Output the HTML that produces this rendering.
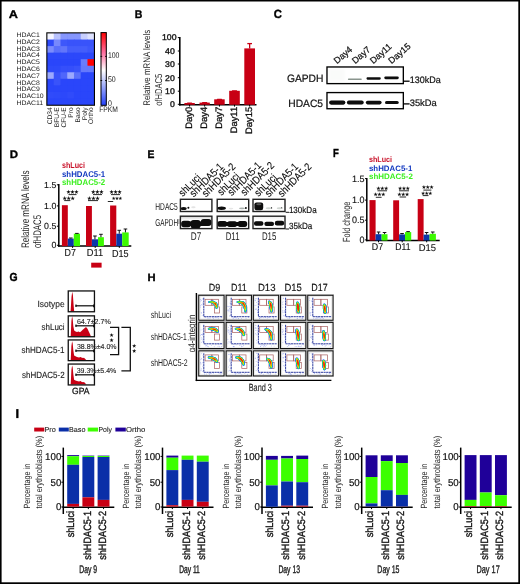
<!DOCTYPE html><html><head><meta charset="utf-8"><style>html,body{margin:0;padding:0;background:#fff;}svg{display:block;opacity:0.999;} text{font-family:"Liberation Sans",sans-serif;text-rendering:geometricPrecision;}</style></head><body>
<svg width="520" height="584" viewBox="0 0 520 584">
<rect x="0.00" y="0.00" width="520.00" height="584.00" fill="#fff" />
<text transform="translate(8.70,17.90) scale(1.1433,1)" font-size="11.14" font-weight="bold" fill="#000" stroke="#000" stroke-width="0.306" >A</text>
<text transform="translate(16.50,37.04) scale(1.0600,1)" font-size="6.50" fill="#222" >HDAC1</text>
<text transform="translate(16.50,43.82) scale(1.0600,1)" font-size="6.50" fill="#222" >HDAC2</text>
<text transform="translate(16.50,50.60) scale(1.0600,1)" font-size="6.50" fill="#222" >HDAC3</text>
<text transform="translate(16.50,57.38) scale(1.0600,1)" font-size="6.50" fill="#222" >HDAC4</text>
<text transform="translate(16.50,64.16) scale(1.0600,1)" font-size="6.50" fill="#222" >HDAC5</text>
<text transform="translate(16.50,70.94) scale(1.0600,1)" font-size="6.50" fill="#222" >HDAC6</text>
<text transform="translate(16.50,77.72) scale(1.0600,1)" font-size="6.50" fill="#222" >HDAC7</text>
<text transform="translate(16.50,84.50) scale(1.0600,1)" font-size="6.50" fill="#222" >HDAC8</text>
<text transform="translate(16.50,91.28) scale(1.0600,1)" font-size="6.50" fill="#222" >HDAC9</text>
<text transform="translate(16.50,98.06) scale(1.0600,1)" font-size="6.50" fill="#222" >HDAC10</text>
<text transform="translate(16.50,104.84) scale(1.0600,1)" font-size="6.50" fill="#222" >HDAC11</text>
<rect x="47.00" y="33.00" width="47.20" height="72.00" fill="rgb(42,70,250)" />
<rect x="47.00" y="33.00" width="7.34" height="7.15" fill="rgb(244,245,255)" />
<rect x="53.74" y="33.00" width="7.34" height="7.15" fill="rgb(185,194,253)" />
<rect x="60.49" y="33.00" width="7.34" height="7.15" fill="rgb(134,150,252)" />
<rect x="67.23" y="33.00" width="7.34" height="7.15" fill="rgb(134,150,252)" />
<rect x="73.97" y="33.00" width="7.34" height="7.15" fill="rgb(134,150,252)" />
<rect x="80.71" y="33.00" width="7.34" height="7.15" fill="rgb(200,207,254)" />
<rect x="87.46" y="33.00" width="6.74" height="7.15" fill="rgb(222,226,254)" />
<rect x="47.00" y="39.55" width="7.34" height="7.15" fill="rgb(46,74,250)" />
<rect x="53.74" y="39.55" width="7.34" height="7.15" fill="rgb(119,137,252)" />
<rect x="60.49" y="39.55" width="7.34" height="7.15" fill="rgb(61,87,251)" />
<rect x="67.23" y="39.55" width="7.34" height="7.15" fill="rgb(57,83,250)" />
<rect x="73.97" y="39.55" width="7.34" height="7.15" fill="rgb(57,83,250)" />
<rect x="80.71" y="39.55" width="7.34" height="7.15" fill="rgb(57,83,250)" />
<rect x="87.46" y="39.55" width="6.74" height="7.15" fill="rgb(57,83,250)" />
<rect x="47.00" y="46.09" width="7.34" height="7.15" fill="rgb(123,140,252)" />
<rect x="53.74" y="46.09" width="7.34" height="7.15" fill="rgb(90,112,251)" />
<rect x="60.49" y="46.09" width="7.34" height="7.15" fill="rgb(97,117,251)" />
<rect x="67.23" y="46.09" width="7.34" height="7.15" fill="rgb(68,93,251)" />
<rect x="73.97" y="46.09" width="7.34" height="7.15" fill="rgb(68,93,251)" />
<rect x="80.71" y="46.09" width="7.34" height="7.15" fill="rgb(68,93,251)" />
<rect x="87.46" y="46.09" width="6.74" height="7.15" fill="rgb(61,87,251)" />
<rect x="47.00" y="52.64" width="7.34" height="7.15" fill="rgb(44,72,250)" />
<rect x="53.74" y="52.64" width="7.34" height="7.15" fill="rgb(44,72,250)" />
<rect x="60.49" y="52.64" width="7.34" height="7.15" fill="rgb(44,72,250)" />
<rect x="67.23" y="52.64" width="7.34" height="7.15" fill="rgb(44,72,250)" />
<rect x="73.97" y="52.64" width="7.34" height="7.15" fill="rgb(44,72,250)" />
<rect x="80.71" y="52.64" width="7.34" height="7.15" fill="rgb(44,72,250)" />
<rect x="87.46" y="52.64" width="6.74" height="7.15" fill="rgb(44,72,250)" />
<rect x="47.00" y="59.18" width="7.34" height="7.15" fill="rgb(42,70,250)" />
<rect x="53.74" y="59.18" width="7.34" height="7.15" fill="rgb(42,70,250)" />
<rect x="60.49" y="59.18" width="7.34" height="7.15" fill="rgb(42,70,250)" />
<rect x="67.23" y="59.18" width="7.34" height="7.15" fill="rgb(42,70,250)" />
<rect x="73.97" y="59.18" width="7.34" height="7.15" fill="rgb(42,70,250)" />
<rect x="80.71" y="59.18" width="7.34" height="7.15" fill="rgb(105,125,252)" />
<rect x="87.46" y="59.18" width="6.74" height="7.15" fill="#FF0000" />
<rect x="47.00" y="65.73" width="7.34" height="7.15" fill="rgb(46,74,250)" />
<rect x="53.74" y="65.73" width="7.34" height="7.15" fill="rgb(46,74,250)" />
<rect x="60.49" y="65.73" width="7.34" height="7.15" fill="rgb(53,79,250)" />
<rect x="67.23" y="65.73" width="7.34" height="7.15" fill="rgb(53,79,250)" />
<rect x="73.97" y="65.73" width="7.34" height="7.15" fill="rgb(57,83,250)" />
<rect x="80.71" y="65.73" width="7.34" height="7.15" fill="rgb(101,121,252)" />
<rect x="87.46" y="65.73" width="6.74" height="7.15" fill="rgb(101,121,252)" />
<rect x="47.00" y="72.27" width="7.34" height="7.15" fill="rgb(156,169,253)" />
<rect x="53.74" y="72.27" width="7.34" height="7.15" fill="rgb(57,83,250)" />
<rect x="60.49" y="72.27" width="7.34" height="7.15" fill="rgb(79,102,251)" />
<rect x="67.23" y="72.27" width="7.34" height="7.15" fill="rgb(156,169,253)" />
<rect x="73.97" y="72.27" width="7.34" height="7.15" fill="rgb(90,112,251)" />
<rect x="80.71" y="72.27" width="7.34" height="7.15" fill="rgb(42,70,250)" />
<rect x="87.46" y="72.27" width="6.74" height="7.15" fill="rgb(42,70,250)" />
<rect x="47.00" y="78.82" width="7.34" height="7.15" fill="rgb(42,70,250)" />
<rect x="53.74" y="78.82" width="7.34" height="7.15" fill="rgb(57,83,250)" />
<rect x="60.49" y="78.82" width="7.34" height="7.15" fill="rgb(42,70,250)" />
<rect x="67.23" y="78.82" width="7.34" height="7.15" fill="rgb(42,70,250)" />
<rect x="73.97" y="78.82" width="7.34" height="7.15" fill="rgb(42,70,250)" />
<rect x="80.71" y="78.82" width="7.34" height="7.15" fill="rgb(42,70,250)" />
<rect x="87.46" y="78.82" width="6.74" height="7.15" fill="rgb(42,70,250)" />
<rect x="47.00" y="85.36" width="7.34" height="7.15" fill="rgb(42,70,250)" />
<rect x="53.74" y="85.36" width="7.34" height="7.15" fill="rgb(42,70,250)" />
<rect x="60.49" y="85.36" width="7.34" height="7.15" fill="rgb(42,70,250)" />
<rect x="67.23" y="85.36" width="7.34" height="7.15" fill="rgb(42,70,250)" />
<rect x="73.97" y="85.36" width="7.34" height="7.15" fill="rgb(42,70,250)" />
<rect x="80.71" y="85.36" width="7.34" height="7.15" fill="rgb(42,70,250)" />
<rect x="87.46" y="85.36" width="6.74" height="7.15" fill="rgb(42,70,250)" />
<rect x="47.00" y="91.91" width="7.34" height="7.15" fill="rgb(48,75,250)" />
<rect x="53.74" y="91.91" width="7.34" height="7.15" fill="rgb(46,74,250)" />
<rect x="60.49" y="91.91" width="7.34" height="7.15" fill="rgb(44,72,250)" />
<rect x="67.23" y="91.91" width="7.34" height="7.15" fill="rgb(48,75,250)" />
<rect x="73.97" y="91.91" width="7.34" height="7.15" fill="rgb(42,70,250)" />
<rect x="80.71" y="91.91" width="7.34" height="7.15" fill="rgb(42,70,250)" />
<rect x="87.46" y="91.91" width="6.74" height="7.15" fill="rgb(42,70,250)" />
<rect x="47.00" y="98.45" width="7.34" height="6.55" fill="rgb(42,70,250)" />
<rect x="53.74" y="98.45" width="7.34" height="6.55" fill="rgb(42,70,250)" />
<rect x="60.49" y="98.45" width="7.34" height="6.55" fill="rgb(42,70,250)" />
<rect x="67.23" y="98.45" width="7.34" height="6.55" fill="rgb(42,70,250)" />
<rect x="73.97" y="98.45" width="7.34" height="6.55" fill="rgb(42,70,250)" />
<rect x="80.71" y="98.45" width="7.34" height="6.55" fill="rgb(42,70,250)" />
<rect x="87.46" y="98.45" width="6.74" height="6.55" fill="rgb(42,70,250)" />
<rect x="46.85" y="32.85" width="47.60" height="72.40" fill="none" stroke="#000" stroke-width="1.1" />
<text transform="translate(52.14,107.40) rotate(-90) scale(0.9700,1)" font-size="6.80" text-anchor="end" fill="#222" >CD34</text>
<text transform="translate(59.44,107.40) rotate(-90) scale(0.9700,1)" font-size="6.80" text-anchor="end" fill="#222" >BFU-E</text>
<text transform="translate(65.94,107.40) rotate(-90) scale(0.9700,1)" font-size="6.80" text-anchor="end" fill="#222" >CFU-E</text>
<text transform="translate(73.24,107.40) rotate(-90) scale(0.9700,1)" font-size="6.80" text-anchor="end" fill="#222" >Pro</text>
<text transform="translate(80.14,107.40) rotate(-90) scale(0.9700,1)" font-size="6.80" text-anchor="end" fill="#222" >Baso</text>
<text transform="translate(86.54,107.40) rotate(-90) scale(0.9700,1)" font-size="6.80" text-anchor="end" fill="#222" >Poly</text>
<text transform="translate(93.24,107.40) rotate(-90) scale(0.9700,1)" font-size="6.80" text-anchor="end" fill="#222" >Ortho</text>
<defs><linearGradient id="cb" x1="0" y1="0" x2="0" y2="1"><stop offset="0" stop-color="#FF0000"/><stop offset="0.28" stop-color="#FF6FA0"/><stop offset="0.52" stop-color="#FFFFFF"/><stop offset="0.68" stop-color="#B8C2FC"/><stop offset="1" stop-color="#2340FA"/></linearGradient></defs>
<rect x="100.90" y="32.40" width="5.60" height="73.00" fill="url(#cb)" />
<rect x="101.00" y="32.60" width="5.30" height="72.70" fill="none" stroke="#000" stroke-width="1.0" />
<line x1="100.50" y1="56.40" x2="102.20" y2="56.40" stroke="#000" stroke-width="0.9" />
<line x1="105.10" y1="56.40" x2="106.80" y2="56.40" stroke="#000" stroke-width="0.9" />
<line x1="100.50" y1="80.50" x2="102.20" y2="80.50" stroke="#000" stroke-width="0.9" />
<line x1="105.10" y1="80.50" x2="106.80" y2="80.50" stroke="#000" stroke-width="0.9" />
<text transform="translate(107.90,57.72) scale(0.8479,1)" font-size="8.20" fill="#222" >100</text>
<text transform="translate(107.90,81.82) scale(0.8552,1)" font-size="8.20" fill="#222" >50</text>
<text transform="translate(107.90,105.72) scale(0.8552,1)" font-size="8.20" fill="#222" >0</text>
<text transform="translate(99.20,112.30) scale(0.8415,1)" font-size="8.00" fill="#222" >FPKM</text>
<text transform="translate(134.70,17.90) scale(0.9444,1)" font-size="11.14" font-weight="bold" fill="#000" stroke="#000" stroke-width="0.371" >B</text>
<line x1="179.80" y1="37.10" x2="179.80" y2="105.40" stroke="#000" stroke-width="1.6" />
<line x1="179.00" y1="104.75" x2="256.50" y2="104.75" stroke="#000" stroke-width="1.4" />
<line x1="177.80" y1="37.60" x2="179.80" y2="37.60" stroke="#000" stroke-width="1.0" />
<text transform="translate(176.50,40.49) scale(1.0400,1)" font-size="8.40" text-anchor="end" fill="#111" stroke="#111" stroke-width="0.337" >100</text>
<line x1="177.80" y1="51.00" x2="179.80" y2="51.00" stroke="#000" stroke-width="1.0" />
<text transform="translate(174.80,53.89) scale(1.0400,1)" font-size="8.40" text-anchor="end" fill="#111" stroke="#111" stroke-width="0.337" >40</text>
<line x1="177.80" y1="64.00" x2="179.80" y2="64.00" stroke="#000" stroke-width="1.0" />
<text transform="translate(174.80,66.89) scale(1.0400,1)" font-size="8.40" text-anchor="end" fill="#111" stroke="#111" stroke-width="0.337" >30</text>
<line x1="177.80" y1="77.70" x2="179.80" y2="77.70" stroke="#000" stroke-width="1.0" />
<text transform="translate(174.80,80.59) scale(1.0400,1)" font-size="8.40" text-anchor="end" fill="#111" stroke="#111" stroke-width="0.337" >20</text>
<line x1="177.80" y1="91.20" x2="179.80" y2="91.20" stroke="#000" stroke-width="1.0" />
<text transform="translate(174.80,94.09) scale(1.0400,1)" font-size="8.40" text-anchor="end" fill="#111" stroke="#111" stroke-width="0.337" >10</text>
<line x1="177.80" y1="104.30" x2="179.80" y2="104.30" stroke="#000" stroke-width="1.0" />
<text transform="translate(174.80,107.19) scale(1.0400,1)" font-size="8.40" text-anchor="end" fill="#111" stroke="#111" stroke-width="0.337" >0</text>
<rect x="184.40" y="103.00" width="10.40" height="1.75" fill="#C80014" />
<rect x="199.50" y="102.60" width="10.30" height="2.15" fill="#C80014" />
<rect x="214.20" y="99.30" width="10.50" height="5.45" fill="#C80014" />
<rect x="229.20" y="90.80" width="10.60" height="13.95" fill="#C80014" />
<rect x="244.30" y="48.40" width="10.70" height="56.35" fill="#C80014" />
<rect x="187.00" y="102.50" width="5.2" height="1.2" rx="0.5" fill="#C80014"/>
<rect x="202.05" y="102.10" width="5.2" height="1.2" rx="0.5" fill="#C80014"/>
<rect x="216.85" y="98.70" width="5.2" height="1.2" rx="0.5" fill="#C80014"/>
<rect x="231.90" y="90.20" width="5.2" height="1.2" rx="0.5" fill="#C80014"/>
<line x1="249.65" y1="48.60" x2="249.65" y2="43.60" stroke="#C80014" stroke-width="1.3" />
<line x1="247.30" y1="43.60" x2="252.00" y2="43.60" stroke="#C80014" stroke-width="1.3" />
<line x1="189.60" y1="104.75" x2="189.60" y2="106.60" stroke="#000" stroke-width="1.0" />
<line x1="204.65" y1="104.75" x2="204.65" y2="106.60" stroke="#000" stroke-width="1.0" />
<line x1="219.45" y1="104.75" x2="219.45" y2="106.60" stroke="#000" stroke-width="1.0" />
<line x1="234.50" y1="104.75" x2="234.50" y2="106.60" stroke="#000" stroke-width="1.0" />
<line x1="249.65" y1="104.75" x2="249.65" y2="106.60" stroke="#000" stroke-width="1.0" />
<text transform="translate(192.20,106.90) rotate(-90)" font-size="9.40" text-anchor="end" fill="#111" stroke="#111" stroke-width="0.300" >Day0</text>
<text transform="translate(207.10,106.90) rotate(-90)" font-size="9.40" text-anchor="end" fill="#111" stroke="#111" stroke-width="0.300" >Day4</text>
<text transform="translate(221.80,106.90) rotate(-90)" font-size="9.40" text-anchor="end" fill="#111" stroke="#111" stroke-width="0.300" >Day7</text>
<text transform="translate(237.10,106.90) rotate(-90)" font-size="9.40" text-anchor="end" fill="#111" stroke="#111" stroke-width="0.300" >Day11</text>
<text transform="translate(251.80,106.90) rotate(-90)" font-size="9.40" text-anchor="end" fill="#111" stroke="#111" stroke-width="0.300" >Day15</text>
<text transform="translate(149.86,105.80) rotate(-90) scale(0.8230,1)" font-size="9.60" fill="#1e1e1e" >Relative mRNA levels</text>
<text transform="translate(162.36,105.80) rotate(-90) scale(0.7576,1)" font-size="10.00" fill="#1e1e1e" >ofHDAC5</text>
<text transform="translate(273.80,18.30) scale(0.9576,1)" font-size="11.86" font-weight="bold" fill="#000" stroke="#000" stroke-width="0.365" >C</text>
<defs><filter id="bl1" x="-30%" y="-150%" width="160%" height="400%"><feGaussianBlur stdDeviation="0.45"/></filter><filter id="bl2" x="-30%" y="-150%" width="160%" height="400%"><feGaussianBlur stdDeviation="0.8"/></filter></defs>
<text transform="translate(337.00,64.20) rotate(-41)" font-size="9.00" fill="#111" stroke="#111" stroke-width="0.250" >Day4</text>
<text transform="translate(355.20,64.20) rotate(-41)" font-size="9.00" fill="#111" stroke="#111" stroke-width="0.250" >Day7</text>
<text transform="translate(373.20,64.20) rotate(-41)" font-size="9.00" fill="#111" stroke="#111" stroke-width="0.250" >Day11</text>
<text transform="translate(391.60,64.20) rotate(-41)" font-size="9.00" fill="#111" stroke="#111" stroke-width="0.250" >Day15</text>
<rect x="328.5" y="69" width="16" height="12" fill="#fafbfa" filter="url(#bl2)"/>
<rect x="347.90" y="78.50" width="13.90" height="1.40" rx="0.70" fill="#8a958e" filter="url(#bl1)"/>
<rect x="366.50" y="77.35" width="14.30" height="2.30" rx="1.15" fill="#0a0a0a" filter="url(#bl1)"/>
<rect x="384.30" y="76.45" width="14.50" height="2.70" rx="1.35" fill="#0a0a0a" filter="url(#bl1)"/>
<rect x="329.10" y="100.45" width="16.30" height="4.30" rx="2.15" fill="#0a0a0a" filter="url(#bl1)"/>
<rect x="346.90" y="100.60" width="16.80" height="4.00" rx="2.00" fill="#0a0a0a" filter="url(#bl1)"/>
<rect x="365.80" y="100.80" width="15.80" height="3.60" rx="1.80" fill="#0a0a0a" filter="url(#bl1)"/>
<rect x="385.00" y="101.10" width="13.70" height="3.00" rx="1.50" fill="#0a0a0a" filter="url(#bl1)"/>
<rect x="326.98" y="66.97" width="76.35" height="16.65" fill="none" stroke="#000" stroke-width="1.35" />
<rect x="326.98" y="92.58" width="76.35" height="16.15" fill="none" stroke="#000" stroke-width="1.35" />
<text transform="translate(286.90,81.60) scale(0.9619,1)" font-size="10.70" fill="#111" stroke="#111" stroke-width="0.208" >GAPDH</text>
<text transform="translate(288.20,107.10) scale(0.9622,1)" font-size="10.70" fill="#111" stroke="#111" stroke-width="0.208" >HDAC5</text>
<line x1="404.00" y1="81.20" x2="409.60" y2="81.20" stroke="#000" stroke-width="1.3" />
<line x1="404.00" y1="103.90" x2="409.60" y2="103.90" stroke="#000" stroke-width="1.3" />
<text transform="translate(409.70,82.80) scale(0.9568,1)" font-size="9.40" fill="#111" stroke="#111" stroke-width="0.209" >130kDa</text>
<text transform="translate(409.70,105.90) scale(0.9974,1)" font-size="9.40" fill="#111" stroke="#111" stroke-width="0.201" >35kDa</text>
<text transform="translate(9.80,157.90) scale(1.0586,1)" font-size="10.86" font-weight="bold" fill="#000" stroke="#000" stroke-width="0.331" >D</text>
<text transform="translate(62.00,167.80) scale(0.8533,1)" font-size="8.40" font-weight="bold" fill="#C81028" >shLuci</text>
<text transform="translate(62.00,177.00) scale(0.9371,1)" font-size="8.40" font-weight="bold" fill="#1238C0" >shHDAC5-1</text>
<text transform="translate(62.00,184.50) scale(0.9371,1)" font-size="8.40" font-weight="bold" fill="#3CF020" >shHDAC5-2</text>
<line x1="58.80" y1="184.00" x2="58.80" y2="246.80" stroke="#000" stroke-width="1.5" />
<line x1="58.10" y1="246.10" x2="131.30" y2="246.10" stroke="#000" stroke-width="1.5" />
<line x1="56.90" y1="184.80" x2="58.80" y2="184.80" stroke="#000" stroke-width="1.0" />
<text transform="translate(56.30,187.83) scale(1.0000,1)" font-size="8.80" text-anchor="end" fill="#111" stroke="#111" stroke-width="0.120" >1.5</text>
<line x1="56.90" y1="205.90" x2="58.80" y2="205.90" stroke="#000" stroke-width="1.0" />
<text transform="translate(56.30,208.93) scale(1.0000,1)" font-size="8.80" text-anchor="end" fill="#111" stroke="#111" stroke-width="0.120" >1.0</text>
<line x1="56.90" y1="226.20" x2="58.80" y2="226.20" stroke="#000" stroke-width="1.0" />
<text transform="translate(56.30,229.23) scale(1.0000,1)" font-size="8.80" text-anchor="end" fill="#111" stroke="#111" stroke-width="0.120" >0.5</text>
<line x1="56.90" y1="245.30" x2="58.80" y2="245.30" stroke="#000" stroke-width="1.0" />
<text transform="translate(56.30,248.33) scale(1.0000,1)" font-size="8.80" text-anchor="end" fill="#111" stroke="#111" stroke-width="0.120" >0</text>
<rect x="61.90" y="205.20" width="5.90" height="40.90" fill="#C80014" />
<rect x="67.80" y="238.60" width="6.00" height="7.50" fill="#0A37AA" />
<line x1="70.80" y1="238.60" x2="70.80" y2="238.00" stroke="#111" stroke-width="1.0" />
<line x1="69.00" y1="238.00" x2="72.60" y2="238.00" stroke="#111" stroke-width="1.0" />
<rect x="73.80" y="233.70" width="6.20" height="12.40" fill="#3CFA00" />
<line x1="76.90" y1="233.70" x2="76.90" y2="233.40" stroke="#111" stroke-width="1.0" />
<line x1="75.10" y1="233.40" x2="78.70" y2="233.40" stroke="#111" stroke-width="1.0" />
<rect x="86.00" y="206.00" width="5.90" height="40.10" fill="#C80014" />
<rect x="91.90" y="239.30" width="6.10" height="6.80" fill="#0A37AA" />
<line x1="94.95" y1="239.30" x2="94.95" y2="236.00" stroke="#111" stroke-width="1.0" />
<line x1="93.15" y1="236.00" x2="96.75" y2="236.00" stroke="#111" stroke-width="1.0" />
<rect x="98.00" y="237.20" width="5.90" height="8.90" fill="#3CFA00" />
<line x1="100.95" y1="237.20" x2="100.95" y2="234.30" stroke="#111" stroke-width="1.0" />
<line x1="99.15" y1="234.30" x2="102.75" y2="234.30" stroke="#111" stroke-width="1.0" />
<rect x="110.10" y="205.50" width="6.20" height="40.60" fill="#C80014" />
<rect x="116.30" y="233.70" width="5.90" height="12.40" fill="#0A37AA" />
<line x1="119.25" y1="233.70" x2="119.25" y2="230.30" stroke="#111" stroke-width="1.0" />
<line x1="117.45" y1="230.30" x2="121.05" y2="230.30" stroke="#111" stroke-width="1.0" />
<rect x="122.20" y="232.40" width="6.50" height="13.70" fill="#3CFA00" />
<line x1="125.45" y1="232.40" x2="125.45" y2="229.00" stroke="#111" stroke-width="1.0" />
<line x1="123.65" y1="229.00" x2="127.25" y2="229.00" stroke="#111" stroke-width="1.0" />
<polygon points="68.48,189.70 69.02,191.26 70.67,191.29 69.36,192.28 69.84,193.86 68.48,192.92 67.13,193.86 67.61,192.28 66.30,191.29 67.94,191.26" fill="#111"/>
<polygon points="72.45,189.70 72.99,191.26 74.64,191.29 73.33,192.28 73.80,193.86 72.45,192.92 71.10,193.86 71.57,192.28 70.26,191.29 71.91,191.26" fill="#111"/>
<polygon points="76.42,189.70 76.96,191.26 78.60,191.29 77.29,192.28 77.77,193.86 76.42,192.92 75.06,193.86 75.54,192.28 74.23,191.29 75.88,191.26" fill="#111"/>
<line x1="68.50" y1="194.60" x2="76.50" y2="194.60" stroke="#111" stroke-width="0.9" />
<polygon points="64.70,196.08 65.25,197.65 66.91,197.68 65.58,198.69 66.06,200.28 64.70,199.33 63.34,200.28 63.82,198.69 62.49,197.68 64.15,197.65" fill="#111"/>
<polygon points="68.70,196.08 69.25,197.65 70.91,197.68 69.58,198.69 70.06,200.28 68.70,199.33 67.34,200.28 67.82,198.69 66.49,197.68 68.15,197.65" fill="#111"/>
<polygon points="72.70,196.08 73.25,197.65 74.91,197.68 73.58,198.69 74.06,200.28 72.70,199.33 71.34,200.28 71.82,198.69 70.49,197.68 72.15,197.65" fill="#111"/>
<line x1="64.20" y1="200.60" x2="70.40" y2="200.60" stroke="#111" stroke-width="0.9" />
<polygon points="93.25,189.62 93.81,191.23 95.51,191.27 94.15,192.29 94.65,193.92 93.25,192.95 91.85,193.92 92.35,192.29 90.99,191.27 92.69,191.23" fill="#111"/>
<polygon points="97.35,189.62 97.91,191.23 99.61,191.27 98.25,192.29 98.75,193.92 97.35,192.95 95.95,193.92 96.45,192.29 95.09,191.27 96.79,191.23" fill="#111"/>
<polygon points="101.45,189.62 102.01,191.23 103.71,191.27 102.35,192.29 102.85,193.92 101.45,192.95 100.05,193.92 100.55,192.29 99.19,191.27 100.89,191.23" fill="#111"/>
<line x1="93.00" y1="194.60" x2="102.00" y2="194.60" stroke="#111" stroke-width="0.9" />
<polygon points="89.35,196.02 89.91,197.63 91.61,197.67 90.25,198.69 90.75,200.32 89.35,199.35 87.95,200.32 88.45,198.69 87.09,197.67 88.79,197.63" fill="#111"/>
<polygon points="93.45,196.02 94.01,197.63 95.71,197.67 94.35,198.69 94.85,200.32 93.45,199.35 92.05,200.32 92.55,198.69 91.19,197.67 92.89,197.63" fill="#111"/>
<polygon points="97.55,196.02 98.11,197.63 99.81,197.67 98.45,198.69 98.95,200.32 97.55,199.35 96.15,200.32 96.65,198.69 95.29,197.67 96.99,197.63" fill="#111"/>
<line x1="88.00" y1="200.60" x2="98.00" y2="200.60" stroke="#111" stroke-width="0.9" />
<polygon points="111.60,189.68 112.15,191.25 113.81,191.28 112.48,192.29 112.96,193.88 111.60,192.93 110.24,193.88 110.72,192.29 109.39,191.28 111.05,191.25" fill="#111"/>
<polygon points="115.60,189.68 116.15,191.25 117.81,191.28 116.48,192.29 116.96,193.88 115.60,192.93 114.24,193.88 114.72,192.29 113.39,191.28 115.05,191.25" fill="#111"/>
<polygon points="119.60,189.68 120.15,191.25 121.81,191.28 120.48,192.29 120.96,193.88 119.60,192.93 118.24,193.88 118.72,192.29 117.39,191.28 119.05,191.25" fill="#111"/>
<line x1="111.00" y1="194.60" x2="120.00" y2="194.60" stroke="#111" stroke-width="0.9" />
<polygon points="113.67,196.47 114.12,197.77 115.51,197.80 114.40,198.64 114.80,199.96 113.67,199.17 112.53,199.96 112.93,198.64 111.83,197.80 113.21,197.77" fill="#111"/>
<polygon points="117.00,196.47 117.45,197.77 118.84,197.80 117.74,198.64 118.14,199.96 117.00,199.17 115.86,199.96 116.26,198.64 115.16,197.80 116.55,197.77" fill="#111"/>
<polygon points="120.33,196.47 120.79,197.77 122.17,197.80 121.07,198.64 121.47,199.96 120.33,199.17 119.20,199.96 119.60,198.64 118.49,197.80 119.88,197.77" fill="#111"/>
<line x1="107.80" y1="201.50" x2="113.20" y2="201.50" stroke="#111" stroke-width="0.9" />
<text transform="translate(70.20,256.21) scale(0.8666,1)" font-size="10.20" text-anchor="middle" fill="#111" stroke="#111" stroke-width="0.115" >D7</text>
<text transform="translate(95.00,256.21) scale(0.9085,1)" font-size="10.20" text-anchor="middle" fill="#111" stroke="#111" stroke-width="0.110" >D11</text>
<text transform="translate(120.20,257.41) scale(0.8871,1)" font-size="10.20" text-anchor="middle" fill="#111" stroke="#111" stroke-width="0.113" >D15</text>
<rect x="91.20" y="262.70" width="10.40" height="4.90" fill="#C80014" />
<line x1="72.60" y1="246.10" x2="72.60" y2="247.90" stroke="#000" stroke-width="1.0" />
<line x1="95.20" y1="246.10" x2="95.20" y2="247.90" stroke="#000" stroke-width="1.0" />
<line x1="119.30" y1="246.10" x2="119.30" y2="247.90" stroke="#000" stroke-width="1.0" />
<text transform="translate(29.12,248.00) rotate(-90) scale(0.7401,1)" font-size="10.90" fill="#1e1e1e" >Relative mRNA levels</text>
<text transform="translate(40.81,248.00) rotate(-90) scale(0.7103,1)" font-size="11.00" fill="#1e1e1e" >ofHDAC5</text>
<text transform="translate(147.60,158.00) scale(0.9528,1)" font-size="10.86" font-weight="bold" fill="#000" stroke="#000" stroke-width="0.367" >E</text>
<defs><linearGradient id="gtop" x1="0" y1="0" x2="0" y2="1"><stop offset="0" stop-color="#c8c8c8"/><stop offset="1" stop-color="#ffffff"/></linearGradient></defs>
<rect x="180.80" y="216.60" width="31.00" height="3.50" fill="url(#gtop)" opacity="0.8"/>
<rect x="217.60" y="216.60" width="31.00" height="3.50" fill="url(#gtop)" opacity="0.5"/>
<rect x="253.40" y="216.60" width="31.20" height="3.50" fill="url(#gtop)" opacity="0.3"/>
<rect x="177.50" y="219.00" width="2.20" height="5.00" fill="#bbbbbb" />
<g filter="url(#bl1)" fill="#080808">
<rect x="181.2" y="220.8" width="9.6" height="6.4" rx="2.6"/>
<rect x="190.6" y="220.0" width="10.0" height="8.4" rx="3.0"/>
<rect x="200.8" y="218.9" width="10.6" height="7.0" rx="3.0"/>
<rect x="184" y="221.5" width="24" height="4.5"/>
<rect x="217.4" y="221.0" width="9.6" height="5.8" rx="2.6"/>
<rect x="227.0" y="221.3" width="10.2" height="5.6" rx="2.6"/>
<rect x="237.6" y="221.0" width="9.6" height="5.9" rx="2.6"/>
<rect x="220" y="222" width="25" height="4"/>
<rect x="254.0" y="221.3" width="9.4" height="4.5" rx="2.0"/>
<rect x="264.4" y="221.8" width="9.6" height="4.1" rx="2.0"/>
<rect x="274.8" y="220.7" width="9.4" height="4.8" rx="2.2"/>
<ellipse cx="183.6" cy="208.4" rx="3.0" ry="1.5"/>
<circle cx="188.4" cy="207.8" r="1.0"/>
<ellipse cx="221.6" cy="208.3" rx="4.3" ry="1.7"/>
<circle cx="245.9" cy="208.0" r="0.9"/>
<rect x="254.4" y="202.4" width="8.8" height="7.8" rx="2.2"/>
<circle cx="271.5" cy="207.9" r="0.7"/>
<circle cx="281.6" cy="207.9" r="0.7"/>
</g>
<g filter="url(#bl1)">
<ellipse cx="242.0" cy="208.3" rx="3.0" ry="0.9" fill="#a8b0ac"/>
<ellipse cx="193.4" cy="207.2" rx="2.2" ry="1.0" fill="#e4e4e4"/>
<ellipse cx="268.5" cy="208.3" rx="2.8" ry="1.0" fill="#d0d6d2"/>
<ellipse cx="279.3" cy="208.3" rx="2.6" ry="1.0" fill="#d0d6d2"/>
<ellipse cx="258.8" cy="204.2" rx="2.6" ry="1.0" fill="#555"/>
<ellipse cx="231.0" cy="208.6" rx="2.4" ry="0.8" fill="#e6e6e6"/>
</g>
<rect x="180.40" y="199.30" width="31.50" height="12.20" fill="none" stroke="#222" stroke-width="1.4" />
<rect x="180.40" y="216.20" width="31.50" height="12.40" fill="none" stroke="#222" stroke-width="1.4" />
<rect x="217.20" y="199.30" width="31.50" height="12.20" fill="none" stroke="#222" stroke-width="1.4" />
<rect x="217.20" y="216.20" width="31.50" height="12.40" fill="none" stroke="#222" stroke-width="1.4" />
<rect x="253.00" y="199.30" width="32.00" height="12.20" fill="none" stroke="#222" stroke-width="1.4" />
<rect x="253.00" y="216.20" width="32.00" height="12.40" fill="none" stroke="#222" stroke-width="1.4" />
<text transform="translate(155.30,209.80) scale(0.6638,1)" font-size="10.00" fill="#151515" >HDAC5</text>
<text transform="translate(155.30,226.00) scale(0.6383,1)" font-size="10.00" fill="#151515" >GAPDH</text>
<text transform="translate(182.70,197.10) rotate(-45) scale(0.8700,1)" font-size="10.60" stroke="#1a1a1a" stroke-width="0.115" >shLuci</text>
<text transform="translate(193.80,197.40) rotate(-45) scale(0.8700,1)" font-size="10.60" stroke="#1a1a1a" stroke-width="0.115" >shHDA5-1</text>
<text transform="translate(206.10,197.40) rotate(-45) scale(0.8700,1)" font-size="10.60" stroke="#1a1a1a" stroke-width="0.115" >shHDA5-2</text>
<text transform="translate(221.40,195.90) rotate(-45) scale(0.8700,1)" font-size="10.60" stroke="#1a1a1a" stroke-width="0.115" >shLuci</text>
<text transform="translate(231.80,196.30) rotate(-45) scale(0.8700,1)" font-size="10.60" stroke="#1a1a1a" stroke-width="0.115" >shHDA5-1</text>
<text transform="translate(244.80,196.30) rotate(-45) scale(0.8700,1)" font-size="10.60" stroke="#1a1a1a" stroke-width="0.115" >shHDA5-2</text>
<text transform="translate(258.50,197.10) rotate(-45) scale(0.8700,1)" font-size="10.60" stroke="#1a1a1a" stroke-width="0.115" >shLuci</text>
<text transform="translate(268.90,197.40) rotate(-45) scale(0.8700,1)" font-size="10.60" stroke="#1a1a1a" stroke-width="0.115" >shHDA5-1</text>
<text transform="translate(282.00,197.40) rotate(-45) scale(0.8700,1)" font-size="10.60" stroke="#1a1a1a" stroke-width="0.115" >shHDA5-2</text>
<text transform="translate(288.90,212.60) scale(0.8929,1)" font-size="9.00" fill="#111" stroke="#111" stroke-width="0.168" >130kDa</text>
<text transform="translate(289.00,229.40) scale(0.8956,1)" font-size="9.00" fill="#111" stroke="#111" stroke-width="0.167" >35kDa</text>
<line x1="285.70" y1="212.30" x2="289.00" y2="212.30" stroke="#000" stroke-width="0.9" />
<line x1="285.70" y1="229.00" x2="289.00" y2="229.00" stroke="#000" stroke-width="0.9" />
<text transform="translate(196.00,239.50) scale(0.7334,1)" font-size="11.20" text-anchor="middle" fill="#222" >D7</text>
<text transform="translate(232.60,239.50) scale(0.7009,1)" font-size="11.20" text-anchor="middle" fill="#222" >D11</text>
<text transform="translate(269.10,239.50) scale(0.7009,1)" font-size="11.20" text-anchor="middle" fill="#222" >D15</text>
<text transform="translate(333.00,157.30) scale(0.8206,1)" font-size="11.57" font-weight="bold" fill="#000" stroke="#000" stroke-width="0.427" >F</text>
<text transform="translate(369.00,161.50) scale(0.9073,1)" font-size="7.90" font-weight="bold" fill="#C81028" >shLuci</text>
<text transform="translate(369.00,170.80) scale(0.9964,1)" font-size="7.90" font-weight="bold" fill="#1238C0" >shHDAC5-1</text>
<text transform="translate(369.00,178.60) scale(1.0102,1)" font-size="7.90" font-weight="bold" fill="#3CF020" >shHDAC5-2</text>
<line x1="366.80" y1="178.10" x2="366.80" y2="241.20" stroke="#000" stroke-width="1.5" />
<line x1="366.10" y1="240.50" x2="439.70" y2="240.50" stroke="#000" stroke-width="1.5" />
<line x1="365.00" y1="178.60" x2="366.80" y2="178.60" stroke="#000" stroke-width="1.0" />
<text transform="translate(364.60,181.76) scale(0.9800,1)" font-size="9.20" text-anchor="end" fill="#111" stroke="#111" stroke-width="0.122" >1.5</text>
<line x1="365.00" y1="200.10" x2="366.80" y2="200.10" stroke="#000" stroke-width="1.0" />
<text transform="translate(364.60,203.26) scale(0.9800,1)" font-size="9.20" text-anchor="end" fill="#111" stroke="#111" stroke-width="0.122" >1.0</text>
<line x1="365.00" y1="220.20" x2="366.80" y2="220.20" stroke="#000" stroke-width="1.0" />
<text transform="translate(364.60,223.36) scale(0.9800,1)" font-size="9.20" text-anchor="end" fill="#111" stroke="#111" stroke-width="0.122" >0.5</text>
<line x1="365.00" y1="239.90" x2="366.80" y2="239.90" stroke="#000" stroke-width="1.0" />
<text transform="translate(364.60,243.06) scale(0.9800,1)" font-size="9.20" text-anchor="end" fill="#111" stroke="#111" stroke-width="0.122" >0</text>
<rect x="369.50" y="200.10" width="6.10" height="40.40" fill="#C80014" />
<rect x="375.60" y="234.20" width="6.00" height="6.30" fill="#0A37AA" />
<line x1="378.60" y1="234.20" x2="378.60" y2="232.00" stroke="#111" stroke-width="1.0" />
<line x1="376.80" y1="232.00" x2="380.40" y2="232.00" stroke="#111" stroke-width="1.0" />
<rect x="381.60" y="234.20" width="5.90" height="6.30" fill="#3CFA00" />
<line x1="384.55" y1="234.20" x2="384.55" y2="232.50" stroke="#111" stroke-width="1.0" />
<line x1="382.75" y1="232.50" x2="386.35" y2="232.50" stroke="#111" stroke-width="1.0" />
<rect x="393.20" y="200.30" width="5.90" height="40.20" fill="#C80014" />
<rect x="399.10" y="234.40" width="5.90" height="6.10" fill="#0A37AA" />
<line x1="402.05" y1="234.40" x2="402.05" y2="233.50" stroke="#111" stroke-width="1.0" />
<line x1="400.25" y1="233.50" x2="403.85" y2="233.50" stroke="#111" stroke-width="1.0" />
<rect x="405.00" y="232.10" width="6.20" height="8.40" fill="#3CFA00" />
<line x1="408.10" y1="232.10" x2="408.10" y2="231.60" stroke="#111" stroke-width="1.0" />
<line x1="406.30" y1="231.60" x2="409.90" y2="231.60" stroke="#111" stroke-width="1.0" />
<rect x="417.70" y="199.10" width="5.90" height="41.40" fill="#C80014" />
<rect x="423.60" y="234.60" width="6.00" height="5.90" fill="#0A37AA" />
<line x1="426.60" y1="234.60" x2="426.60" y2="232.50" stroke="#111" stroke-width="1.0" />
<line x1="424.80" y1="232.50" x2="428.40" y2="232.50" stroke="#111" stroke-width="1.0" />
<rect x="429.60" y="233.80" width="6.30" height="6.70" fill="#3CFA00" />
<line x1="432.75" y1="233.80" x2="432.75" y2="232.00" stroke="#111" stroke-width="1.0" />
<line x1="430.95" y1="232.00" x2="434.55" y2="232.00" stroke="#111" stroke-width="1.0" />
<polygon points="378.43,186.16 378.96,187.67 380.57,187.71 379.29,188.68 379.75,190.21 378.43,189.30 377.12,190.21 377.58,188.68 376.30,187.71 377.91,187.67" fill="#111"/>
<polygon points="382.30,186.16 382.83,187.67 384.43,187.71 383.15,188.68 383.62,190.21 382.30,189.30 380.98,190.21 381.45,188.68 380.17,187.71 381.77,187.67" fill="#111"/>
<polygon points="386.17,186.16 386.69,187.67 388.30,187.71 387.02,188.68 387.48,190.21 386.17,189.30 384.85,190.21 385.31,188.68 384.03,187.71 385.64,187.67" fill="#111"/>
<line x1="377.50" y1="190.80" x2="387.00" y2="190.80" stroke="#111" stroke-width="0.9" />
<polygon points="375.62,192.18 376.14,193.68 377.73,193.71 376.46,194.67 376.92,196.20 375.62,195.29 374.31,196.20 374.77,194.67 373.50,193.71 375.09,193.68" fill="#111"/>
<polygon points="379.45,192.18 379.97,193.68 381.56,193.71 380.30,194.67 380.76,196.20 379.45,195.29 378.14,196.20 378.60,194.67 377.34,193.71 378.93,193.68" fill="#111"/>
<polygon points="383.28,192.18 383.81,193.68 385.40,193.71 384.13,194.67 384.59,196.20 383.28,195.29 381.98,196.20 382.44,194.67 381.17,193.71 382.76,193.68" fill="#111"/>
<line x1="375.80" y1="197.30" x2="381.60" y2="197.30" stroke="#111" stroke-width="0.9" />
<polygon points="400.12,186.18 400.64,187.68 402.23,187.71 400.96,188.67 401.42,190.20 400.12,189.29 398.81,190.20 399.27,188.67 398.00,187.71 399.59,187.68" fill="#111"/>
<polygon points="403.95,186.18 404.47,187.68 406.06,187.71 404.80,188.67 405.26,190.20 403.95,189.29 402.64,190.20 403.10,188.67 401.84,187.71 403.43,187.68" fill="#111"/>
<polygon points="407.78,186.18 408.31,187.68 409.90,187.71 408.63,188.67 409.09,190.20 407.78,189.29 406.48,190.20 406.94,188.67 405.67,187.71 407.26,187.68" fill="#111"/>
<line x1="399.00" y1="190.80" x2="409.00" y2="190.80" stroke="#111" stroke-width="0.9" />
<polygon points="399.42,192.18 399.94,193.68 401.53,193.71 400.26,194.67 400.72,196.20 399.42,195.29 398.11,196.20 398.57,194.67 397.30,193.71 398.89,193.68" fill="#111"/>
<polygon points="403.25,192.18 403.77,193.68 405.36,193.71 404.10,194.67 404.56,196.20 403.25,195.29 401.94,196.20 402.40,194.67 401.14,193.71 402.73,193.68" fill="#111"/>
<polygon points="407.08,192.18 407.61,193.68 409.20,193.71 407.93,194.67 408.39,196.20 407.08,195.29 405.78,196.20 406.24,194.67 404.97,193.71 406.56,193.68" fill="#111"/>
<line x1="399.60" y1="197.00" x2="406.10" y2="197.00" stroke="#111" stroke-width="0.9" />
<polygon points="423.92,184.98 424.44,186.48 426.03,186.51 424.76,187.47 425.22,189.00 423.92,188.09 422.61,189.00 423.07,187.47 421.80,186.51 423.39,186.48" fill="#111"/>
<polygon points="427.75,184.98 428.27,186.48 429.86,186.51 428.60,187.47 429.06,189.00 427.75,188.09 426.44,189.00 426.90,187.47 425.64,186.51 427.23,186.48" fill="#111"/>
<polygon points="431.58,184.98 432.11,186.48 433.70,186.51 432.43,187.47 432.89,189.00 431.58,188.09 430.28,189.00 430.74,187.47 429.47,186.51 431.06,186.48" fill="#111"/>
<line x1="423.40" y1="190.10" x2="431.40" y2="190.10" stroke="#111" stroke-width="0.9" />
<polygon points="423.10,191.31 423.59,192.72 425.09,192.75 423.89,193.66 424.33,195.09 423.10,194.24 421.87,195.09 422.31,193.66 421.11,192.75 422.61,192.72" fill="#111"/>
<polygon points="426.70,191.31 427.19,192.72 428.69,192.75 427.49,193.66 427.93,195.09 426.70,194.24 425.47,195.09 425.91,193.66 424.71,192.75 426.21,192.72" fill="#111"/>
<polygon points="430.30,191.31 430.79,192.72 432.29,192.75 431.09,193.66 431.53,195.09 430.30,194.24 429.07,195.09 429.51,193.66 428.31,192.75 429.81,192.72" fill="#111"/>
<line x1="422.70" y1="195.60" x2="428.50" y2="195.60" stroke="#111" stroke-width="0.9" />
<text transform="translate(377.50,250.07) scale(0.9020,1)" font-size="9.80" text-anchor="middle" fill="#111" stroke="#111" stroke-width="0.111" >D7</text>
<text transform="translate(402.90,250.07) scale(0.8789,1)" font-size="9.80" text-anchor="middle" fill="#111" stroke="#111" stroke-width="0.114" >D11</text>
<text transform="translate(427.40,251.07) scale(0.9623,1)" font-size="9.80" text-anchor="middle" fill="#111" stroke="#111" stroke-width="0.104" >D15</text>
<line x1="378.50" y1="240.50" x2="378.50" y2="242.30" stroke="#000" stroke-width="1.0" />
<line x1="402.20" y1="240.50" x2="402.20" y2="242.30" stroke="#000" stroke-width="1.0" />
<line x1="426.70" y1="240.50" x2="426.70" y2="242.30" stroke="#000" stroke-width="1.0" />
<text transform="translate(350.24,242.00) rotate(-90) scale(0.7075,1)" font-size="10.40" fill="#1e1e1e" >Fold change</text>
<text transform="translate(9.40,281.20) scale(0.8890,1)" font-size="11.71" font-weight="bold" fill="#000" stroke="#000" stroke-width="0.394" >G</text>
<path d="M70.6,311.4 L71.5,297 L72.2,291.8 L72.9,295 L73.6,305 L74.2,311.4 Z" fill="#C80014"/>
<rect x="68.25" y="290.95" width="26.20" height="20.80" fill="none" stroke="#111" stroke-width="1.3" />
<path d="M70.7,336.4 L71.4,321 L72.1,316.3 L72.7,319 L73.3,326 L74.2,330.6 L75.6,331.6 L77,332.0 L78.5,331.4 L80,332.2 L81.5,331.0 L83,329.6 L84.5,328.2 L85.6,327.3 L86.6,327.6 L87.6,329.0 L89.0,332.0 L90.2,334.5 L90.9,336.4 Z" fill="#C80014"/>
<rect x="68.25" y="315.85" width="26.20" height="20.90" fill="none" stroke="#111" stroke-width="1.3" />
<path d="M70.7,360.3 L71.4,346 L72.1,341.2 L72.7,343.5 L73.3,350 L74.1,355.6 L75.5,356.3 L77,356.9 L79,357.4 L80.5,356.9 L81.4,357.6 L83,358.0 L84,357.7 L85,358.7 L86.4,360.3 Z" fill="#C80014"/>
<rect x="68.25" y="339.95" width="26.20" height="20.70" fill="none" stroke="#111" stroke-width="1.3" />
<path d="M70.7,384.6 L71.4,370 L72.1,365.4 L72.7,367.5 L73.3,374 L74.1,379.8 L75.5,380.5 L77,381.1 L79,381.5 L80.5,381.0 L81.4,381.7 L83,382.2 L84,381.9 L85,382.9 L86.4,384.6 Z" fill="#C80014"/>
<rect x="68.25" y="364.05" width="26.20" height="20.90" fill="none" stroke="#111" stroke-width="1.3" />
<line x1="75.60" y1="305.80" x2="94.00" y2="305.80" stroke="#111" stroke-width="1.25" />
<line x1="76.00" y1="304.50" x2="76.00" y2="307.10" stroke="#111" stroke-width="1.2" />
<line x1="93.70" y1="304.40" x2="93.70" y2="307.20" stroke="#111" stroke-width="1.3" />
<line x1="75.60" y1="325.80" x2="94.00" y2="325.80" stroke="#111" stroke-width="1.25" />
<line x1="76.00" y1="324.50" x2="76.00" y2="327.10" stroke="#111" stroke-width="1.2" />
<line x1="93.70" y1="324.40" x2="93.70" y2="327.20" stroke="#111" stroke-width="1.3" />
<line x1="75.60" y1="350.80" x2="94.00" y2="350.80" stroke="#111" stroke-width="1.25" />
<line x1="76.00" y1="349.50" x2="76.00" y2="352.10" stroke="#111" stroke-width="1.2" />
<line x1="93.70" y1="349.40" x2="93.70" y2="352.20" stroke="#111" stroke-width="1.3" />
<line x1="75.60" y1="374.80" x2="94.00" y2="374.80" stroke="#111" stroke-width="1.25" />
<line x1="76.00" y1="373.50" x2="76.00" y2="376.10" stroke="#111" stroke-width="1.2" />
<line x1="93.70" y1="373.40" x2="93.70" y2="376.20" stroke="#111" stroke-width="1.3" />
<text transform="translate(76.90,323.70) scale(0.9862,1)" font-size="7.20" fill="#222" stroke="#222" stroke-width="0.101" >64.7±2.7%</text>
<text transform="translate(76.90,348.70) scale(0.9736,1)" font-size="7.20" fill="#222" stroke="#222" stroke-width="0.103" >38.8%±4.0%</text>
<text transform="translate(76.70,373.00) scale(0.9711,1)" font-size="7.20" fill="#222" stroke="#222" stroke-width="0.103" >39.3%±5.4%</text>
<path d="M110,327.3 H118.6 V354.7 H110" fill="none" stroke="#111" stroke-width="1.3"/>
<path d="M121.4,327.3 H130.3 V370.9 H121.4" fill="none" stroke="#111" stroke-width="1.3"/>
<polygon points="111.60,333.00 112.12,334.49 113.69,334.52 112.44,335.47 112.89,336.98 111.60,336.08 110.31,336.98 110.76,335.47 109.51,334.52 111.08,334.49" fill="#111"/>
<polygon points="111.60,338.10 112.12,339.59 113.69,339.62 112.44,340.57 112.89,342.08 111.60,341.18 110.31,342.08 110.76,340.57 109.51,339.62 111.08,339.59" fill="#111"/>
<polygon points="134.20,343.70 134.72,345.19 136.29,345.22 135.04,346.17 135.49,347.68 134.20,346.78 132.91,347.68 133.36,346.17 132.11,345.22 133.68,345.19" fill="#111"/>
<polygon points="134.20,348.80 134.72,350.29 136.29,350.32 135.04,351.27 135.49,352.78 134.20,351.88 132.91,352.78 133.36,351.27 132.11,350.32 133.68,350.29" fill="#111"/>
<text transform="translate(64.60,307.10) scale(0.9339,1)" font-size="9.00" text-anchor="end" fill="#222" stroke="#222" stroke-width="0.107" >Isotype</text>
<text transform="translate(64.60,330.10) scale(0.8879,1)" font-size="9.00" text-anchor="end" fill="#222" stroke="#222" stroke-width="0.113" >shLuci</text>
<text transform="translate(64.60,352.90) scale(0.8976,1)" font-size="9.00" text-anchor="end" fill="#222" stroke="#222" stroke-width="0.111" >shHDAC5-1</text>
<text transform="translate(64.60,378.00) scale(0.8872,1)" font-size="9.00" text-anchor="end" fill="#222" stroke="#222" stroke-width="0.113" >shHDAC5-2</text>
<text transform="translate(80.80,393.90) scale(0.9471,1)" font-size="9.00" text-anchor="middle" fill="#111" stroke="#111" stroke-width="0.264" >GPA</text>
<text transform="translate(147.60,281.00) scale(1.0468,1)" font-size="10.71" font-weight="bold" fill="#000" stroke="#000" stroke-width="0.334" >H</text>
<defs><filter id="blb" x="-50%" y="-50%" width="200%" height="200%"><feGaussianBlur stdDeviation="0.35"/></filter></defs>
<rect x="197.40" y="294.20" width="136.60" height="82.60" fill="#c4c4c4" />
<rect x="198.20" y="294.70" width="26.40" height="26.10" fill="#fff" />
<rect x="200.10" y="296.60" width="22.60" height="22.30" fill="none" stroke="#dcdcdc" stroke-width="0.5"/>
<g fill="#7080e8" opacity="0.75"><circle cx="201.31" cy="300.49" r="0.45"/><circle cx="202.22" cy="299.04" r="0.45"/><circle cx="201.90" cy="304.47" r="0.45"/><circle cx="200.56" cy="307.09" r="0.45"/><circle cx="200.50" cy="305.72" r="0.45"/><circle cx="200.60" cy="299.38" r="0.45"/><circle cx="201.59" cy="313.00" r="0.45"/><circle cx="200.75" cy="301.83" r="0.45"/><circle cx="202.16" cy="315.23" r="0.45"/><circle cx="202.02" cy="305.04" r="0.45"/><circle cx="203.13" cy="298.56" r="0.45"/><circle cx="202.80" cy="303.06" r="0.45"/><circle cx="200.80" cy="299.88" r="0.45"/><circle cx="201.26" cy="312.80" r="0.45"/><circle cx="207.77" cy="318.06" r="0.45"/><circle cx="215.56" cy="317.78" r="0.45"/><circle cx="214.01" cy="317.38" r="0.45"/><circle cx="205.71" cy="317.57" r="0.45"/><circle cx="216.27" cy="317.86" r="0.45"/><circle cx="210.04" cy="318.06" r="0.45"/><circle cx="212.40" cy="317.69" r="0.45"/><circle cx="218.20" cy="318.21" r="0.45"/><circle cx="208.85" cy="318.05" r="0.45"/><circle cx="213.63" cy="318.44" r="0.45"/><circle cx="217.10" cy="317.67" r="0.45"/><circle cx="221.36" cy="317.45" r="0.45"/></g>
<path d="M203.80,297.70 V316.70 H222.50" fill="none" stroke="#22309a" stroke-width="0.95" stroke-dasharray="2.2,0.5"/>
<g fill="none" stroke="#a86262" stroke-width="0.72"><rect x="205.10" y="299.30" width="6.8" height="6.0"/><rect x="211.90" y="299.30" width="6.7" height="6.0"/><rect x="214.40" y="306.90" width="5.1" height="6.1"/></g>
<g filter="url(#blb)">
<g fill="#1840ff"><circle cx="209.10" cy="302.00" r="0.91"/><circle cx="209.70" cy="302.00" r="0.99"/><circle cx="210.30" cy="302.00" r="1.07"/><circle cx="210.90" cy="302.00" r="1.15"/><circle cx="211.50" cy="302.00" r="1.23"/><circle cx="212.10" cy="302.00" r="1.30"/><circle cx="212.70" cy="302.00" r="1.38"/><circle cx="213.15" cy="302.28" r="1.45"/><circle cx="213.60" cy="302.57" r="1.52"/><circle cx="214.05" cy="302.85" r="1.59"/><circle cx="214.50" cy="303.13" r="1.66"/><circle cx="214.95" cy="303.42" r="1.72"/><circle cx="215.40" cy="303.70" r="1.79"/><circle cx="215.58" cy="304.12" r="1.75"/><circle cx="215.77" cy="304.53" r="1.70"/><circle cx="215.95" cy="304.95" r="1.66"/><circle cx="216.13" cy="305.37" r="1.61"/><circle cx="216.32" cy="305.78" r="1.57"/><circle cx="216.50" cy="306.20" r="1.52"/><circle cx="216.50" cy="306.48" r="1.43"/><circle cx="216.50" cy="306.77" r="1.34"/><circle cx="216.50" cy="307.05" r="1.25"/><circle cx="216.50" cy="307.33" r="1.16"/><circle cx="216.50" cy="307.62" r="1.07"/><circle cx="216.50" cy="307.90" r="0.98"/></g>
<g fill="#10c8f0"><circle cx="209.10" cy="302.00" r="0.69"/><circle cx="209.70" cy="302.00" r="0.77"/><circle cx="210.30" cy="302.00" r="0.85"/><circle cx="210.90" cy="302.00" r="0.93"/><circle cx="211.50" cy="302.00" r="1.01"/><circle cx="212.10" cy="302.00" r="1.08"/><circle cx="212.70" cy="302.00" r="1.16"/><circle cx="213.15" cy="302.28" r="1.23"/><circle cx="213.60" cy="302.57" r="1.30"/><circle cx="214.05" cy="302.85" r="1.37"/><circle cx="214.50" cy="303.13" r="1.44"/><circle cx="214.95" cy="303.42" r="1.50"/><circle cx="215.40" cy="303.70" r="1.57"/><circle cx="215.58" cy="304.12" r="1.53"/><circle cx="215.77" cy="304.53" r="1.48"/><circle cx="215.95" cy="304.95" r="1.44"/><circle cx="216.13" cy="305.37" r="1.39"/><circle cx="216.32" cy="305.78" r="1.35"/><circle cx="216.50" cy="306.20" r="1.30"/><circle cx="216.50" cy="306.48" r="1.21"/><circle cx="216.50" cy="306.77" r="1.12"/><circle cx="216.50" cy="307.05" r="1.03"/><circle cx="216.50" cy="307.33" r="0.94"/><circle cx="216.50" cy="307.62" r="0.85"/><circle cx="216.50" cy="307.90" r="0.76"/></g>
<g fill="#30e030"><circle cx="209.10" cy="302.00" r="0.43"/><circle cx="209.70" cy="302.00" r="0.51"/><circle cx="210.30" cy="302.00" r="0.59"/><circle cx="210.90" cy="302.00" r="0.67"/><circle cx="211.50" cy="302.00" r="0.75"/><circle cx="212.10" cy="302.00" r="0.82"/><circle cx="212.70" cy="302.00" r="0.90"/><circle cx="213.15" cy="302.28" r="0.97"/><circle cx="213.60" cy="302.57" r="1.04"/><circle cx="214.05" cy="302.85" r="1.11"/><circle cx="214.50" cy="303.13" r="1.18"/><circle cx="214.95" cy="303.42" r="1.24"/><circle cx="215.40" cy="303.70" r="1.31"/><circle cx="215.58" cy="304.12" r="1.27"/><circle cx="215.77" cy="304.53" r="1.22"/><circle cx="215.95" cy="304.95" r="1.18"/><circle cx="216.13" cy="305.37" r="1.13"/><circle cx="216.32" cy="305.78" r="1.09"/><circle cx="216.50" cy="306.20" r="1.04"/><circle cx="216.50" cy="306.48" r="0.95"/><circle cx="216.50" cy="306.77" r="0.86"/><circle cx="216.50" cy="307.05" r="0.77"/><circle cx="216.50" cy="307.33" r="0.68"/><circle cx="216.50" cy="307.62" r="0.59"/><circle cx="216.50" cy="307.90" r="0.50"/></g>
<g fill="#f0f010"><circle cx="209.70" cy="302.00" r="0.17"/><circle cx="210.30" cy="302.00" r="0.25"/><circle cx="210.90" cy="302.00" r="0.33"/><circle cx="211.50" cy="302.00" r="0.41"/><circle cx="212.10" cy="302.00" r="0.48"/><circle cx="212.70" cy="302.00" r="0.56"/><circle cx="213.15" cy="302.28" r="0.63"/><circle cx="213.60" cy="302.57" r="0.70"/><circle cx="214.05" cy="302.85" r="0.77"/><circle cx="214.50" cy="303.13" r="0.84"/><circle cx="214.95" cy="303.42" r="0.90"/><circle cx="215.40" cy="303.70" r="0.97"/><circle cx="215.58" cy="304.12" r="0.93"/><circle cx="215.77" cy="304.53" r="0.88"/><circle cx="215.95" cy="304.95" r="0.84"/><circle cx="216.13" cy="305.37" r="0.79"/><circle cx="216.32" cy="305.78" r="0.75"/><circle cx="216.50" cy="306.20" r="0.70"/><circle cx="216.50" cy="306.48" r="0.61"/><circle cx="216.50" cy="306.77" r="0.52"/><circle cx="216.50" cy="307.05" r="0.43"/><circle cx="216.50" cy="307.33" r="0.34"/><circle cx="216.50" cy="307.62" r="0.25"/><circle cx="216.50" cy="307.90" r="0.16"/></g>
<g fill="#f02010"><circle cx="212.70" cy="302.00" r="0.20"/><circle cx="213.15" cy="302.28" r="0.27"/><circle cx="213.60" cy="302.57" r="0.34"/><circle cx="214.05" cy="302.85" r="0.41"/><circle cx="214.50" cy="303.13" r="0.48"/><circle cx="214.95" cy="303.42" r="0.54"/><circle cx="215.40" cy="303.70" r="0.61"/><circle cx="215.58" cy="304.12" r="0.57"/><circle cx="215.77" cy="304.53" r="0.52"/><circle cx="215.95" cy="304.95" r="0.48"/><circle cx="216.13" cy="305.37" r="0.43"/><circle cx="216.32" cy="305.78" r="0.39"/><circle cx="216.50" cy="306.20" r="0.34"/><circle cx="216.50" cy="306.48" r="0.25"/><circle cx="216.50" cy="306.77" r="0.16"/></g>
</g>
<rect x="198.75" y="295.25" width="25.30" height="25.00" fill="none" stroke="#111" stroke-width="1.1" />
<rect x="225.60" y="294.70" width="26.40" height="26.10" fill="#fff" />
<rect x="227.50" y="296.60" width="22.60" height="22.30" fill="none" stroke="#dcdcdc" stroke-width="0.5"/>
<g fill="#7080e8" opacity="0.75"><circle cx="228.97" cy="311.71" r="0.45"/><circle cx="228.23" cy="306.75" r="0.45"/><circle cx="227.91" cy="310.06" r="0.45"/><circle cx="229.94" cy="308.30" r="0.45"/><circle cx="230.25" cy="303.50" r="0.45"/><circle cx="229.75" cy="308.70" r="0.45"/><circle cx="229.42" cy="306.14" r="0.45"/><circle cx="230.15" cy="315.18" r="0.45"/><circle cx="229.13" cy="309.99" r="0.45"/><circle cx="227.97" cy="310.68" r="0.45"/><circle cx="229.61" cy="316.07" r="0.45"/><circle cx="230.10" cy="302.97" r="0.45"/><circle cx="228.88" cy="310.07" r="0.45"/><circle cx="227.86" cy="306.24" r="0.45"/><circle cx="234.96" cy="317.45" r="0.45"/><circle cx="233.10" cy="318.30" r="0.45"/><circle cx="234.30" cy="317.62" r="0.45"/><circle cx="238.75" cy="318.43" r="0.45"/><circle cx="233.47" cy="317.88" r="0.45"/><circle cx="241.44" cy="318.45" r="0.45"/><circle cx="246.03" cy="318.42" r="0.45"/><circle cx="236.83" cy="317.84" r="0.45"/><circle cx="238.20" cy="318.45" r="0.45"/><circle cx="248.38" cy="317.50" r="0.45"/><circle cx="235.10" cy="317.60" r="0.45"/><circle cx="236.07" cy="317.93" r="0.45"/></g>
<path d="M231.20,297.70 V316.70 H249.90" fill="none" stroke="#22309a" stroke-width="0.95" stroke-dasharray="2.2,0.5"/>
<g fill="none" stroke="#a86262" stroke-width="0.72"><rect x="232.50" y="299.30" width="6.8" height="6.0"/><rect x="239.30" y="299.30" width="6.7" height="6.0"/><rect x="241.80" y="306.90" width="5.1" height="6.1"/></g>
<g filter="url(#blb)">
<g fill="#1840ff"><circle cx="237.40" cy="302.00" r="0.91"/><circle cx="237.85" cy="302.03" r="0.99"/><circle cx="238.30" cy="302.07" r="1.07"/><circle cx="238.75" cy="302.10" r="1.15"/><circle cx="239.20" cy="302.13" r="1.23"/><circle cx="239.65" cy="302.17" r="1.30"/><circle cx="240.10" cy="302.20" r="1.38"/><circle cx="240.63" cy="302.38" r="1.46"/><circle cx="241.17" cy="302.57" r="1.54"/><circle cx="241.70" cy="302.75" r="1.62"/><circle cx="242.23" cy="302.93" r="1.70"/><circle cx="242.77" cy="303.12" r="1.78"/><circle cx="243.30" cy="303.30" r="1.86"/><circle cx="243.57" cy="303.78" r="1.84"/><circle cx="243.83" cy="304.27" r="1.81"/><circle cx="244.10" cy="304.75" r="1.79"/><circle cx="244.37" cy="305.23" r="1.77"/><circle cx="244.63" cy="305.72" r="1.75"/><circle cx="244.90" cy="306.20" r="1.72"/><circle cx="244.98" cy="306.70" r="1.66"/><circle cx="245.07" cy="307.20" r="1.59"/><circle cx="245.15" cy="307.70" r="1.52"/><circle cx="245.23" cy="308.20" r="1.45"/><circle cx="245.32" cy="308.70" r="1.38"/><circle cx="245.40" cy="309.20" r="1.32"/><circle cx="245.40" cy="309.62" r="1.25"/><circle cx="245.40" cy="310.03" r="1.18"/><circle cx="245.40" cy="310.45" r="1.11"/><circle cx="245.40" cy="310.87" r="1.04"/><circle cx="245.40" cy="311.28" r="0.98"/><circle cx="245.40" cy="311.70" r="0.91"/></g>
<g fill="#10c8f0"><circle cx="237.40" cy="302.00" r="0.69"/><circle cx="237.85" cy="302.03" r="0.77"/><circle cx="238.30" cy="302.07" r="0.85"/><circle cx="238.75" cy="302.10" r="0.93"/><circle cx="239.20" cy="302.13" r="1.01"/><circle cx="239.65" cy="302.17" r="1.08"/><circle cx="240.10" cy="302.20" r="1.16"/><circle cx="240.63" cy="302.38" r="1.24"/><circle cx="241.17" cy="302.57" r="1.32"/><circle cx="241.70" cy="302.75" r="1.40"/><circle cx="242.23" cy="302.93" r="1.48"/><circle cx="242.77" cy="303.12" r="1.56"/><circle cx="243.30" cy="303.30" r="1.64"/><circle cx="243.57" cy="303.78" r="1.62"/><circle cx="243.83" cy="304.27" r="1.59"/><circle cx="244.10" cy="304.75" r="1.57"/><circle cx="244.37" cy="305.23" r="1.55"/><circle cx="244.63" cy="305.72" r="1.53"/><circle cx="244.90" cy="306.20" r="1.50"/><circle cx="244.98" cy="306.70" r="1.44"/><circle cx="245.07" cy="307.20" r="1.37"/><circle cx="245.15" cy="307.70" r="1.30"/><circle cx="245.23" cy="308.20" r="1.23"/><circle cx="245.32" cy="308.70" r="1.16"/><circle cx="245.40" cy="309.20" r="1.10"/><circle cx="245.40" cy="309.62" r="1.03"/><circle cx="245.40" cy="310.03" r="0.96"/><circle cx="245.40" cy="310.45" r="0.89"/><circle cx="245.40" cy="310.87" r="0.82"/><circle cx="245.40" cy="311.28" r="0.76"/><circle cx="245.40" cy="311.70" r="0.69"/></g>
<g fill="#30e030"><circle cx="237.40" cy="302.00" r="0.43"/><circle cx="237.85" cy="302.03" r="0.51"/><circle cx="238.30" cy="302.07" r="0.59"/><circle cx="238.75" cy="302.10" r="0.67"/><circle cx="239.20" cy="302.13" r="0.75"/><circle cx="239.65" cy="302.17" r="0.82"/><circle cx="240.10" cy="302.20" r="0.90"/><circle cx="240.63" cy="302.38" r="0.98"/><circle cx="241.17" cy="302.57" r="1.06"/><circle cx="241.70" cy="302.75" r="1.14"/><circle cx="242.23" cy="302.93" r="1.22"/><circle cx="242.77" cy="303.12" r="1.30"/><circle cx="243.30" cy="303.30" r="1.38"/><circle cx="243.57" cy="303.78" r="1.36"/><circle cx="243.83" cy="304.27" r="1.33"/><circle cx="244.10" cy="304.75" r="1.31"/><circle cx="244.37" cy="305.23" r="1.29"/><circle cx="244.63" cy="305.72" r="1.27"/><circle cx="244.90" cy="306.20" r="1.24"/><circle cx="244.98" cy="306.70" r="1.18"/><circle cx="245.07" cy="307.20" r="1.11"/><circle cx="245.15" cy="307.70" r="1.04"/><circle cx="245.23" cy="308.20" r="0.97"/><circle cx="245.32" cy="308.70" r="0.90"/><circle cx="245.40" cy="309.20" r="0.84"/><circle cx="245.40" cy="309.62" r="0.77"/><circle cx="245.40" cy="310.03" r="0.70"/><circle cx="245.40" cy="310.45" r="0.63"/><circle cx="245.40" cy="310.87" r="0.56"/><circle cx="245.40" cy="311.28" r="0.50"/><circle cx="245.40" cy="311.70" r="0.43"/></g>
<g fill="#f0f010"><circle cx="237.85" cy="302.03" r="0.17"/><circle cx="238.30" cy="302.07" r="0.25"/><circle cx="238.75" cy="302.10" r="0.33"/><circle cx="239.20" cy="302.13" r="0.41"/><circle cx="239.65" cy="302.17" r="0.48"/><circle cx="240.10" cy="302.20" r="0.56"/><circle cx="240.63" cy="302.38" r="0.64"/><circle cx="241.17" cy="302.57" r="0.72"/><circle cx="241.70" cy="302.75" r="0.80"/><circle cx="242.23" cy="302.93" r="0.88"/><circle cx="242.77" cy="303.12" r="0.96"/><circle cx="243.30" cy="303.30" r="1.04"/><circle cx="243.57" cy="303.78" r="1.02"/><circle cx="243.83" cy="304.27" r="0.99"/><circle cx="244.10" cy="304.75" r="0.97"/><circle cx="244.37" cy="305.23" r="0.95"/><circle cx="244.63" cy="305.72" r="0.93"/><circle cx="244.90" cy="306.20" r="0.90"/><circle cx="244.98" cy="306.70" r="0.84"/><circle cx="245.07" cy="307.20" r="0.77"/><circle cx="245.15" cy="307.70" r="0.70"/><circle cx="245.23" cy="308.20" r="0.63"/><circle cx="245.32" cy="308.70" r="0.56"/><circle cx="245.40" cy="309.20" r="0.50"/><circle cx="245.40" cy="309.62" r="0.43"/><circle cx="245.40" cy="310.03" r="0.36"/><circle cx="245.40" cy="310.45" r="0.29"/><circle cx="245.40" cy="310.87" r="0.22"/><circle cx="245.40" cy="311.28" r="0.16"/></g>
<g fill="#f02010"><circle cx="240.10" cy="302.20" r="0.20"/><circle cx="240.63" cy="302.38" r="0.28"/><circle cx="241.17" cy="302.57" r="0.36"/><circle cx="241.70" cy="302.75" r="0.44"/><circle cx="242.23" cy="302.93" r="0.52"/><circle cx="242.77" cy="303.12" r="0.60"/><circle cx="243.30" cy="303.30" r="0.68"/><circle cx="243.57" cy="303.78" r="0.66"/><circle cx="243.83" cy="304.27" r="0.63"/><circle cx="244.10" cy="304.75" r="0.61"/><circle cx="244.37" cy="305.23" r="0.59"/><circle cx="244.63" cy="305.72" r="0.57"/><circle cx="244.90" cy="306.20" r="0.54"/><circle cx="244.98" cy="306.70" r="0.48"/><circle cx="245.07" cy="307.20" r="0.41"/><circle cx="245.15" cy="307.70" r="0.34"/><circle cx="245.23" cy="308.20" r="0.27"/><circle cx="245.32" cy="308.70" r="0.20"/></g>
</g>
<rect x="226.15" y="295.25" width="25.30" height="25.00" fill="none" stroke="#111" stroke-width="1.1" />
<rect x="252.80" y="294.70" width="26.40" height="26.10" fill="#fff" />
<rect x="254.70" y="296.60" width="22.60" height="22.30" fill="none" stroke="#dcdcdc" stroke-width="0.5"/>
<g fill="#7080e8" opacity="0.75"><circle cx="256.65" cy="302.56" r="0.45"/><circle cx="255.01" cy="305.45" r="0.45"/><circle cx="256.03" cy="308.18" r="0.45"/><circle cx="257.67" cy="310.47" r="0.45"/><circle cx="256.44" cy="309.13" r="0.45"/><circle cx="256.89" cy="298.70" r="0.45"/><circle cx="257.52" cy="312.13" r="0.45"/><circle cx="257.45" cy="312.46" r="0.45"/><circle cx="256.10" cy="305.08" r="0.45"/><circle cx="255.29" cy="309.43" r="0.45"/><circle cx="255.17" cy="298.95" r="0.45"/><circle cx="255.58" cy="300.70" r="0.45"/><circle cx="255.95" cy="298.67" r="0.45"/><circle cx="255.00" cy="300.50" r="0.45"/><circle cx="261.02" cy="317.77" r="0.45"/><circle cx="259.73" cy="318.44" r="0.45"/><circle cx="269.74" cy="317.49" r="0.45"/><circle cx="263.59" cy="317.75" r="0.45"/><circle cx="265.49" cy="317.46" r="0.45"/><circle cx="273.73" cy="318.59" r="0.45"/><circle cx="267.22" cy="317.93" r="0.45"/><circle cx="260.76" cy="317.43" r="0.45"/><circle cx="265.12" cy="317.64" r="0.45"/><circle cx="273.39" cy="317.51" r="0.45"/><circle cx="259.69" cy="318.54" r="0.45"/><circle cx="268.28" cy="317.49" r="0.45"/></g>
<path d="M258.40,297.70 V316.70 H277.10" fill="none" stroke="#22309a" stroke-width="0.95" stroke-dasharray="2.2,0.5"/>
<g fill="none" stroke="#a86262" stroke-width="0.72"><rect x="259.70" y="299.30" width="6.8" height="6.0"/><rect x="266.50" y="299.30" width="6.7" height="6.0"/><rect x="269.00" y="306.90" width="5.1" height="6.1"/></g>
<g filter="url(#blb)">
<g fill="#1840ff"><circle cx="269.10" cy="301.60" r="1.04"/><circle cx="269.32" cy="301.87" r="1.16"/><circle cx="269.53" cy="302.13" r="1.27"/><circle cx="269.75" cy="302.40" r="1.38"/><circle cx="269.97" cy="302.67" r="1.50"/><circle cx="270.18" cy="302.93" r="1.61"/><circle cx="270.40" cy="303.20" r="1.72"/><circle cx="270.50" cy="303.62" r="1.75"/><circle cx="270.60" cy="304.03" r="1.77"/><circle cx="270.70" cy="304.45" r="1.79"/><circle cx="270.80" cy="304.87" r="1.81"/><circle cx="270.90" cy="305.28" r="1.84"/><circle cx="271.00" cy="305.70" r="1.86"/><circle cx="271.05" cy="306.20" r="1.80"/><circle cx="271.10" cy="306.70" r="1.75"/><circle cx="271.15" cy="307.20" r="1.69"/><circle cx="271.20" cy="307.70" r="1.63"/><circle cx="271.25" cy="308.20" r="1.58"/><circle cx="271.30" cy="308.70" r="1.52"/><circle cx="271.32" cy="309.17" r="1.45"/><circle cx="271.33" cy="309.63" r="1.38"/><circle cx="271.35" cy="310.10" r="1.32"/><circle cx="271.37" cy="310.57" r="1.25"/><circle cx="271.38" cy="311.03" r="1.18"/><circle cx="271.40" cy="311.50" r="1.11"/></g>
<g fill="#10c8f0"><circle cx="269.10" cy="301.60" r="0.82"/><circle cx="269.32" cy="301.87" r="0.94"/><circle cx="269.53" cy="302.13" r="1.05"/><circle cx="269.75" cy="302.40" r="1.16"/><circle cx="269.97" cy="302.67" r="1.28"/><circle cx="270.18" cy="302.93" r="1.39"/><circle cx="270.40" cy="303.20" r="1.50"/><circle cx="270.50" cy="303.62" r="1.53"/><circle cx="270.60" cy="304.03" r="1.55"/><circle cx="270.70" cy="304.45" r="1.57"/><circle cx="270.80" cy="304.87" r="1.59"/><circle cx="270.90" cy="305.28" r="1.62"/><circle cx="271.00" cy="305.70" r="1.64"/><circle cx="271.05" cy="306.20" r="1.58"/><circle cx="271.10" cy="306.70" r="1.53"/><circle cx="271.15" cy="307.20" r="1.47"/><circle cx="271.20" cy="307.70" r="1.41"/><circle cx="271.25" cy="308.20" r="1.36"/><circle cx="271.30" cy="308.70" r="1.30"/><circle cx="271.32" cy="309.17" r="1.23"/><circle cx="271.33" cy="309.63" r="1.16"/><circle cx="271.35" cy="310.10" r="1.10"/><circle cx="271.37" cy="310.57" r="1.03"/><circle cx="271.38" cy="311.03" r="0.96"/><circle cx="271.40" cy="311.50" r="0.89"/></g>
<g fill="#30e030"><circle cx="269.10" cy="301.60" r="0.56"/><circle cx="269.32" cy="301.87" r="0.68"/><circle cx="269.53" cy="302.13" r="0.79"/><circle cx="269.75" cy="302.40" r="0.90"/><circle cx="269.97" cy="302.67" r="1.02"/><circle cx="270.18" cy="302.93" r="1.13"/><circle cx="270.40" cy="303.20" r="1.24"/><circle cx="270.50" cy="303.62" r="1.27"/><circle cx="270.60" cy="304.03" r="1.29"/><circle cx="270.70" cy="304.45" r="1.31"/><circle cx="270.80" cy="304.87" r="1.33"/><circle cx="270.90" cy="305.28" r="1.36"/><circle cx="271.00" cy="305.70" r="1.38"/><circle cx="271.05" cy="306.20" r="1.32"/><circle cx="271.10" cy="306.70" r="1.27"/><circle cx="271.15" cy="307.20" r="1.21"/><circle cx="271.20" cy="307.70" r="1.15"/><circle cx="271.25" cy="308.20" r="1.10"/><circle cx="271.30" cy="308.70" r="1.04"/><circle cx="271.32" cy="309.17" r="0.97"/><circle cx="271.33" cy="309.63" r="0.90"/><circle cx="271.35" cy="310.10" r="0.84"/><circle cx="271.37" cy="310.57" r="0.77"/><circle cx="271.38" cy="311.03" r="0.70"/><circle cx="271.40" cy="311.50" r="0.63"/></g>
<g fill="#f0f010"><circle cx="269.10" cy="301.60" r="0.22"/><circle cx="269.32" cy="301.87" r="0.34"/><circle cx="269.53" cy="302.13" r="0.45"/><circle cx="269.75" cy="302.40" r="0.56"/><circle cx="269.97" cy="302.67" r="0.68"/><circle cx="270.18" cy="302.93" r="0.79"/><circle cx="270.40" cy="303.20" r="0.90"/><circle cx="270.50" cy="303.62" r="0.93"/><circle cx="270.60" cy="304.03" r="0.95"/><circle cx="270.70" cy="304.45" r="0.97"/><circle cx="270.80" cy="304.87" r="0.99"/><circle cx="270.90" cy="305.28" r="1.02"/><circle cx="271.00" cy="305.70" r="1.04"/><circle cx="271.05" cy="306.20" r="0.98"/><circle cx="271.10" cy="306.70" r="0.93"/><circle cx="271.15" cy="307.20" r="0.87"/><circle cx="271.20" cy="307.70" r="0.81"/><circle cx="271.25" cy="308.20" r="0.76"/><circle cx="271.30" cy="308.70" r="0.70"/><circle cx="271.32" cy="309.17" r="0.63"/><circle cx="271.33" cy="309.63" r="0.56"/><circle cx="271.35" cy="310.10" r="0.50"/><circle cx="271.37" cy="310.57" r="0.43"/><circle cx="271.38" cy="311.03" r="0.36"/><circle cx="271.40" cy="311.50" r="0.29"/></g>
<g fill="#f02010"><circle cx="269.75" cy="302.40" r="0.20"/><circle cx="269.97" cy="302.67" r="0.32"/><circle cx="270.18" cy="302.93" r="0.43"/><circle cx="270.40" cy="303.20" r="0.54"/><circle cx="270.50" cy="303.62" r="0.57"/><circle cx="270.60" cy="304.03" r="0.59"/><circle cx="270.70" cy="304.45" r="0.61"/><circle cx="270.80" cy="304.87" r="0.63"/><circle cx="270.90" cy="305.28" r="0.66"/><circle cx="271.00" cy="305.70" r="0.68"/><circle cx="271.05" cy="306.20" r="0.62"/><circle cx="271.10" cy="306.70" r="0.57"/><circle cx="271.15" cy="307.20" r="0.51"/><circle cx="271.20" cy="307.70" r="0.45"/><circle cx="271.25" cy="308.20" r="0.40"/><circle cx="271.30" cy="308.70" r="0.34"/><circle cx="271.32" cy="309.17" r="0.27"/><circle cx="271.33" cy="309.63" r="0.20"/></g>
</g>
<rect x="253.35" y="295.25" width="25.30" height="25.00" fill="none" stroke="#111" stroke-width="1.1" />
<rect x="280.00" y="294.70" width="26.40" height="26.10" fill="#fff" />
<rect x="281.90" y="296.60" width="22.60" height="22.30" fill="none" stroke="#dcdcdc" stroke-width="0.5"/>
<g fill="#7080e8" opacity="0.75"><circle cx="283.72" cy="298.20" r="0.45"/><circle cx="283.68" cy="315.80" r="0.45"/><circle cx="284.62" cy="310.58" r="0.45"/><circle cx="282.93" cy="304.48" r="0.45"/><circle cx="282.67" cy="311.98" r="0.45"/><circle cx="283.69" cy="312.11" r="0.45"/><circle cx="283.12" cy="301.83" r="0.45"/><circle cx="284.47" cy="315.92" r="0.45"/><circle cx="284.59" cy="312.61" r="0.45"/><circle cx="284.49" cy="311.39" r="0.45"/><circle cx="282.83" cy="307.28" r="0.45"/><circle cx="283.20" cy="298.24" r="0.45"/><circle cx="282.28" cy="302.87" r="0.45"/><circle cx="282.93" cy="310.51" r="0.45"/><circle cx="302.76" cy="317.88" r="0.45"/><circle cx="302.43" cy="318.58" r="0.45"/><circle cx="302.74" cy="317.77" r="0.45"/><circle cx="290.25" cy="317.59" r="0.45"/><circle cx="289.84" cy="317.57" r="0.45"/><circle cx="297.11" cy="318.47" r="0.45"/><circle cx="300.79" cy="317.92" r="0.45"/><circle cx="297.60" cy="318.34" r="0.45"/><circle cx="287.94" cy="318.16" r="0.45"/><circle cx="301.97" cy="318.32" r="0.45"/><circle cx="299.25" cy="317.92" r="0.45"/><circle cx="289.53" cy="318.33" r="0.45"/></g>
<path d="M285.60,297.70 V316.70 H304.30" fill="none" stroke="#22309a" stroke-width="0.95" stroke-dasharray="2.2,0.5"/>
<g fill="none" stroke="#a86262" stroke-width="0.72"><rect x="286.90" y="299.30" width="6.8" height="6.0"/><rect x="293.70" y="299.30" width="6.7" height="6.0"/><rect x="296.20" y="306.90" width="5.1" height="6.1"/></g>
<g filter="url(#blb)">
<g fill="#1840ff"><circle cx="297.40" cy="302.70" r="1.18"/><circle cx="297.47" cy="303.03" r="1.29"/><circle cx="297.53" cy="303.37" r="1.41"/><circle cx="297.60" cy="303.70" r="1.52"/><circle cx="297.67" cy="304.03" r="1.63"/><circle cx="297.73" cy="304.37" r="1.75"/><circle cx="297.80" cy="304.70" r="1.86"/><circle cx="297.83" cy="305.12" r="1.88"/><circle cx="297.87" cy="305.53" r="1.91"/><circle cx="297.90" cy="305.95" r="1.93"/><circle cx="297.93" cy="306.37" r="1.95"/><circle cx="297.97" cy="306.78" r="1.97"/><circle cx="298.00" cy="307.20" r="2.00"/><circle cx="298.03" cy="307.62" r="1.97"/><circle cx="298.07" cy="308.03" r="1.95"/><circle cx="298.10" cy="308.45" r="1.93"/><circle cx="298.13" cy="308.87" r="1.91"/><circle cx="298.17" cy="309.28" r="1.88"/><circle cx="298.20" cy="309.70" r="1.86"/><circle cx="298.23" cy="310.12" r="1.75"/><circle cx="298.27" cy="310.53" r="1.63"/><circle cx="298.30" cy="310.95" r="1.52"/><circle cx="298.33" cy="311.37" r="1.41"/><circle cx="298.37" cy="311.78" r="1.29"/><circle cx="298.40" cy="312.20" r="1.18"/></g>
<g fill="#10c8f0"><circle cx="297.40" cy="302.70" r="0.96"/><circle cx="297.47" cy="303.03" r="1.07"/><circle cx="297.53" cy="303.37" r="1.19"/><circle cx="297.60" cy="303.70" r="1.30"/><circle cx="297.67" cy="304.03" r="1.41"/><circle cx="297.73" cy="304.37" r="1.53"/><circle cx="297.80" cy="304.70" r="1.64"/><circle cx="297.83" cy="305.12" r="1.66"/><circle cx="297.87" cy="305.53" r="1.69"/><circle cx="297.90" cy="305.95" r="1.71"/><circle cx="297.93" cy="306.37" r="1.73"/><circle cx="297.97" cy="306.78" r="1.75"/><circle cx="298.00" cy="307.20" r="1.78"/><circle cx="298.03" cy="307.62" r="1.75"/><circle cx="298.07" cy="308.03" r="1.73"/><circle cx="298.10" cy="308.45" r="1.71"/><circle cx="298.13" cy="308.87" r="1.69"/><circle cx="298.17" cy="309.28" r="1.66"/><circle cx="298.20" cy="309.70" r="1.64"/><circle cx="298.23" cy="310.12" r="1.53"/><circle cx="298.27" cy="310.53" r="1.41"/><circle cx="298.30" cy="310.95" r="1.30"/><circle cx="298.33" cy="311.37" r="1.19"/><circle cx="298.37" cy="311.78" r="1.07"/><circle cx="298.40" cy="312.20" r="0.96"/></g>
<g fill="#30e030"><circle cx="297.40" cy="302.70" r="0.70"/><circle cx="297.47" cy="303.03" r="0.81"/><circle cx="297.53" cy="303.37" r="0.93"/><circle cx="297.60" cy="303.70" r="1.04"/><circle cx="297.67" cy="304.03" r="1.15"/><circle cx="297.73" cy="304.37" r="1.27"/><circle cx="297.80" cy="304.70" r="1.38"/><circle cx="297.83" cy="305.12" r="1.40"/><circle cx="297.87" cy="305.53" r="1.43"/><circle cx="297.90" cy="305.95" r="1.45"/><circle cx="297.93" cy="306.37" r="1.47"/><circle cx="297.97" cy="306.78" r="1.49"/><circle cx="298.00" cy="307.20" r="1.52"/><circle cx="298.03" cy="307.62" r="1.49"/><circle cx="298.07" cy="308.03" r="1.47"/><circle cx="298.10" cy="308.45" r="1.45"/><circle cx="298.13" cy="308.87" r="1.43"/><circle cx="298.17" cy="309.28" r="1.40"/><circle cx="298.20" cy="309.70" r="1.38"/><circle cx="298.23" cy="310.12" r="1.27"/><circle cx="298.27" cy="310.53" r="1.15"/><circle cx="298.30" cy="310.95" r="1.04"/><circle cx="298.33" cy="311.37" r="0.93"/><circle cx="298.37" cy="311.78" r="0.81"/><circle cx="298.40" cy="312.20" r="0.70"/></g>
<g fill="#f0f010"><circle cx="297.40" cy="302.70" r="0.36"/><circle cx="297.47" cy="303.03" r="0.47"/><circle cx="297.53" cy="303.37" r="0.59"/><circle cx="297.60" cy="303.70" r="0.70"/><circle cx="297.67" cy="304.03" r="0.81"/><circle cx="297.73" cy="304.37" r="0.93"/><circle cx="297.80" cy="304.70" r="1.04"/><circle cx="297.83" cy="305.12" r="1.06"/><circle cx="297.87" cy="305.53" r="1.09"/><circle cx="297.90" cy="305.95" r="1.11"/><circle cx="297.93" cy="306.37" r="1.13"/><circle cx="297.97" cy="306.78" r="1.15"/><circle cx="298.00" cy="307.20" r="1.18"/><circle cx="298.03" cy="307.62" r="1.15"/><circle cx="298.07" cy="308.03" r="1.13"/><circle cx="298.10" cy="308.45" r="1.11"/><circle cx="298.13" cy="308.87" r="1.09"/><circle cx="298.17" cy="309.28" r="1.06"/><circle cx="298.20" cy="309.70" r="1.04"/><circle cx="298.23" cy="310.12" r="0.93"/><circle cx="298.27" cy="310.53" r="0.81"/><circle cx="298.30" cy="310.95" r="0.70"/><circle cx="298.33" cy="311.37" r="0.59"/><circle cx="298.37" cy="311.78" r="0.47"/><circle cx="298.40" cy="312.20" r="0.36"/></g>
<g fill="#f02010"><circle cx="297.53" cy="303.37" r="0.23"/><circle cx="297.60" cy="303.70" r="0.34"/><circle cx="297.67" cy="304.03" r="0.45"/><circle cx="297.73" cy="304.37" r="0.57"/><circle cx="297.80" cy="304.70" r="0.68"/><circle cx="297.83" cy="305.12" r="0.70"/><circle cx="297.87" cy="305.53" r="0.73"/><circle cx="297.90" cy="305.95" r="0.75"/><circle cx="297.93" cy="306.37" r="0.77"/><circle cx="297.97" cy="306.78" r="0.79"/><circle cx="298.00" cy="307.20" r="0.82"/><circle cx="298.03" cy="307.62" r="0.79"/><circle cx="298.07" cy="308.03" r="0.77"/><circle cx="298.10" cy="308.45" r="0.75"/><circle cx="298.13" cy="308.87" r="0.73"/><circle cx="298.17" cy="309.28" r="0.70"/><circle cx="298.20" cy="309.70" r="0.68"/><circle cx="298.23" cy="310.12" r="0.57"/><circle cx="298.27" cy="310.53" r="0.45"/><circle cx="298.30" cy="310.95" r="0.34"/><circle cx="298.33" cy="311.37" r="0.23"/></g>
</g>
<rect x="280.55" y="295.25" width="25.30" height="25.00" fill="none" stroke="#111" stroke-width="1.1" />
<rect x="307.20" y="294.70" width="26.40" height="26.10" fill="#fff" />
<rect x="309.10" y="296.60" width="22.60" height="22.30" fill="none" stroke="#dcdcdc" stroke-width="0.5"/>
<g fill="#7080e8" opacity="0.75"><circle cx="310.33" cy="312.52" r="0.45"/><circle cx="312.12" cy="305.02" r="0.45"/><circle cx="310.52" cy="315.22" r="0.45"/><circle cx="311.43" cy="300.85" r="0.45"/><circle cx="309.76" cy="300.50" r="0.45"/><circle cx="311.93" cy="312.62" r="0.45"/><circle cx="309.81" cy="312.99" r="0.45"/><circle cx="312.14" cy="309.86" r="0.45"/><circle cx="310.38" cy="307.85" r="0.45"/><circle cx="309.77" cy="297.96" r="0.45"/><circle cx="312.12" cy="309.72" r="0.45"/><circle cx="310.87" cy="314.97" r="0.45"/><circle cx="310.61" cy="313.83" r="0.45"/><circle cx="311.71" cy="301.60" r="0.45"/><circle cx="317.98" cy="317.68" r="0.45"/><circle cx="317.79" cy="318.06" r="0.45"/><circle cx="318.11" cy="317.84" r="0.45"/><circle cx="315.93" cy="318.48" r="0.45"/><circle cx="319.71" cy="317.90" r="0.45"/><circle cx="323.62" cy="318.48" r="0.45"/><circle cx="320.85" cy="318.49" r="0.45"/><circle cx="322.23" cy="317.99" r="0.45"/><circle cx="322.60" cy="317.32" r="0.45"/><circle cx="321.18" cy="317.54" r="0.45"/><circle cx="313.77" cy="318.34" r="0.45"/><circle cx="316.63" cy="317.92" r="0.45"/></g>
<path d="M312.80,297.70 V316.70 H331.50" fill="none" stroke="#22309a" stroke-width="0.95" stroke-dasharray="2.2,0.5"/>
<g fill="none" stroke="#a86262" stroke-width="0.72"><rect x="314.10" y="299.30" width="6.8" height="6.0"/><rect x="320.90" y="299.30" width="6.7" height="6.0"/><rect x="323.40" y="306.90" width="5.1" height="6.1"/></g>
<g filter="url(#blb)">
<g fill="#1840ff"><circle cx="324.30" cy="304.70" r="1.18"/><circle cx="324.35" cy="305.03" r="1.27"/><circle cx="324.40" cy="305.37" r="1.36"/><circle cx="324.45" cy="305.70" r="1.45"/><circle cx="324.50" cy="306.03" r="1.54"/><circle cx="324.55" cy="306.37" r="1.63"/><circle cx="324.60" cy="306.70" r="1.72"/><circle cx="324.63" cy="307.03" r="1.75"/><circle cx="324.67" cy="307.37" r="1.77"/><circle cx="324.70" cy="307.70" r="1.79"/><circle cx="324.73" cy="308.03" r="1.81"/><circle cx="324.77" cy="308.37" r="1.84"/><circle cx="324.80" cy="308.70" r="1.86"/><circle cx="324.83" cy="309.12" r="1.81"/><circle cx="324.87" cy="309.53" r="1.77"/><circle cx="324.90" cy="309.95" r="1.72"/><circle cx="324.93" cy="310.37" r="1.68"/><circle cx="324.97" cy="310.78" r="1.63"/><circle cx="325.00" cy="311.20" r="1.59"/><circle cx="325.03" cy="311.48" r="1.50"/><circle cx="325.07" cy="311.77" r="1.41"/><circle cx="325.10" cy="312.05" r="1.32"/><circle cx="325.13" cy="312.33" r="1.23"/><circle cx="325.17" cy="312.62" r="1.13"/><circle cx="325.20" cy="312.90" r="1.04"/></g>
<g fill="#10c8f0"><circle cx="324.30" cy="304.70" r="0.96"/><circle cx="324.35" cy="305.03" r="1.05"/><circle cx="324.40" cy="305.37" r="1.14"/><circle cx="324.45" cy="305.70" r="1.23"/><circle cx="324.50" cy="306.03" r="1.32"/><circle cx="324.55" cy="306.37" r="1.41"/><circle cx="324.60" cy="306.70" r="1.50"/><circle cx="324.63" cy="307.03" r="1.53"/><circle cx="324.67" cy="307.37" r="1.55"/><circle cx="324.70" cy="307.70" r="1.57"/><circle cx="324.73" cy="308.03" r="1.59"/><circle cx="324.77" cy="308.37" r="1.62"/><circle cx="324.80" cy="308.70" r="1.64"/><circle cx="324.83" cy="309.12" r="1.59"/><circle cx="324.87" cy="309.53" r="1.55"/><circle cx="324.90" cy="309.95" r="1.50"/><circle cx="324.93" cy="310.37" r="1.46"/><circle cx="324.97" cy="310.78" r="1.41"/><circle cx="325.00" cy="311.20" r="1.37"/><circle cx="325.03" cy="311.48" r="1.28"/><circle cx="325.07" cy="311.77" r="1.19"/><circle cx="325.10" cy="312.05" r="1.10"/><circle cx="325.13" cy="312.33" r="1.01"/><circle cx="325.17" cy="312.62" r="0.91"/><circle cx="325.20" cy="312.90" r="0.82"/></g>
<g fill="#30e030"><circle cx="324.30" cy="304.70" r="0.70"/><circle cx="324.35" cy="305.03" r="0.79"/><circle cx="324.40" cy="305.37" r="0.88"/><circle cx="324.45" cy="305.70" r="0.97"/><circle cx="324.50" cy="306.03" r="1.06"/><circle cx="324.55" cy="306.37" r="1.15"/><circle cx="324.60" cy="306.70" r="1.24"/><circle cx="324.63" cy="307.03" r="1.27"/><circle cx="324.67" cy="307.37" r="1.29"/><circle cx="324.70" cy="307.70" r="1.31"/><circle cx="324.73" cy="308.03" r="1.33"/><circle cx="324.77" cy="308.37" r="1.36"/><circle cx="324.80" cy="308.70" r="1.38"/><circle cx="324.83" cy="309.12" r="1.33"/><circle cx="324.87" cy="309.53" r="1.29"/><circle cx="324.90" cy="309.95" r="1.24"/><circle cx="324.93" cy="310.37" r="1.20"/><circle cx="324.97" cy="310.78" r="1.15"/><circle cx="325.00" cy="311.20" r="1.11"/><circle cx="325.03" cy="311.48" r="1.02"/><circle cx="325.07" cy="311.77" r="0.93"/><circle cx="325.10" cy="312.05" r="0.84"/><circle cx="325.13" cy="312.33" r="0.75"/><circle cx="325.17" cy="312.62" r="0.65"/><circle cx="325.20" cy="312.90" r="0.56"/></g>
<g fill="#f0f010"><circle cx="324.30" cy="304.70" r="0.36"/><circle cx="324.35" cy="305.03" r="0.45"/><circle cx="324.40" cy="305.37" r="0.54"/><circle cx="324.45" cy="305.70" r="0.63"/><circle cx="324.50" cy="306.03" r="0.72"/><circle cx="324.55" cy="306.37" r="0.81"/><circle cx="324.60" cy="306.70" r="0.90"/><circle cx="324.63" cy="307.03" r="0.93"/><circle cx="324.67" cy="307.37" r="0.95"/><circle cx="324.70" cy="307.70" r="0.97"/><circle cx="324.73" cy="308.03" r="0.99"/><circle cx="324.77" cy="308.37" r="1.02"/><circle cx="324.80" cy="308.70" r="1.04"/><circle cx="324.83" cy="309.12" r="0.99"/><circle cx="324.87" cy="309.53" r="0.95"/><circle cx="324.90" cy="309.95" r="0.90"/><circle cx="324.93" cy="310.37" r="0.86"/><circle cx="324.97" cy="310.78" r="0.81"/><circle cx="325.00" cy="311.20" r="0.77"/><circle cx="325.03" cy="311.48" r="0.68"/><circle cx="325.07" cy="311.77" r="0.59"/><circle cx="325.10" cy="312.05" r="0.50"/><circle cx="325.13" cy="312.33" r="0.41"/><circle cx="325.17" cy="312.62" r="0.31"/><circle cx="325.20" cy="312.90" r="0.22"/></g>
<g fill="#f02010"><circle cx="324.40" cy="305.37" r="0.18"/><circle cx="324.45" cy="305.70" r="0.27"/><circle cx="324.50" cy="306.03" r="0.36"/><circle cx="324.55" cy="306.37" r="0.45"/><circle cx="324.60" cy="306.70" r="0.54"/><circle cx="324.63" cy="307.03" r="0.57"/><circle cx="324.67" cy="307.37" r="0.59"/><circle cx="324.70" cy="307.70" r="0.61"/><circle cx="324.73" cy="308.03" r="0.63"/><circle cx="324.77" cy="308.37" r="0.66"/><circle cx="324.80" cy="308.70" r="0.68"/><circle cx="324.83" cy="309.12" r="0.63"/><circle cx="324.87" cy="309.53" r="0.59"/><circle cx="324.90" cy="309.95" r="0.54"/><circle cx="324.93" cy="310.37" r="0.50"/><circle cx="324.97" cy="310.78" r="0.45"/><circle cx="325.00" cy="311.20" r="0.41"/><circle cx="325.03" cy="311.48" r="0.32"/><circle cx="325.07" cy="311.77" r="0.23"/></g>
</g>
<rect x="307.75" y="295.25" width="25.30" height="25.00" fill="none" stroke="#111" stroke-width="1.1" />
<rect x="198.20" y="321.80" width="26.40" height="27.30" fill="#fff" />
<rect x="200.10" y="323.70" width="22.60" height="23.50" fill="none" stroke="#dcdcdc" stroke-width="0.5"/>
<g fill="#7080e8" opacity="0.75"><circle cx="202.43" cy="335.09" r="0.45"/><circle cx="201.31" cy="334.39" r="0.45"/><circle cx="201.96" cy="339.31" r="0.45"/><circle cx="200.70" cy="335.17" r="0.45"/><circle cx="201.10" cy="329.92" r="0.45"/><circle cx="202.56" cy="334.19" r="0.45"/><circle cx="201.97" cy="338.86" r="0.45"/><circle cx="202.95" cy="333.00" r="0.45"/><circle cx="202.12" cy="334.15" r="0.45"/><circle cx="201.83" cy="337.62" r="0.45"/><circle cx="201.67" cy="334.67" r="0.45"/><circle cx="201.74" cy="342.22" r="0.45"/><circle cx="202.36" cy="341.02" r="0.45"/><circle cx="203.04" cy="329.60" r="0.45"/><circle cx="214.21" cy="346.76" r="0.45"/><circle cx="218.98" cy="344.74" r="0.45"/><circle cx="206.77" cy="345.51" r="0.45"/><circle cx="205.93" cy="345.00" r="0.45"/><circle cx="205.94" cy="346.07" r="0.45"/><circle cx="218.03" cy="346.64" r="0.45"/><circle cx="207.33" cy="346.19" r="0.45"/><circle cx="215.92" cy="344.76" r="0.45"/><circle cx="219.71" cy="346.82" r="0.45"/><circle cx="208.43" cy="346.78" r="0.45"/><circle cx="211.47" cy="345.62" r="0.45"/><circle cx="221.53" cy="346.48" r="0.45"/></g>
<path d="M203.80,324.80 V343.80 H222.50" fill="none" stroke="#22309a" stroke-width="0.95" stroke-dasharray="2.2,0.5"/>
<g fill="none" stroke="#a86262" stroke-width="0.72"><rect x="205.10" y="326.40" width="6.8" height="6.0"/><rect x="211.90" y="326.40" width="6.7" height="6.0"/><rect x="214.40" y="334.00" width="5.1" height="6.1"/></g>
<g filter="url(#blb)">
<g fill="#1840ff"><circle cx="208.80" cy="328.80" r="1.04"/><circle cx="209.28" cy="328.80" r="1.12"/><circle cx="209.77" cy="328.80" r="1.20"/><circle cx="210.25" cy="328.80" r="1.28"/><circle cx="210.73" cy="328.80" r="1.36"/><circle cx="211.22" cy="328.80" r="1.44"/><circle cx="211.70" cy="328.80" r="1.52"/><circle cx="212.20" cy="328.88" r="1.57"/><circle cx="212.70" cy="328.97" r="1.61"/><circle cx="213.20" cy="329.05" r="1.66"/><circle cx="213.70" cy="329.13" r="1.70"/><circle cx="214.20" cy="329.22" r="1.75"/><circle cx="214.70" cy="329.30" r="1.79"/><circle cx="215.03" cy="329.52" r="1.74"/><circle cx="215.37" cy="329.73" r="1.68"/><circle cx="215.70" cy="329.95" r="1.62"/><circle cx="216.03" cy="330.17" r="1.57"/><circle cx="216.37" cy="330.38" r="1.51"/><circle cx="216.70" cy="330.60" r="1.45"/><circle cx="216.87" cy="330.80" r="1.37"/><circle cx="217.03" cy="331.00" r="1.29"/><circle cx="217.20" cy="331.20" r="1.21"/><circle cx="217.37" cy="331.40" r="1.13"/><circle cx="217.53" cy="331.60" r="1.06"/><circle cx="217.70" cy="331.80" r="0.98"/></g>
<g fill="#10c8f0"><circle cx="208.80" cy="328.80" r="0.82"/><circle cx="209.28" cy="328.80" r="0.90"/><circle cx="209.77" cy="328.80" r="0.98"/><circle cx="210.25" cy="328.80" r="1.06"/><circle cx="210.73" cy="328.80" r="1.14"/><circle cx="211.22" cy="328.80" r="1.22"/><circle cx="211.70" cy="328.80" r="1.30"/><circle cx="212.20" cy="328.88" r="1.35"/><circle cx="212.70" cy="328.97" r="1.39"/><circle cx="213.20" cy="329.05" r="1.44"/><circle cx="213.70" cy="329.13" r="1.48"/><circle cx="214.20" cy="329.22" r="1.53"/><circle cx="214.70" cy="329.30" r="1.57"/><circle cx="215.03" cy="329.52" r="1.52"/><circle cx="215.37" cy="329.73" r="1.46"/><circle cx="215.70" cy="329.95" r="1.40"/><circle cx="216.03" cy="330.17" r="1.35"/><circle cx="216.37" cy="330.38" r="1.29"/><circle cx="216.70" cy="330.60" r="1.23"/><circle cx="216.87" cy="330.80" r="1.15"/><circle cx="217.03" cy="331.00" r="1.07"/><circle cx="217.20" cy="331.20" r="0.99"/><circle cx="217.37" cy="331.40" r="0.91"/><circle cx="217.53" cy="331.60" r="0.84"/><circle cx="217.70" cy="331.80" r="0.76"/></g>
<g fill="#30e030"><circle cx="208.80" cy="328.80" r="0.56"/><circle cx="209.28" cy="328.80" r="0.64"/><circle cx="209.77" cy="328.80" r="0.72"/><circle cx="210.25" cy="328.80" r="0.80"/><circle cx="210.73" cy="328.80" r="0.88"/><circle cx="211.22" cy="328.80" r="0.96"/><circle cx="211.70" cy="328.80" r="1.04"/><circle cx="212.20" cy="328.88" r="1.09"/><circle cx="212.70" cy="328.97" r="1.13"/><circle cx="213.20" cy="329.05" r="1.18"/><circle cx="213.70" cy="329.13" r="1.22"/><circle cx="214.20" cy="329.22" r="1.27"/><circle cx="214.70" cy="329.30" r="1.31"/><circle cx="215.03" cy="329.52" r="1.26"/><circle cx="215.37" cy="329.73" r="1.20"/><circle cx="215.70" cy="329.95" r="1.14"/><circle cx="216.03" cy="330.17" r="1.09"/><circle cx="216.37" cy="330.38" r="1.03"/><circle cx="216.70" cy="330.60" r="0.97"/><circle cx="216.87" cy="330.80" r="0.89"/><circle cx="217.03" cy="331.00" r="0.81"/><circle cx="217.20" cy="331.20" r="0.73"/><circle cx="217.37" cy="331.40" r="0.65"/><circle cx="217.53" cy="331.60" r="0.58"/><circle cx="217.70" cy="331.80" r="0.50"/></g>
<g fill="#f0f010"><circle cx="208.80" cy="328.80" r="0.22"/><circle cx="209.28" cy="328.80" r="0.30"/><circle cx="209.77" cy="328.80" r="0.38"/><circle cx="210.25" cy="328.80" r="0.46"/><circle cx="210.73" cy="328.80" r="0.54"/><circle cx="211.22" cy="328.80" r="0.62"/><circle cx="211.70" cy="328.80" r="0.70"/><circle cx="212.20" cy="328.88" r="0.75"/><circle cx="212.70" cy="328.97" r="0.79"/><circle cx="213.20" cy="329.05" r="0.84"/><circle cx="213.70" cy="329.13" r="0.88"/><circle cx="214.20" cy="329.22" r="0.93"/><circle cx="214.70" cy="329.30" r="0.97"/><circle cx="215.03" cy="329.52" r="0.92"/><circle cx="215.37" cy="329.73" r="0.86"/><circle cx="215.70" cy="329.95" r="0.80"/><circle cx="216.03" cy="330.17" r="0.75"/><circle cx="216.37" cy="330.38" r="0.69"/><circle cx="216.70" cy="330.60" r="0.63"/><circle cx="216.87" cy="330.80" r="0.55"/><circle cx="217.03" cy="331.00" r="0.47"/><circle cx="217.20" cy="331.20" r="0.39"/><circle cx="217.37" cy="331.40" r="0.31"/><circle cx="217.53" cy="331.60" r="0.24"/><circle cx="217.70" cy="331.80" r="0.16"/></g>
<g fill="#f02010"><circle cx="210.73" cy="328.80" r="0.18"/><circle cx="211.22" cy="328.80" r="0.26"/><circle cx="211.70" cy="328.80" r="0.34"/><circle cx="212.20" cy="328.88" r="0.39"/><circle cx="212.70" cy="328.97" r="0.43"/><circle cx="213.20" cy="329.05" r="0.48"/><circle cx="213.70" cy="329.13" r="0.52"/><circle cx="214.20" cy="329.22" r="0.57"/><circle cx="214.70" cy="329.30" r="0.61"/><circle cx="215.03" cy="329.52" r="0.56"/><circle cx="215.37" cy="329.73" r="0.50"/><circle cx="215.70" cy="329.95" r="0.44"/><circle cx="216.03" cy="330.17" r="0.39"/><circle cx="216.37" cy="330.38" r="0.33"/><circle cx="216.70" cy="330.60" r="0.27"/><circle cx="216.87" cy="330.80" r="0.19"/></g>
</g>
<rect x="198.75" y="322.35" width="25.30" height="26.20" fill="none" stroke="#111" stroke-width="1.1" />
<rect x="225.60" y="321.80" width="26.40" height="27.30" fill="#fff" />
<rect x="227.50" y="323.70" width="22.60" height="23.50" fill="none" stroke="#dcdcdc" stroke-width="0.5"/>
<g fill="#7080e8" opacity="0.75"><circle cx="228.25" cy="332.78" r="0.45"/><circle cx="229.24" cy="331.07" r="0.45"/><circle cx="228.35" cy="330.69" r="0.45"/><circle cx="229.82" cy="325.16" r="0.45"/><circle cx="229.35" cy="332.95" r="0.45"/><circle cx="227.85" cy="330.93" r="0.45"/><circle cx="229.55" cy="334.28" r="0.45"/><circle cx="227.98" cy="343.02" r="0.45"/><circle cx="230.01" cy="342.78" r="0.45"/><circle cx="228.09" cy="329.71" r="0.45"/><circle cx="227.91" cy="339.21" r="0.45"/><circle cx="228.56" cy="327.20" r="0.45"/><circle cx="228.98" cy="341.66" r="0.45"/><circle cx="230.09" cy="329.58" r="0.45"/><circle cx="234.64" cy="346.70" r="0.45"/><circle cx="241.80" cy="346.15" r="0.45"/><circle cx="233.62" cy="344.54" r="0.45"/><circle cx="243.80" cy="345.46" r="0.45"/><circle cx="233.33" cy="346.75" r="0.45"/><circle cx="242.89" cy="346.40" r="0.45"/><circle cx="233.52" cy="346.54" r="0.45"/><circle cx="233.23" cy="346.56" r="0.45"/><circle cx="239.81" cy="345.25" r="0.45"/><circle cx="241.50" cy="346.72" r="0.45"/><circle cx="236.65" cy="344.72" r="0.45"/><circle cx="241.06" cy="345.00" r="0.45"/></g>
<path d="M231.20,324.80 V343.80 H249.90" fill="none" stroke="#22309a" stroke-width="0.95" stroke-dasharray="2.2,0.5"/>
<g fill="none" stroke="#a86262" stroke-width="0.72"><rect x="232.50" y="326.40" width="6.8" height="6.0"/><rect x="239.30" y="326.40" width="6.7" height="6.0"/><rect x="241.80" y="334.00" width="5.1" height="6.1"/></g>
<g filter="url(#blb)">
<g fill="#1840ff"><circle cx="235.70" cy="328.80" r="1.04"/><circle cx="236.18" cy="328.83" r="1.13"/><circle cx="236.67" cy="328.87" r="1.23"/><circle cx="237.15" cy="328.90" r="1.32"/><circle cx="237.63" cy="328.93" r="1.41"/><circle cx="238.12" cy="328.97" r="1.50"/><circle cx="238.60" cy="329.00" r="1.59"/><circle cx="238.93" cy="329.13" r="1.63"/><circle cx="239.27" cy="329.27" r="1.68"/><circle cx="239.60" cy="329.40" r="1.72"/><circle cx="239.93" cy="329.53" r="1.77"/><circle cx="240.27" cy="329.67" r="1.81"/><circle cx="240.60" cy="329.80" r="1.86"/><circle cx="240.93" cy="330.13" r="1.84"/><circle cx="241.27" cy="330.47" r="1.81"/><circle cx="241.60" cy="330.80" r="1.79"/><circle cx="241.93" cy="331.13" r="1.77"/><circle cx="242.27" cy="331.47" r="1.75"/><circle cx="242.60" cy="331.80" r="1.72"/><circle cx="242.77" cy="332.22" r="1.66"/><circle cx="242.93" cy="332.63" r="1.59"/><circle cx="243.10" cy="333.05" r="1.52"/><circle cx="243.27" cy="333.47" r="1.45"/><circle cx="243.43" cy="333.88" r="1.38"/><circle cx="243.60" cy="334.30" r="1.32"/><circle cx="243.63" cy="334.47" r="1.25"/><circle cx="243.67" cy="334.63" r="1.18"/><circle cx="243.70" cy="334.80" r="1.11"/><circle cx="243.73" cy="334.97" r="1.04"/><circle cx="243.77" cy="335.13" r="0.98"/><circle cx="243.80" cy="335.30" r="0.91"/></g>
<g fill="#10c8f0"><circle cx="235.70" cy="328.80" r="0.82"/><circle cx="236.18" cy="328.83" r="0.91"/><circle cx="236.67" cy="328.87" r="1.01"/><circle cx="237.15" cy="328.90" r="1.10"/><circle cx="237.63" cy="328.93" r="1.19"/><circle cx="238.12" cy="328.97" r="1.28"/><circle cx="238.60" cy="329.00" r="1.37"/><circle cx="238.93" cy="329.13" r="1.41"/><circle cx="239.27" cy="329.27" r="1.46"/><circle cx="239.60" cy="329.40" r="1.50"/><circle cx="239.93" cy="329.53" r="1.55"/><circle cx="240.27" cy="329.67" r="1.59"/><circle cx="240.60" cy="329.80" r="1.64"/><circle cx="240.93" cy="330.13" r="1.62"/><circle cx="241.27" cy="330.47" r="1.59"/><circle cx="241.60" cy="330.80" r="1.57"/><circle cx="241.93" cy="331.13" r="1.55"/><circle cx="242.27" cy="331.47" r="1.53"/><circle cx="242.60" cy="331.80" r="1.50"/><circle cx="242.77" cy="332.22" r="1.44"/><circle cx="242.93" cy="332.63" r="1.37"/><circle cx="243.10" cy="333.05" r="1.30"/><circle cx="243.27" cy="333.47" r="1.23"/><circle cx="243.43" cy="333.88" r="1.16"/><circle cx="243.60" cy="334.30" r="1.10"/><circle cx="243.63" cy="334.47" r="1.03"/><circle cx="243.67" cy="334.63" r="0.96"/><circle cx="243.70" cy="334.80" r="0.89"/><circle cx="243.73" cy="334.97" r="0.82"/><circle cx="243.77" cy="335.13" r="0.76"/><circle cx="243.80" cy="335.30" r="0.69"/></g>
<g fill="#30e030"><circle cx="235.70" cy="328.80" r="0.56"/><circle cx="236.18" cy="328.83" r="0.65"/><circle cx="236.67" cy="328.87" r="0.75"/><circle cx="237.15" cy="328.90" r="0.84"/><circle cx="237.63" cy="328.93" r="0.93"/><circle cx="238.12" cy="328.97" r="1.02"/><circle cx="238.60" cy="329.00" r="1.11"/><circle cx="238.93" cy="329.13" r="1.15"/><circle cx="239.27" cy="329.27" r="1.20"/><circle cx="239.60" cy="329.40" r="1.24"/><circle cx="239.93" cy="329.53" r="1.29"/><circle cx="240.27" cy="329.67" r="1.33"/><circle cx="240.60" cy="329.80" r="1.38"/><circle cx="240.93" cy="330.13" r="1.36"/><circle cx="241.27" cy="330.47" r="1.33"/><circle cx="241.60" cy="330.80" r="1.31"/><circle cx="241.93" cy="331.13" r="1.29"/><circle cx="242.27" cy="331.47" r="1.27"/><circle cx="242.60" cy="331.80" r="1.24"/><circle cx="242.77" cy="332.22" r="1.18"/><circle cx="242.93" cy="332.63" r="1.11"/><circle cx="243.10" cy="333.05" r="1.04"/><circle cx="243.27" cy="333.47" r="0.97"/><circle cx="243.43" cy="333.88" r="0.90"/><circle cx="243.60" cy="334.30" r="0.84"/><circle cx="243.63" cy="334.47" r="0.77"/><circle cx="243.67" cy="334.63" r="0.70"/><circle cx="243.70" cy="334.80" r="0.63"/><circle cx="243.73" cy="334.97" r="0.56"/><circle cx="243.77" cy="335.13" r="0.50"/><circle cx="243.80" cy="335.30" r="0.43"/></g>
<g fill="#f0f010"><circle cx="235.70" cy="328.80" r="0.22"/><circle cx="236.18" cy="328.83" r="0.31"/><circle cx="236.67" cy="328.87" r="0.41"/><circle cx="237.15" cy="328.90" r="0.50"/><circle cx="237.63" cy="328.93" r="0.59"/><circle cx="238.12" cy="328.97" r="0.68"/><circle cx="238.60" cy="329.00" r="0.77"/><circle cx="238.93" cy="329.13" r="0.81"/><circle cx="239.27" cy="329.27" r="0.86"/><circle cx="239.60" cy="329.40" r="0.90"/><circle cx="239.93" cy="329.53" r="0.95"/><circle cx="240.27" cy="329.67" r="0.99"/><circle cx="240.60" cy="329.80" r="1.04"/><circle cx="240.93" cy="330.13" r="1.02"/><circle cx="241.27" cy="330.47" r="0.99"/><circle cx="241.60" cy="330.80" r="0.97"/><circle cx="241.93" cy="331.13" r="0.95"/><circle cx="242.27" cy="331.47" r="0.93"/><circle cx="242.60" cy="331.80" r="0.90"/><circle cx="242.77" cy="332.22" r="0.84"/><circle cx="242.93" cy="332.63" r="0.77"/><circle cx="243.10" cy="333.05" r="0.70"/><circle cx="243.27" cy="333.47" r="0.63"/><circle cx="243.43" cy="333.88" r="0.56"/><circle cx="243.60" cy="334.30" r="0.50"/><circle cx="243.63" cy="334.47" r="0.43"/><circle cx="243.67" cy="334.63" r="0.36"/><circle cx="243.70" cy="334.80" r="0.29"/><circle cx="243.73" cy="334.97" r="0.22"/><circle cx="243.77" cy="335.13" r="0.16"/></g>
<g fill="#f02010"><circle cx="237.63" cy="328.93" r="0.23"/><circle cx="238.12" cy="328.97" r="0.32"/><circle cx="238.60" cy="329.00" r="0.41"/><circle cx="238.93" cy="329.13" r="0.45"/><circle cx="239.27" cy="329.27" r="0.50"/><circle cx="239.60" cy="329.40" r="0.54"/><circle cx="239.93" cy="329.53" r="0.59"/><circle cx="240.27" cy="329.67" r="0.63"/><circle cx="240.60" cy="329.80" r="0.68"/><circle cx="240.93" cy="330.13" r="0.66"/><circle cx="241.27" cy="330.47" r="0.63"/><circle cx="241.60" cy="330.80" r="0.61"/><circle cx="241.93" cy="331.13" r="0.59"/><circle cx="242.27" cy="331.47" r="0.57"/><circle cx="242.60" cy="331.80" r="0.54"/><circle cx="242.77" cy="332.22" r="0.48"/><circle cx="242.93" cy="332.63" r="0.41"/><circle cx="243.10" cy="333.05" r="0.34"/><circle cx="243.27" cy="333.47" r="0.27"/><circle cx="243.43" cy="333.88" r="0.20"/></g>
</g>
<rect x="226.15" y="322.35" width="25.30" height="26.20" fill="none" stroke="#111" stroke-width="1.1" />
<rect x="252.80" y="321.80" width="26.40" height="27.30" fill="#fff" />
<rect x="254.70" y="323.70" width="22.60" height="23.50" fill="none" stroke="#dcdcdc" stroke-width="0.5"/>
<g fill="#7080e8" opacity="0.75"><circle cx="255.31" cy="327.79" r="0.45"/><circle cx="255.14" cy="328.53" r="0.45"/><circle cx="255.87" cy="330.44" r="0.45"/><circle cx="257.13" cy="330.16" r="0.45"/><circle cx="256.40" cy="328.09" r="0.45"/><circle cx="255.97" cy="325.14" r="0.45"/><circle cx="255.70" cy="325.08" r="0.45"/><circle cx="257.05" cy="334.99" r="0.45"/><circle cx="255.53" cy="333.58" r="0.45"/><circle cx="257.62" cy="326.77" r="0.45"/><circle cx="257.29" cy="332.80" r="0.45"/><circle cx="256.39" cy="340.24" r="0.45"/><circle cx="256.10" cy="334.17" r="0.45"/><circle cx="256.93" cy="342.98" r="0.45"/><circle cx="265.13" cy="346.48" r="0.45"/><circle cx="271.31" cy="345.99" r="0.45"/><circle cx="266.18" cy="345.27" r="0.45"/><circle cx="260.22" cy="344.72" r="0.45"/><circle cx="260.50" cy="346.25" r="0.45"/><circle cx="263.65" cy="344.81" r="0.45"/><circle cx="260.74" cy="346.50" r="0.45"/><circle cx="274.10" cy="346.08" r="0.45"/><circle cx="264.09" cy="345.01" r="0.45"/><circle cx="264.28" cy="345.55" r="0.45"/><circle cx="261.98" cy="345.51" r="0.45"/><circle cx="263.78" cy="346.80" r="0.45"/></g>
<path d="M258.40,324.80 V343.80 H277.10" fill="none" stroke="#22309a" stroke-width="0.95" stroke-dasharray="2.2,0.5"/>
<g fill="none" stroke="#a86262" stroke-width="0.72"><rect x="259.70" y="326.40" width="6.8" height="6.0"/><rect x="266.50" y="326.40" width="6.7" height="6.0"/><rect x="269.00" y="334.00" width="5.1" height="6.1"/></g>
<g filter="url(#blb)">
<g fill="#1840ff"><circle cx="265.40" cy="329.30" r="1.04"/><circle cx="265.88" cy="329.47" r="1.15"/><circle cx="266.37" cy="329.63" r="1.25"/><circle cx="266.85" cy="329.80" r="1.35"/><circle cx="267.33" cy="329.97" r="1.45"/><circle cx="267.82" cy="330.13" r="1.55"/><circle cx="268.30" cy="330.30" r="1.66"/><circle cx="268.63" cy="330.72" r="1.69"/><circle cx="268.97" cy="331.13" r="1.72"/><circle cx="269.30" cy="331.55" r="1.76"/><circle cx="269.63" cy="331.97" r="1.79"/><circle cx="269.97" cy="332.38" r="1.83"/><circle cx="270.30" cy="332.80" r="1.86"/><circle cx="270.43" cy="333.30" r="1.84"/><circle cx="270.57" cy="333.80" r="1.81"/><circle cx="270.70" cy="334.30" r="1.79"/><circle cx="270.83" cy="334.80" r="1.77"/><circle cx="270.97" cy="335.30" r="1.75"/><circle cx="271.10" cy="335.80" r="1.72"/><circle cx="271.13" cy="336.38" r="1.63"/><circle cx="271.17" cy="336.97" r="1.54"/><circle cx="271.20" cy="337.55" r="1.45"/><circle cx="271.23" cy="338.13" r="1.36"/><circle cx="271.27" cy="338.72" r="1.27"/><circle cx="271.30" cy="339.30" r="1.18"/></g>
<g fill="#10c8f0"><circle cx="265.40" cy="329.30" r="0.82"/><circle cx="265.88" cy="329.47" r="0.93"/><circle cx="266.37" cy="329.63" r="1.03"/><circle cx="266.85" cy="329.80" r="1.13"/><circle cx="267.33" cy="329.97" r="1.23"/><circle cx="267.82" cy="330.13" r="1.33"/><circle cx="268.30" cy="330.30" r="1.44"/><circle cx="268.63" cy="330.72" r="1.47"/><circle cx="268.97" cy="331.13" r="1.50"/><circle cx="269.30" cy="331.55" r="1.54"/><circle cx="269.63" cy="331.97" r="1.57"/><circle cx="269.97" cy="332.38" r="1.61"/><circle cx="270.30" cy="332.80" r="1.64"/><circle cx="270.43" cy="333.30" r="1.62"/><circle cx="270.57" cy="333.80" r="1.59"/><circle cx="270.70" cy="334.30" r="1.57"/><circle cx="270.83" cy="334.80" r="1.55"/><circle cx="270.97" cy="335.30" r="1.53"/><circle cx="271.10" cy="335.80" r="1.50"/><circle cx="271.13" cy="336.38" r="1.41"/><circle cx="271.17" cy="336.97" r="1.32"/><circle cx="271.20" cy="337.55" r="1.23"/><circle cx="271.23" cy="338.13" r="1.14"/><circle cx="271.27" cy="338.72" r="1.05"/><circle cx="271.30" cy="339.30" r="0.96"/></g>
<g fill="#30e030"><circle cx="265.40" cy="329.30" r="0.56"/><circle cx="265.88" cy="329.47" r="0.67"/><circle cx="266.37" cy="329.63" r="0.77"/><circle cx="266.85" cy="329.80" r="0.87"/><circle cx="267.33" cy="329.97" r="0.97"/><circle cx="267.82" cy="330.13" r="1.07"/><circle cx="268.30" cy="330.30" r="1.18"/><circle cx="268.63" cy="330.72" r="1.21"/><circle cx="268.97" cy="331.13" r="1.24"/><circle cx="269.30" cy="331.55" r="1.28"/><circle cx="269.63" cy="331.97" r="1.31"/><circle cx="269.97" cy="332.38" r="1.35"/><circle cx="270.30" cy="332.80" r="1.38"/><circle cx="270.43" cy="333.30" r="1.36"/><circle cx="270.57" cy="333.80" r="1.33"/><circle cx="270.70" cy="334.30" r="1.31"/><circle cx="270.83" cy="334.80" r="1.29"/><circle cx="270.97" cy="335.30" r="1.27"/><circle cx="271.10" cy="335.80" r="1.24"/><circle cx="271.13" cy="336.38" r="1.15"/><circle cx="271.17" cy="336.97" r="1.06"/><circle cx="271.20" cy="337.55" r="0.97"/><circle cx="271.23" cy="338.13" r="0.88"/><circle cx="271.27" cy="338.72" r="0.79"/><circle cx="271.30" cy="339.30" r="0.70"/></g>
<g fill="#f0f010"><circle cx="265.40" cy="329.30" r="0.22"/><circle cx="265.88" cy="329.47" r="0.33"/><circle cx="266.37" cy="329.63" r="0.43"/><circle cx="266.85" cy="329.80" r="0.53"/><circle cx="267.33" cy="329.97" r="0.63"/><circle cx="267.82" cy="330.13" r="0.73"/><circle cx="268.30" cy="330.30" r="0.84"/><circle cx="268.63" cy="330.72" r="0.87"/><circle cx="268.97" cy="331.13" r="0.90"/><circle cx="269.30" cy="331.55" r="0.94"/><circle cx="269.63" cy="331.97" r="0.97"/><circle cx="269.97" cy="332.38" r="1.01"/><circle cx="270.30" cy="332.80" r="1.04"/><circle cx="270.43" cy="333.30" r="1.02"/><circle cx="270.57" cy="333.80" r="0.99"/><circle cx="270.70" cy="334.30" r="0.97"/><circle cx="270.83" cy="334.80" r="0.95"/><circle cx="270.97" cy="335.30" r="0.93"/><circle cx="271.10" cy="335.80" r="0.90"/><circle cx="271.13" cy="336.38" r="0.81"/><circle cx="271.17" cy="336.97" r="0.72"/><circle cx="271.20" cy="337.55" r="0.63"/><circle cx="271.23" cy="338.13" r="0.54"/><circle cx="271.27" cy="338.72" r="0.45"/><circle cx="271.30" cy="339.30" r="0.36"/></g>
<g fill="#f02010"><circle cx="266.85" cy="329.80" r="0.17"/><circle cx="267.33" cy="329.97" r="0.27"/><circle cx="267.82" cy="330.13" r="0.37"/><circle cx="268.30" cy="330.30" r="0.48"/><circle cx="268.63" cy="330.72" r="0.51"/><circle cx="268.97" cy="331.13" r="0.54"/><circle cx="269.30" cy="331.55" r="0.58"/><circle cx="269.63" cy="331.97" r="0.61"/><circle cx="269.97" cy="332.38" r="0.65"/><circle cx="270.30" cy="332.80" r="0.68"/><circle cx="270.43" cy="333.30" r="0.66"/><circle cx="270.57" cy="333.80" r="0.63"/><circle cx="270.70" cy="334.30" r="0.61"/><circle cx="270.83" cy="334.80" r="0.59"/><circle cx="270.97" cy="335.30" r="0.57"/><circle cx="271.10" cy="335.80" r="0.54"/><circle cx="271.13" cy="336.38" r="0.45"/><circle cx="271.17" cy="336.97" r="0.36"/><circle cx="271.20" cy="337.55" r="0.27"/><circle cx="271.23" cy="338.13" r="0.18"/></g>
</g>
<rect x="253.35" y="322.35" width="25.30" height="26.20" fill="none" stroke="#111" stroke-width="1.1" />
<rect x="280.00" y="321.80" width="26.40" height="27.30" fill="#fff" />
<rect x="281.90" y="323.70" width="22.60" height="23.50" fill="none" stroke="#dcdcdc" stroke-width="0.5"/>
<g fill="#7080e8" opacity="0.75"><circle cx="284.92" cy="334.92" r="0.45"/><circle cx="282.88" cy="342.66" r="0.45"/><circle cx="283.07" cy="331.40" r="0.45"/><circle cx="282.20" cy="331.86" r="0.45"/><circle cx="283.53" cy="334.10" r="0.45"/><circle cx="282.76" cy="334.14" r="0.45"/><circle cx="282.21" cy="329.69" r="0.45"/><circle cx="282.45" cy="332.19" r="0.45"/><circle cx="282.32" cy="325.22" r="0.45"/><circle cx="283.05" cy="329.11" r="0.45"/><circle cx="283.84" cy="334.59" r="0.45"/><circle cx="284.30" cy="336.96" r="0.45"/><circle cx="284.20" cy="341.06" r="0.45"/><circle cx="283.29" cy="330.83" r="0.45"/><circle cx="303.24" cy="344.77" r="0.45"/><circle cx="298.81" cy="346.01" r="0.45"/><circle cx="287.24" cy="346.49" r="0.45"/><circle cx="301.66" cy="345.97" r="0.45"/><circle cx="298.98" cy="346.43" r="0.45"/><circle cx="288.87" cy="345.71" r="0.45"/><circle cx="295.07" cy="346.49" r="0.45"/><circle cx="300.18" cy="346.47" r="0.45"/><circle cx="296.43" cy="346.63" r="0.45"/><circle cx="298.11" cy="346.13" r="0.45"/><circle cx="290.41" cy="344.48" r="0.45"/><circle cx="288.76" cy="345.30" r="0.45"/></g>
<path d="M285.60,324.80 V343.80 H304.30" fill="none" stroke="#22309a" stroke-width="0.95" stroke-dasharray="2.2,0.5"/>
<g fill="none" stroke="#a86262" stroke-width="0.72"><rect x="286.90" y="326.40" width="6.8" height="6.0"/><rect x="293.70" y="326.40" width="6.7" height="6.0"/><rect x="296.20" y="334.00" width="5.1" height="6.1"/></g>
<g filter="url(#blb)">
<g fill="#1840ff"><circle cx="296.80" cy="329.80" r="1.32"/><circle cx="296.92" cy="330.22" r="1.42"/><circle cx="297.03" cy="330.63" r="1.52"/><circle cx="297.15" cy="331.05" r="1.62"/><circle cx="297.27" cy="331.47" r="1.72"/><circle cx="297.38" cy="331.88" r="1.83"/><circle cx="297.50" cy="332.30" r="1.93"/><circle cx="297.58" cy="332.80" r="1.93"/><circle cx="297.67" cy="333.30" r="1.93"/><circle cx="297.75" cy="333.80" r="1.93"/><circle cx="297.83" cy="334.30" r="1.93"/><circle cx="297.92" cy="334.80" r="1.93"/><circle cx="298.00" cy="335.30" r="1.93"/><circle cx="298.05" cy="335.80" r="1.87"/><circle cx="298.10" cy="336.30" r="1.81"/><circle cx="298.15" cy="336.80" r="1.76"/><circle cx="298.20" cy="337.30" r="1.70"/><circle cx="298.25" cy="337.80" r="1.64"/><circle cx="298.30" cy="338.30" r="1.59"/><circle cx="298.33" cy="338.63" r="1.50"/><circle cx="298.37" cy="338.97" r="1.41"/><circle cx="298.40" cy="339.30" r="1.32"/><circle cx="298.43" cy="339.63" r="1.23"/><circle cx="298.47" cy="339.97" r="1.13"/><circle cx="298.50" cy="340.30" r="1.04"/></g>
<g fill="#10c8f0"><circle cx="296.80" cy="329.80" r="1.10"/><circle cx="296.92" cy="330.22" r="1.20"/><circle cx="297.03" cy="330.63" r="1.30"/><circle cx="297.15" cy="331.05" r="1.40"/><circle cx="297.27" cy="331.47" r="1.50"/><circle cx="297.38" cy="331.88" r="1.61"/><circle cx="297.50" cy="332.30" r="1.71"/><circle cx="297.58" cy="332.80" r="1.71"/><circle cx="297.67" cy="333.30" r="1.71"/><circle cx="297.75" cy="333.80" r="1.71"/><circle cx="297.83" cy="334.30" r="1.71"/><circle cx="297.92" cy="334.80" r="1.71"/><circle cx="298.00" cy="335.30" r="1.71"/><circle cx="298.05" cy="335.80" r="1.65"/><circle cx="298.10" cy="336.30" r="1.59"/><circle cx="298.15" cy="336.80" r="1.54"/><circle cx="298.20" cy="337.30" r="1.48"/><circle cx="298.25" cy="337.80" r="1.42"/><circle cx="298.30" cy="338.30" r="1.37"/><circle cx="298.33" cy="338.63" r="1.28"/><circle cx="298.37" cy="338.97" r="1.19"/><circle cx="298.40" cy="339.30" r="1.10"/><circle cx="298.43" cy="339.63" r="1.01"/><circle cx="298.47" cy="339.97" r="0.91"/><circle cx="298.50" cy="340.30" r="0.82"/></g>
<g fill="#30e030"><circle cx="296.80" cy="329.80" r="0.84"/><circle cx="296.92" cy="330.22" r="0.94"/><circle cx="297.03" cy="330.63" r="1.04"/><circle cx="297.15" cy="331.05" r="1.14"/><circle cx="297.27" cy="331.47" r="1.24"/><circle cx="297.38" cy="331.88" r="1.35"/><circle cx="297.50" cy="332.30" r="1.45"/><circle cx="297.58" cy="332.80" r="1.45"/><circle cx="297.67" cy="333.30" r="1.45"/><circle cx="297.75" cy="333.80" r="1.45"/><circle cx="297.83" cy="334.30" r="1.45"/><circle cx="297.92" cy="334.80" r="1.45"/><circle cx="298.00" cy="335.30" r="1.45"/><circle cx="298.05" cy="335.80" r="1.39"/><circle cx="298.10" cy="336.30" r="1.33"/><circle cx="298.15" cy="336.80" r="1.28"/><circle cx="298.20" cy="337.30" r="1.22"/><circle cx="298.25" cy="337.80" r="1.16"/><circle cx="298.30" cy="338.30" r="1.11"/><circle cx="298.33" cy="338.63" r="1.02"/><circle cx="298.37" cy="338.97" r="0.93"/><circle cx="298.40" cy="339.30" r="0.84"/><circle cx="298.43" cy="339.63" r="0.75"/><circle cx="298.47" cy="339.97" r="0.65"/><circle cx="298.50" cy="340.30" r="0.56"/></g>
<g fill="#f0f010"><circle cx="296.80" cy="329.80" r="0.50"/><circle cx="296.92" cy="330.22" r="0.60"/><circle cx="297.03" cy="330.63" r="0.70"/><circle cx="297.15" cy="331.05" r="0.80"/><circle cx="297.27" cy="331.47" r="0.90"/><circle cx="297.38" cy="331.88" r="1.01"/><circle cx="297.50" cy="332.30" r="1.11"/><circle cx="297.58" cy="332.80" r="1.11"/><circle cx="297.67" cy="333.30" r="1.11"/><circle cx="297.75" cy="333.80" r="1.11"/><circle cx="297.83" cy="334.30" r="1.11"/><circle cx="297.92" cy="334.80" r="1.11"/><circle cx="298.00" cy="335.30" r="1.11"/><circle cx="298.05" cy="335.80" r="1.05"/><circle cx="298.10" cy="336.30" r="0.99"/><circle cx="298.15" cy="336.80" r="0.94"/><circle cx="298.20" cy="337.30" r="0.88"/><circle cx="298.25" cy="337.80" r="0.82"/><circle cx="298.30" cy="338.30" r="0.77"/><circle cx="298.33" cy="338.63" r="0.68"/><circle cx="298.37" cy="338.97" r="0.59"/><circle cx="298.40" cy="339.30" r="0.50"/><circle cx="298.43" cy="339.63" r="0.41"/><circle cx="298.47" cy="339.97" r="0.31"/><circle cx="298.50" cy="340.30" r="0.22"/></g>
<g fill="#f02010"><circle cx="296.92" cy="330.22" r="0.24"/><circle cx="297.03" cy="330.63" r="0.34"/><circle cx="297.15" cy="331.05" r="0.44"/><circle cx="297.27" cy="331.47" r="0.54"/><circle cx="297.38" cy="331.88" r="0.65"/><circle cx="297.50" cy="332.30" r="0.75"/><circle cx="297.58" cy="332.80" r="0.75"/><circle cx="297.67" cy="333.30" r="0.75"/><circle cx="297.75" cy="333.80" r="0.75"/><circle cx="297.83" cy="334.30" r="0.75"/><circle cx="297.92" cy="334.80" r="0.75"/><circle cx="298.00" cy="335.30" r="0.75"/><circle cx="298.05" cy="335.80" r="0.69"/><circle cx="298.10" cy="336.30" r="0.63"/><circle cx="298.15" cy="336.80" r="0.58"/><circle cx="298.20" cy="337.30" r="0.52"/><circle cx="298.25" cy="337.80" r="0.46"/><circle cx="298.30" cy="338.30" r="0.41"/><circle cx="298.33" cy="338.63" r="0.32"/><circle cx="298.37" cy="338.97" r="0.23"/></g>
</g>
<rect x="280.55" y="322.35" width="25.30" height="26.20" fill="none" stroke="#111" stroke-width="1.1" />
<rect x="307.20" y="321.80" width="26.40" height="27.30" fill="#fff" />
<rect x="309.10" y="323.70" width="22.60" height="23.50" fill="none" stroke="#dcdcdc" stroke-width="0.5"/>
<g fill="#7080e8" opacity="0.75"><circle cx="309.69" cy="340.26" r="0.45"/><circle cx="310.96" cy="336.41" r="0.45"/><circle cx="311.15" cy="337.39" r="0.45"/><circle cx="310.77" cy="324.86" r="0.45"/><circle cx="311.63" cy="338.64" r="0.45"/><circle cx="310.81" cy="334.70" r="0.45"/><circle cx="311.25" cy="326.02" r="0.45"/><circle cx="311.46" cy="329.47" r="0.45"/><circle cx="309.61" cy="329.71" r="0.45"/><circle cx="311.44" cy="328.60" r="0.45"/><circle cx="311.47" cy="342.85" r="0.45"/><circle cx="310.78" cy="331.88" r="0.45"/><circle cx="310.74" cy="337.45" r="0.45"/><circle cx="311.55" cy="336.21" r="0.45"/><circle cx="324.63" cy="344.59" r="0.45"/><circle cx="316.21" cy="345.03" r="0.45"/><circle cx="326.33" cy="345.16" r="0.45"/><circle cx="323.35" cy="344.43" r="0.45"/><circle cx="314.73" cy="345.07" r="0.45"/><circle cx="325.12" cy="346.13" r="0.45"/><circle cx="325.19" cy="345.13" r="0.45"/><circle cx="322.48" cy="345.56" r="0.45"/><circle cx="321.63" cy="344.70" r="0.45"/><circle cx="328.89" cy="344.90" r="0.45"/><circle cx="330.33" cy="346.74" r="0.45"/><circle cx="314.00" cy="345.55" r="0.45"/></g>
<path d="M312.80,324.80 V343.80 H331.50" fill="none" stroke="#22309a" stroke-width="0.95" stroke-dasharray="2.2,0.5"/>
<g fill="none" stroke="#a86262" stroke-width="0.72"><rect x="314.10" y="326.40" width="6.8" height="6.0"/><rect x="320.90" y="326.40" width="6.7" height="6.0"/><rect x="323.40" y="334.00" width="5.1" height="6.1"/></g>
<g filter="url(#blb)">
<g fill="#1840ff"><circle cx="323.50" cy="331.30" r="1.18"/><circle cx="323.57" cy="331.72" r="1.27"/><circle cx="323.63" cy="332.13" r="1.36"/><circle cx="323.70" cy="332.55" r="1.45"/><circle cx="323.77" cy="332.97" r="1.54"/><circle cx="323.83" cy="333.38" r="1.63"/><circle cx="323.90" cy="333.80" r="1.72"/><circle cx="323.95" cy="334.22" r="1.74"/><circle cx="324.00" cy="334.63" r="1.75"/><circle cx="324.05" cy="335.05" r="1.76"/><circle cx="324.10" cy="335.47" r="1.77"/><circle cx="324.15" cy="335.88" r="1.78"/><circle cx="324.20" cy="336.30" r="1.79"/><circle cx="324.22" cy="336.72" r="1.75"/><circle cx="324.23" cy="337.13" r="1.70"/><circle cx="324.25" cy="337.55" r="1.66"/><circle cx="324.27" cy="337.97" r="1.61"/><circle cx="324.28" cy="338.38" r="1.57"/><circle cx="324.30" cy="338.80" r="1.52"/><circle cx="324.32" cy="339.05" r="1.44"/><circle cx="324.33" cy="339.30" r="1.36"/><circle cx="324.35" cy="339.55" r="1.28"/><circle cx="324.37" cy="339.80" r="1.20"/><circle cx="324.38" cy="340.05" r="1.12"/><circle cx="324.40" cy="340.30" r="1.04"/></g>
<g fill="#10c8f0"><circle cx="323.50" cy="331.30" r="0.96"/><circle cx="323.57" cy="331.72" r="1.05"/><circle cx="323.63" cy="332.13" r="1.14"/><circle cx="323.70" cy="332.55" r="1.23"/><circle cx="323.77" cy="332.97" r="1.32"/><circle cx="323.83" cy="333.38" r="1.41"/><circle cx="323.90" cy="333.80" r="1.50"/><circle cx="323.95" cy="334.22" r="1.52"/><circle cx="324.00" cy="334.63" r="1.53"/><circle cx="324.05" cy="335.05" r="1.54"/><circle cx="324.10" cy="335.47" r="1.55"/><circle cx="324.15" cy="335.88" r="1.56"/><circle cx="324.20" cy="336.30" r="1.57"/><circle cx="324.22" cy="336.72" r="1.53"/><circle cx="324.23" cy="337.13" r="1.48"/><circle cx="324.25" cy="337.55" r="1.44"/><circle cx="324.27" cy="337.97" r="1.39"/><circle cx="324.28" cy="338.38" r="1.35"/><circle cx="324.30" cy="338.80" r="1.30"/><circle cx="324.32" cy="339.05" r="1.22"/><circle cx="324.33" cy="339.30" r="1.14"/><circle cx="324.35" cy="339.55" r="1.06"/><circle cx="324.37" cy="339.80" r="0.98"/><circle cx="324.38" cy="340.05" r="0.90"/><circle cx="324.40" cy="340.30" r="0.82"/></g>
<g fill="#30e030"><circle cx="323.50" cy="331.30" r="0.70"/><circle cx="323.57" cy="331.72" r="0.79"/><circle cx="323.63" cy="332.13" r="0.88"/><circle cx="323.70" cy="332.55" r="0.97"/><circle cx="323.77" cy="332.97" r="1.06"/><circle cx="323.83" cy="333.38" r="1.15"/><circle cx="323.90" cy="333.80" r="1.24"/><circle cx="323.95" cy="334.22" r="1.26"/><circle cx="324.00" cy="334.63" r="1.27"/><circle cx="324.05" cy="335.05" r="1.28"/><circle cx="324.10" cy="335.47" r="1.29"/><circle cx="324.15" cy="335.88" r="1.30"/><circle cx="324.20" cy="336.30" r="1.31"/><circle cx="324.22" cy="336.72" r="1.27"/><circle cx="324.23" cy="337.13" r="1.22"/><circle cx="324.25" cy="337.55" r="1.18"/><circle cx="324.27" cy="337.97" r="1.13"/><circle cx="324.28" cy="338.38" r="1.09"/><circle cx="324.30" cy="338.80" r="1.04"/><circle cx="324.32" cy="339.05" r="0.96"/><circle cx="324.33" cy="339.30" r="0.88"/><circle cx="324.35" cy="339.55" r="0.80"/><circle cx="324.37" cy="339.80" r="0.72"/><circle cx="324.38" cy="340.05" r="0.64"/><circle cx="324.40" cy="340.30" r="0.56"/></g>
<g fill="#f0f010"><circle cx="323.50" cy="331.30" r="0.36"/><circle cx="323.57" cy="331.72" r="0.45"/><circle cx="323.63" cy="332.13" r="0.54"/><circle cx="323.70" cy="332.55" r="0.63"/><circle cx="323.77" cy="332.97" r="0.72"/><circle cx="323.83" cy="333.38" r="0.81"/><circle cx="323.90" cy="333.80" r="0.90"/><circle cx="323.95" cy="334.22" r="0.92"/><circle cx="324.00" cy="334.63" r="0.93"/><circle cx="324.05" cy="335.05" r="0.94"/><circle cx="324.10" cy="335.47" r="0.95"/><circle cx="324.15" cy="335.88" r="0.96"/><circle cx="324.20" cy="336.30" r="0.97"/><circle cx="324.22" cy="336.72" r="0.93"/><circle cx="324.23" cy="337.13" r="0.88"/><circle cx="324.25" cy="337.55" r="0.84"/><circle cx="324.27" cy="337.97" r="0.79"/><circle cx="324.28" cy="338.38" r="0.75"/><circle cx="324.30" cy="338.80" r="0.70"/><circle cx="324.32" cy="339.05" r="0.62"/><circle cx="324.33" cy="339.30" r="0.54"/><circle cx="324.35" cy="339.55" r="0.46"/><circle cx="324.37" cy="339.80" r="0.38"/><circle cx="324.38" cy="340.05" r="0.30"/><circle cx="324.40" cy="340.30" r="0.22"/></g>
<g fill="#f02010"><circle cx="323.63" cy="332.13" r="0.18"/><circle cx="323.70" cy="332.55" r="0.27"/><circle cx="323.77" cy="332.97" r="0.36"/><circle cx="323.83" cy="333.38" r="0.45"/><circle cx="323.90" cy="333.80" r="0.54"/><circle cx="323.95" cy="334.22" r="0.56"/><circle cx="324.00" cy="334.63" r="0.57"/><circle cx="324.05" cy="335.05" r="0.58"/><circle cx="324.10" cy="335.47" r="0.59"/><circle cx="324.15" cy="335.88" r="0.60"/><circle cx="324.20" cy="336.30" r="0.61"/><circle cx="324.22" cy="336.72" r="0.57"/><circle cx="324.23" cy="337.13" r="0.52"/><circle cx="324.25" cy="337.55" r="0.48"/><circle cx="324.27" cy="337.97" r="0.43"/><circle cx="324.28" cy="338.38" r="0.39"/><circle cx="324.30" cy="338.80" r="0.34"/><circle cx="324.32" cy="339.05" r="0.26"/><circle cx="324.33" cy="339.30" r="0.18"/></g>
</g>
<rect x="307.75" y="322.35" width="25.30" height="26.20" fill="none" stroke="#111" stroke-width="1.1" />
<rect x="198.20" y="350.30" width="26.40" height="26.20" fill="#fff" />
<rect x="200.10" y="352.20" width="22.60" height="22.40" fill="none" stroke="#dcdcdc" stroke-width="0.5"/>
<g fill="#7080e8" opacity="0.75"><circle cx="202.70" cy="371.21" r="0.45"/><circle cx="201.66" cy="358.27" r="0.45"/><circle cx="200.99" cy="370.79" r="0.45"/><circle cx="200.99" cy="364.06" r="0.45"/><circle cx="200.80" cy="363.00" r="0.45"/><circle cx="203.07" cy="355.75" r="0.45"/><circle cx="202.70" cy="362.71" r="0.45"/><circle cx="202.88" cy="366.31" r="0.45"/><circle cx="201.05" cy="369.91" r="0.45"/><circle cx="201.76" cy="353.76" r="0.45"/><circle cx="200.41" cy="362.40" r="0.45"/><circle cx="201.66" cy="358.89" r="0.45"/><circle cx="200.79" cy="359.66" r="0.45"/><circle cx="201.29" cy="368.84" r="0.45"/><circle cx="204.73" cy="373.95" r="0.45"/><circle cx="218.96" cy="373.07" r="0.45"/><circle cx="220.45" cy="373.90" r="0.45"/><circle cx="220.03" cy="373.31" r="0.45"/><circle cx="211.03" cy="373.45" r="0.45"/><circle cx="221.68" cy="373.72" r="0.45"/><circle cx="210.83" cy="373.50" r="0.45"/><circle cx="209.38" cy="372.97" r="0.45"/><circle cx="206.43" cy="374.07" r="0.45"/><circle cx="209.56" cy="374.21" r="0.45"/><circle cx="208.94" cy="373.27" r="0.45"/><circle cx="213.39" cy="373.17" r="0.45"/></g>
<path d="M203.80,353.30 V372.30 H222.50" fill="none" stroke="#22309a" stroke-width="0.95" stroke-dasharray="2.2,0.5"/>
<g fill="none" stroke="#a86262" stroke-width="0.72"><rect x="205.10" y="354.90" width="6.8" height="6.0"/><rect x="211.90" y="354.90" width="6.7" height="6.0"/><rect x="214.40" y="362.50" width="5.1" height="6.1"/></g>
<g filter="url(#blb)">
<g fill="#1840ff"><circle cx="208.80" cy="357.40" r="1.11"/><circle cx="209.28" cy="357.47" r="1.19"/><circle cx="209.77" cy="357.53" r="1.27"/><circle cx="210.25" cy="357.60" r="1.35"/><circle cx="210.73" cy="357.67" r="1.43"/><circle cx="211.22" cy="357.73" r="1.51"/><circle cx="211.70" cy="357.80" r="1.59"/><circle cx="212.20" cy="358.02" r="1.62"/><circle cx="212.70" cy="358.23" r="1.66"/><circle cx="213.20" cy="358.45" r="1.69"/><circle cx="213.70" cy="358.67" r="1.72"/><circle cx="214.20" cy="358.88" r="1.76"/><circle cx="214.70" cy="359.10" r="1.79"/><circle cx="214.98" cy="359.38" r="1.72"/><circle cx="215.27" cy="359.67" r="1.66"/><circle cx="215.55" cy="359.95" r="1.59"/><circle cx="215.83" cy="360.23" r="1.52"/><circle cx="216.12" cy="360.52" r="1.45"/><circle cx="216.40" cy="360.80" r="1.38"/><circle cx="216.53" cy="360.97" r="1.30"/><circle cx="216.67" cy="361.13" r="1.23"/><circle cx="216.80" cy="361.30" r="1.15"/><circle cx="216.93" cy="361.47" r="1.07"/><circle cx="217.07" cy="361.63" r="0.99"/><circle cx="217.20" cy="361.80" r="0.91"/></g>
<g fill="#10c8f0"><circle cx="208.80" cy="357.40" r="0.89"/><circle cx="209.28" cy="357.47" r="0.97"/><circle cx="209.77" cy="357.53" r="1.05"/><circle cx="210.25" cy="357.60" r="1.13"/><circle cx="210.73" cy="357.67" r="1.21"/><circle cx="211.22" cy="357.73" r="1.29"/><circle cx="211.70" cy="357.80" r="1.37"/><circle cx="212.20" cy="358.02" r="1.40"/><circle cx="212.70" cy="358.23" r="1.44"/><circle cx="213.20" cy="358.45" r="1.47"/><circle cx="213.70" cy="358.67" r="1.50"/><circle cx="214.20" cy="358.88" r="1.54"/><circle cx="214.70" cy="359.10" r="1.57"/><circle cx="214.98" cy="359.38" r="1.50"/><circle cx="215.27" cy="359.67" r="1.44"/><circle cx="215.55" cy="359.95" r="1.37"/><circle cx="215.83" cy="360.23" r="1.30"/><circle cx="216.12" cy="360.52" r="1.23"/><circle cx="216.40" cy="360.80" r="1.16"/><circle cx="216.53" cy="360.97" r="1.08"/><circle cx="216.67" cy="361.13" r="1.01"/><circle cx="216.80" cy="361.30" r="0.93"/><circle cx="216.93" cy="361.47" r="0.85"/><circle cx="217.07" cy="361.63" r="0.77"/><circle cx="217.20" cy="361.80" r="0.69"/></g>
<g fill="#30e030"><circle cx="208.80" cy="357.40" r="0.63"/><circle cx="209.28" cy="357.47" r="0.71"/><circle cx="209.77" cy="357.53" r="0.79"/><circle cx="210.25" cy="357.60" r="0.87"/><circle cx="210.73" cy="357.67" r="0.95"/><circle cx="211.22" cy="357.73" r="1.03"/><circle cx="211.70" cy="357.80" r="1.11"/><circle cx="212.20" cy="358.02" r="1.14"/><circle cx="212.70" cy="358.23" r="1.18"/><circle cx="213.20" cy="358.45" r="1.21"/><circle cx="213.70" cy="358.67" r="1.24"/><circle cx="214.20" cy="358.88" r="1.28"/><circle cx="214.70" cy="359.10" r="1.31"/><circle cx="214.98" cy="359.38" r="1.24"/><circle cx="215.27" cy="359.67" r="1.18"/><circle cx="215.55" cy="359.95" r="1.11"/><circle cx="215.83" cy="360.23" r="1.04"/><circle cx="216.12" cy="360.52" r="0.97"/><circle cx="216.40" cy="360.80" r="0.90"/><circle cx="216.53" cy="360.97" r="0.82"/><circle cx="216.67" cy="361.13" r="0.75"/><circle cx="216.80" cy="361.30" r="0.67"/><circle cx="216.93" cy="361.47" r="0.59"/><circle cx="217.07" cy="361.63" r="0.51"/><circle cx="217.20" cy="361.80" r="0.43"/></g>
<g fill="#f0f010"><circle cx="208.80" cy="357.40" r="0.29"/><circle cx="209.28" cy="357.47" r="0.37"/><circle cx="209.77" cy="357.53" r="0.45"/><circle cx="210.25" cy="357.60" r="0.53"/><circle cx="210.73" cy="357.67" r="0.61"/><circle cx="211.22" cy="357.73" r="0.69"/><circle cx="211.70" cy="357.80" r="0.77"/><circle cx="212.20" cy="358.02" r="0.80"/><circle cx="212.70" cy="358.23" r="0.84"/><circle cx="213.20" cy="358.45" r="0.87"/><circle cx="213.70" cy="358.67" r="0.90"/><circle cx="214.20" cy="358.88" r="0.94"/><circle cx="214.70" cy="359.10" r="0.97"/><circle cx="214.98" cy="359.38" r="0.90"/><circle cx="215.27" cy="359.67" r="0.84"/><circle cx="215.55" cy="359.95" r="0.77"/><circle cx="215.83" cy="360.23" r="0.70"/><circle cx="216.12" cy="360.52" r="0.63"/><circle cx="216.40" cy="360.80" r="0.56"/><circle cx="216.53" cy="360.97" r="0.48"/><circle cx="216.67" cy="361.13" r="0.41"/><circle cx="216.80" cy="361.30" r="0.33"/><circle cx="216.93" cy="361.47" r="0.25"/><circle cx="217.07" cy="361.63" r="0.17"/></g>
<g fill="#f02010"><circle cx="210.25" cy="357.60" r="0.17"/><circle cx="210.73" cy="357.67" r="0.25"/><circle cx="211.22" cy="357.73" r="0.33"/><circle cx="211.70" cy="357.80" r="0.41"/><circle cx="212.20" cy="358.02" r="0.44"/><circle cx="212.70" cy="358.23" r="0.48"/><circle cx="213.20" cy="358.45" r="0.51"/><circle cx="213.70" cy="358.67" r="0.54"/><circle cx="214.20" cy="358.88" r="0.58"/><circle cx="214.70" cy="359.10" r="0.61"/><circle cx="214.98" cy="359.38" r="0.54"/><circle cx="215.27" cy="359.67" r="0.48"/><circle cx="215.55" cy="359.95" r="0.41"/><circle cx="215.83" cy="360.23" r="0.34"/><circle cx="216.12" cy="360.52" r="0.27"/><circle cx="216.40" cy="360.80" r="0.20"/></g>
</g>
<rect x="198.75" y="350.85" width="25.30" height="25.10" fill="none" stroke="#111" stroke-width="1.1" />
<rect x="225.60" y="350.30" width="26.40" height="26.20" fill="#fff" />
<rect x="227.50" y="352.20" width="22.60" height="22.40" fill="none" stroke="#dcdcdc" stroke-width="0.5"/>
<g fill="#7080e8" opacity="0.75"><circle cx="228.85" cy="370.99" r="0.45"/><circle cx="230.28" cy="368.32" r="0.45"/><circle cx="229.57" cy="370.20" r="0.45"/><circle cx="230.43" cy="363.46" r="0.45"/><circle cx="229.81" cy="354.22" r="0.45"/><circle cx="229.85" cy="361.64" r="0.45"/><circle cx="229.91" cy="365.22" r="0.45"/><circle cx="228.60" cy="354.21" r="0.45"/><circle cx="230.39" cy="355.66" r="0.45"/><circle cx="229.12" cy="359.66" r="0.45"/><circle cx="228.63" cy="366.97" r="0.45"/><circle cx="230.53" cy="358.11" r="0.45"/><circle cx="229.64" cy="358.87" r="0.45"/><circle cx="229.36" cy="360.60" r="0.45"/><circle cx="234.94" cy="373.13" r="0.45"/><circle cx="235.63" cy="374.17" r="0.45"/><circle cx="240.55" cy="373.21" r="0.45"/><circle cx="247.51" cy="374.30" r="0.45"/><circle cx="239.75" cy="373.10" r="0.45"/><circle cx="235.37" cy="373.03" r="0.45"/><circle cx="237.91" cy="373.03" r="0.45"/><circle cx="236.17" cy="373.26" r="0.45"/><circle cx="241.78" cy="374.14" r="0.45"/><circle cx="244.84" cy="373.48" r="0.45"/><circle cx="239.14" cy="373.63" r="0.45"/><circle cx="238.51" cy="373.37" r="0.45"/></g>
<path d="M231.20,353.30 V372.30 H249.90" fill="none" stroke="#22309a" stroke-width="0.95" stroke-dasharray="2.2,0.5"/>
<g fill="none" stroke="#a86262" stroke-width="0.72"><rect x="232.50" y="354.90" width="6.8" height="6.0"/><rect x="239.30" y="354.90" width="6.7" height="6.0"/><rect x="241.80" y="362.50" width="5.1" height="6.1"/></g>
<g filter="url(#blb)">
<g fill="#1840ff"><circle cx="236.30" cy="357.40" r="1.11"/><circle cx="236.77" cy="357.47" r="1.20"/><circle cx="237.23" cy="357.53" r="1.29"/><circle cx="237.70" cy="357.60" r="1.38"/><circle cx="238.17" cy="357.67" r="1.47"/><circle cx="238.63" cy="357.73" r="1.57"/><circle cx="239.10" cy="357.80" r="1.66"/><circle cx="239.43" cy="358.02" r="1.69"/><circle cx="239.77" cy="358.23" r="1.72"/><circle cx="240.10" cy="358.45" r="1.76"/><circle cx="240.43" cy="358.67" r="1.79"/><circle cx="240.77" cy="358.88" r="1.83"/><circle cx="241.10" cy="359.10" r="1.86"/><circle cx="241.35" cy="359.47" r="1.84"/><circle cx="241.60" cy="359.83" r="1.81"/><circle cx="241.85" cy="360.20" r="1.79"/><circle cx="242.10" cy="360.57" r="1.77"/><circle cx="242.35" cy="360.93" r="1.75"/><circle cx="242.60" cy="361.30" r="1.72"/><circle cx="242.73" cy="361.72" r="1.64"/><circle cx="242.87" cy="362.13" r="1.57"/><circle cx="243.00" cy="362.55" r="1.49"/><circle cx="243.13" cy="362.97" r="1.41"/><circle cx="243.27" cy="363.38" r="1.33"/><circle cx="243.40" cy="363.80" r="1.25"/><circle cx="243.43" cy="363.97" r="1.18"/><circle cx="243.47" cy="364.13" r="1.11"/><circle cx="243.50" cy="364.30" r="1.04"/><circle cx="243.53" cy="364.47" r="0.98"/><circle cx="243.57" cy="364.63" r="0.91"/><circle cx="243.60" cy="364.80" r="0.84"/></g>
<g fill="#10c8f0"><circle cx="236.30" cy="357.40" r="0.89"/><circle cx="236.77" cy="357.47" r="0.98"/><circle cx="237.23" cy="357.53" r="1.07"/><circle cx="237.70" cy="357.60" r="1.16"/><circle cx="238.17" cy="357.67" r="1.25"/><circle cx="238.63" cy="357.73" r="1.35"/><circle cx="239.10" cy="357.80" r="1.44"/><circle cx="239.43" cy="358.02" r="1.47"/><circle cx="239.77" cy="358.23" r="1.50"/><circle cx="240.10" cy="358.45" r="1.54"/><circle cx="240.43" cy="358.67" r="1.57"/><circle cx="240.77" cy="358.88" r="1.61"/><circle cx="241.10" cy="359.10" r="1.64"/><circle cx="241.35" cy="359.47" r="1.62"/><circle cx="241.60" cy="359.83" r="1.59"/><circle cx="241.85" cy="360.20" r="1.57"/><circle cx="242.10" cy="360.57" r="1.55"/><circle cx="242.35" cy="360.93" r="1.53"/><circle cx="242.60" cy="361.30" r="1.50"/><circle cx="242.73" cy="361.72" r="1.42"/><circle cx="242.87" cy="362.13" r="1.35"/><circle cx="243.00" cy="362.55" r="1.27"/><circle cx="243.13" cy="362.97" r="1.19"/><circle cx="243.27" cy="363.38" r="1.11"/><circle cx="243.40" cy="363.80" r="1.03"/><circle cx="243.43" cy="363.97" r="0.96"/><circle cx="243.47" cy="364.13" r="0.89"/><circle cx="243.50" cy="364.30" r="0.82"/><circle cx="243.53" cy="364.47" r="0.76"/><circle cx="243.57" cy="364.63" r="0.69"/><circle cx="243.60" cy="364.80" r="0.62"/></g>
<g fill="#30e030"><circle cx="236.30" cy="357.40" r="0.63"/><circle cx="236.77" cy="357.47" r="0.72"/><circle cx="237.23" cy="357.53" r="0.81"/><circle cx="237.70" cy="357.60" r="0.90"/><circle cx="238.17" cy="357.67" r="0.99"/><circle cx="238.63" cy="357.73" r="1.09"/><circle cx="239.10" cy="357.80" r="1.18"/><circle cx="239.43" cy="358.02" r="1.21"/><circle cx="239.77" cy="358.23" r="1.24"/><circle cx="240.10" cy="358.45" r="1.28"/><circle cx="240.43" cy="358.67" r="1.31"/><circle cx="240.77" cy="358.88" r="1.35"/><circle cx="241.10" cy="359.10" r="1.38"/><circle cx="241.35" cy="359.47" r="1.36"/><circle cx="241.60" cy="359.83" r="1.33"/><circle cx="241.85" cy="360.20" r="1.31"/><circle cx="242.10" cy="360.57" r="1.29"/><circle cx="242.35" cy="360.93" r="1.27"/><circle cx="242.60" cy="361.30" r="1.24"/><circle cx="242.73" cy="361.72" r="1.16"/><circle cx="242.87" cy="362.13" r="1.09"/><circle cx="243.00" cy="362.55" r="1.01"/><circle cx="243.13" cy="362.97" r="0.93"/><circle cx="243.27" cy="363.38" r="0.85"/><circle cx="243.40" cy="363.80" r="0.77"/><circle cx="243.43" cy="363.97" r="0.70"/><circle cx="243.47" cy="364.13" r="0.63"/><circle cx="243.50" cy="364.30" r="0.56"/><circle cx="243.53" cy="364.47" r="0.50"/><circle cx="243.57" cy="364.63" r="0.43"/><circle cx="243.60" cy="364.80" r="0.36"/></g>
<g fill="#f0f010"><circle cx="236.30" cy="357.40" r="0.29"/><circle cx="236.77" cy="357.47" r="0.38"/><circle cx="237.23" cy="357.53" r="0.47"/><circle cx="237.70" cy="357.60" r="0.56"/><circle cx="238.17" cy="357.67" r="0.65"/><circle cx="238.63" cy="357.73" r="0.75"/><circle cx="239.10" cy="357.80" r="0.84"/><circle cx="239.43" cy="358.02" r="0.87"/><circle cx="239.77" cy="358.23" r="0.90"/><circle cx="240.10" cy="358.45" r="0.94"/><circle cx="240.43" cy="358.67" r="0.97"/><circle cx="240.77" cy="358.88" r="1.01"/><circle cx="241.10" cy="359.10" r="1.04"/><circle cx="241.35" cy="359.47" r="1.02"/><circle cx="241.60" cy="359.83" r="0.99"/><circle cx="241.85" cy="360.20" r="0.97"/><circle cx="242.10" cy="360.57" r="0.95"/><circle cx="242.35" cy="360.93" r="0.93"/><circle cx="242.60" cy="361.30" r="0.90"/><circle cx="242.73" cy="361.72" r="0.82"/><circle cx="242.87" cy="362.13" r="0.75"/><circle cx="243.00" cy="362.55" r="0.67"/><circle cx="243.13" cy="362.97" r="0.59"/><circle cx="243.27" cy="363.38" r="0.51"/><circle cx="243.40" cy="363.80" r="0.43"/><circle cx="243.43" cy="363.97" r="0.36"/><circle cx="243.47" cy="364.13" r="0.29"/><circle cx="243.50" cy="364.30" r="0.22"/><circle cx="243.53" cy="364.47" r="0.16"/></g>
<g fill="#f02010"><circle cx="237.70" cy="357.60" r="0.20"/><circle cx="238.17" cy="357.67" r="0.29"/><circle cx="238.63" cy="357.73" r="0.39"/><circle cx="239.10" cy="357.80" r="0.48"/><circle cx="239.43" cy="358.02" r="0.51"/><circle cx="239.77" cy="358.23" r="0.54"/><circle cx="240.10" cy="358.45" r="0.58"/><circle cx="240.43" cy="358.67" r="0.61"/><circle cx="240.77" cy="358.88" r="0.65"/><circle cx="241.10" cy="359.10" r="0.68"/><circle cx="241.35" cy="359.47" r="0.66"/><circle cx="241.60" cy="359.83" r="0.63"/><circle cx="241.85" cy="360.20" r="0.61"/><circle cx="242.10" cy="360.57" r="0.59"/><circle cx="242.35" cy="360.93" r="0.57"/><circle cx="242.60" cy="361.30" r="0.54"/><circle cx="242.73" cy="361.72" r="0.46"/><circle cx="242.87" cy="362.13" r="0.39"/><circle cx="243.00" cy="362.55" r="0.31"/><circle cx="243.13" cy="362.97" r="0.23"/></g>
</g>
<rect x="226.15" y="350.85" width="25.30" height="25.10" fill="none" stroke="#111" stroke-width="1.1" />
<rect x="252.80" y="350.30" width="26.40" height="26.20" fill="#fff" />
<rect x="254.70" y="352.20" width="22.60" height="22.40" fill="none" stroke="#dcdcdc" stroke-width="0.5"/>
<g fill="#7080e8" opacity="0.75"><circle cx="255.17" cy="358.43" r="0.45"/><circle cx="257.71" cy="355.63" r="0.45"/><circle cx="256.41" cy="364.95" r="0.45"/><circle cx="257.42" cy="357.30" r="0.45"/><circle cx="255.76" cy="357.90" r="0.45"/><circle cx="256.12" cy="361.55" r="0.45"/><circle cx="257.67" cy="369.00" r="0.45"/><circle cx="257.44" cy="353.70" r="0.45"/><circle cx="255.09" cy="366.43" r="0.45"/><circle cx="257.51" cy="362.06" r="0.45"/><circle cx="256.64" cy="353.30" r="0.45"/><circle cx="256.10" cy="370.45" r="0.45"/><circle cx="257.31" cy="369.13" r="0.45"/><circle cx="257.72" cy="357.90" r="0.45"/><circle cx="261.15" cy="373.12" r="0.45"/><circle cx="268.18" cy="373.85" r="0.45"/><circle cx="275.31" cy="373.91" r="0.45"/><circle cx="270.30" cy="373.97" r="0.45"/><circle cx="267.07" cy="373.67" r="0.45"/><circle cx="259.97" cy="374.00" r="0.45"/><circle cx="263.25" cy="374.19" r="0.45"/><circle cx="270.27" cy="373.33" r="0.45"/><circle cx="261.48" cy="373.25" r="0.45"/><circle cx="270.12" cy="373.88" r="0.45"/><circle cx="261.21" cy="373.00" r="0.45"/><circle cx="268.22" cy="373.72" r="0.45"/></g>
<path d="M258.40,353.30 V372.30 H277.10" fill="none" stroke="#22309a" stroke-width="0.95" stroke-dasharray="2.2,0.5"/>
<g fill="none" stroke="#a86262" stroke-width="0.72"><rect x="259.70" y="354.90" width="6.8" height="6.0"/><rect x="266.50" y="354.90" width="6.7" height="6.0"/><rect x="269.00" y="362.50" width="5.1" height="6.1"/></g>
<g filter="url(#blb)">
<g fill="#1840ff"><circle cx="267.10" cy="358.80" r="1.11"/><circle cx="267.47" cy="359.02" r="1.21"/><circle cx="267.83" cy="359.23" r="1.32"/><circle cx="268.20" cy="359.45" r="1.42"/><circle cx="268.57" cy="359.67" r="1.52"/><circle cx="268.93" cy="359.88" r="1.62"/><circle cx="269.30" cy="360.10" r="1.72"/><circle cx="269.52" cy="360.47" r="1.74"/><circle cx="269.73" cy="360.83" r="1.75"/><circle cx="269.95" cy="361.20" r="1.76"/><circle cx="270.17" cy="361.57" r="1.77"/><circle cx="270.38" cy="361.93" r="1.78"/><circle cx="270.60" cy="362.30" r="1.79"/><circle cx="270.68" cy="362.80" r="1.75"/><circle cx="270.77" cy="363.30" r="1.70"/><circle cx="270.85" cy="363.80" r="1.66"/><circle cx="270.93" cy="364.30" r="1.61"/><circle cx="271.02" cy="364.80" r="1.57"/><circle cx="271.10" cy="365.30" r="1.52"/><circle cx="271.13" cy="365.72" r="1.44"/><circle cx="271.17" cy="366.13" r="1.36"/><circle cx="271.20" cy="366.55" r="1.28"/><circle cx="271.23" cy="366.97" r="1.20"/><circle cx="271.27" cy="367.38" r="1.12"/><circle cx="271.30" cy="367.80" r="1.04"/></g>
<g fill="#10c8f0"><circle cx="267.10" cy="358.80" r="0.89"/><circle cx="267.47" cy="359.02" r="0.99"/><circle cx="267.83" cy="359.23" r="1.10"/><circle cx="268.20" cy="359.45" r="1.20"/><circle cx="268.57" cy="359.67" r="1.30"/><circle cx="268.93" cy="359.88" r="1.40"/><circle cx="269.30" cy="360.10" r="1.50"/><circle cx="269.52" cy="360.47" r="1.52"/><circle cx="269.73" cy="360.83" r="1.53"/><circle cx="269.95" cy="361.20" r="1.54"/><circle cx="270.17" cy="361.57" r="1.55"/><circle cx="270.38" cy="361.93" r="1.56"/><circle cx="270.60" cy="362.30" r="1.57"/><circle cx="270.68" cy="362.80" r="1.53"/><circle cx="270.77" cy="363.30" r="1.48"/><circle cx="270.85" cy="363.80" r="1.44"/><circle cx="270.93" cy="364.30" r="1.39"/><circle cx="271.02" cy="364.80" r="1.35"/><circle cx="271.10" cy="365.30" r="1.30"/><circle cx="271.13" cy="365.72" r="1.22"/><circle cx="271.17" cy="366.13" r="1.14"/><circle cx="271.20" cy="366.55" r="1.06"/><circle cx="271.23" cy="366.97" r="0.98"/><circle cx="271.27" cy="367.38" r="0.90"/><circle cx="271.30" cy="367.80" r="0.82"/></g>
<g fill="#30e030"><circle cx="267.10" cy="358.80" r="0.63"/><circle cx="267.47" cy="359.02" r="0.73"/><circle cx="267.83" cy="359.23" r="0.84"/><circle cx="268.20" cy="359.45" r="0.94"/><circle cx="268.57" cy="359.67" r="1.04"/><circle cx="268.93" cy="359.88" r="1.14"/><circle cx="269.30" cy="360.10" r="1.24"/><circle cx="269.52" cy="360.47" r="1.26"/><circle cx="269.73" cy="360.83" r="1.27"/><circle cx="269.95" cy="361.20" r="1.28"/><circle cx="270.17" cy="361.57" r="1.29"/><circle cx="270.38" cy="361.93" r="1.30"/><circle cx="270.60" cy="362.30" r="1.31"/><circle cx="270.68" cy="362.80" r="1.27"/><circle cx="270.77" cy="363.30" r="1.22"/><circle cx="270.85" cy="363.80" r="1.18"/><circle cx="270.93" cy="364.30" r="1.13"/><circle cx="271.02" cy="364.80" r="1.09"/><circle cx="271.10" cy="365.30" r="1.04"/><circle cx="271.13" cy="365.72" r="0.96"/><circle cx="271.17" cy="366.13" r="0.88"/><circle cx="271.20" cy="366.55" r="0.80"/><circle cx="271.23" cy="366.97" r="0.72"/><circle cx="271.27" cy="367.38" r="0.64"/><circle cx="271.30" cy="367.80" r="0.56"/></g>
<g fill="#f0f010"><circle cx="267.10" cy="358.80" r="0.29"/><circle cx="267.47" cy="359.02" r="0.39"/><circle cx="267.83" cy="359.23" r="0.50"/><circle cx="268.20" cy="359.45" r="0.60"/><circle cx="268.57" cy="359.67" r="0.70"/><circle cx="268.93" cy="359.88" r="0.80"/><circle cx="269.30" cy="360.10" r="0.90"/><circle cx="269.52" cy="360.47" r="0.92"/><circle cx="269.73" cy="360.83" r="0.93"/><circle cx="269.95" cy="361.20" r="0.94"/><circle cx="270.17" cy="361.57" r="0.95"/><circle cx="270.38" cy="361.93" r="0.96"/><circle cx="270.60" cy="362.30" r="0.97"/><circle cx="270.68" cy="362.80" r="0.93"/><circle cx="270.77" cy="363.30" r="0.88"/><circle cx="270.85" cy="363.80" r="0.84"/><circle cx="270.93" cy="364.30" r="0.79"/><circle cx="271.02" cy="364.80" r="0.75"/><circle cx="271.10" cy="365.30" r="0.70"/><circle cx="271.13" cy="365.72" r="0.62"/><circle cx="271.17" cy="366.13" r="0.54"/><circle cx="271.20" cy="366.55" r="0.46"/><circle cx="271.23" cy="366.97" r="0.38"/><circle cx="271.27" cy="367.38" r="0.30"/><circle cx="271.30" cy="367.80" r="0.22"/></g>
<g fill="#f02010"><circle cx="268.20" cy="359.45" r="0.24"/><circle cx="268.57" cy="359.67" r="0.34"/><circle cx="268.93" cy="359.88" r="0.44"/><circle cx="269.30" cy="360.10" r="0.54"/><circle cx="269.52" cy="360.47" r="0.56"/><circle cx="269.73" cy="360.83" r="0.57"/><circle cx="269.95" cy="361.20" r="0.58"/><circle cx="270.17" cy="361.57" r="0.59"/><circle cx="270.38" cy="361.93" r="0.60"/><circle cx="270.60" cy="362.30" r="0.61"/><circle cx="270.68" cy="362.80" r="0.57"/><circle cx="270.77" cy="363.30" r="0.52"/><circle cx="270.85" cy="363.80" r="0.48"/><circle cx="270.93" cy="364.30" r="0.43"/><circle cx="271.02" cy="364.80" r="0.39"/><circle cx="271.10" cy="365.30" r="0.34"/><circle cx="271.13" cy="365.72" r="0.26"/><circle cx="271.17" cy="366.13" r="0.18"/></g>
</g>
<rect x="253.35" y="350.85" width="25.30" height="25.10" fill="none" stroke="#111" stroke-width="1.1" />
<rect x="280.00" y="350.30" width="26.40" height="26.20" fill="#fff" />
<rect x="281.90" y="352.20" width="22.60" height="22.40" fill="none" stroke="#dcdcdc" stroke-width="0.5"/>
<g fill="#7080e8" opacity="0.75"><circle cx="283.29" cy="357.44" r="0.45"/><circle cx="283.88" cy="353.49" r="0.45"/><circle cx="283.04" cy="361.82" r="0.45"/><circle cx="284.89" cy="365.22" r="0.45"/><circle cx="284.67" cy="362.09" r="0.45"/><circle cx="282.86" cy="357.87" r="0.45"/><circle cx="284.89" cy="366.34" r="0.45"/><circle cx="283.06" cy="353.70" r="0.45"/><circle cx="283.60" cy="365.78" r="0.45"/><circle cx="283.38" cy="358.06" r="0.45"/><circle cx="284.07" cy="370.42" r="0.45"/><circle cx="282.84" cy="353.93" r="0.45"/><circle cx="283.15" cy="361.08" r="0.45"/><circle cx="284.11" cy="356.96" r="0.45"/><circle cx="300.05" cy="373.93" r="0.45"/><circle cx="295.08" cy="373.19" r="0.45"/><circle cx="302.99" cy="373.34" r="0.45"/><circle cx="300.44" cy="373.22" r="0.45"/><circle cx="290.26" cy="373.96" r="0.45"/><circle cx="291.51" cy="374.23" r="0.45"/><circle cx="294.93" cy="373.16" r="0.45"/><circle cx="290.30" cy="373.48" r="0.45"/><circle cx="297.81" cy="374.23" r="0.45"/><circle cx="288.99" cy="373.45" r="0.45"/><circle cx="290.12" cy="374.26" r="0.45"/><circle cx="288.91" cy="372.97" r="0.45"/></g>
<path d="M285.60,353.30 V372.30 H304.30" fill="none" stroke="#22309a" stroke-width="0.95" stroke-dasharray="2.2,0.5"/>
<g fill="none" stroke="#a86262" stroke-width="0.72"><rect x="286.90" y="354.90" width="6.8" height="6.0"/><rect x="293.70" y="354.90" width="6.7" height="6.0"/><rect x="296.20" y="362.50" width="5.1" height="6.1"/></g>
<g filter="url(#blb)">
<g fill="#1840ff"><circle cx="296.80" cy="358.80" r="1.32"/><circle cx="296.92" cy="359.13" r="1.41"/><circle cx="297.03" cy="359.47" r="1.50"/><circle cx="297.15" cy="359.80" r="1.59"/><circle cx="297.27" cy="360.13" r="1.68"/><circle cx="297.38" cy="360.47" r="1.77"/><circle cx="297.50" cy="360.80" r="1.86"/><circle cx="297.58" cy="361.22" r="1.86"/><circle cx="297.67" cy="361.63" r="1.86"/><circle cx="297.75" cy="362.05" r="1.86"/><circle cx="297.83" cy="362.47" r="1.86"/><circle cx="297.92" cy="362.88" r="1.86"/><circle cx="298.00" cy="363.30" r="1.86"/><circle cx="298.05" cy="363.72" r="1.81"/><circle cx="298.10" cy="364.13" r="1.77"/><circle cx="298.15" cy="364.55" r="1.72"/><circle cx="298.20" cy="364.97" r="1.68"/><circle cx="298.25" cy="365.38" r="1.63"/><circle cx="298.30" cy="365.80" r="1.59"/><circle cx="298.33" cy="366.22" r="1.50"/><circle cx="298.37" cy="366.63" r="1.41"/><circle cx="298.40" cy="367.05" r="1.32"/><circle cx="298.43" cy="367.47" r="1.23"/><circle cx="298.47" cy="367.88" r="1.13"/><circle cx="298.50" cy="368.30" r="1.04"/></g>
<g fill="#10c8f0"><circle cx="296.80" cy="358.80" r="1.10"/><circle cx="296.92" cy="359.13" r="1.19"/><circle cx="297.03" cy="359.47" r="1.28"/><circle cx="297.15" cy="359.80" r="1.37"/><circle cx="297.27" cy="360.13" r="1.46"/><circle cx="297.38" cy="360.47" r="1.55"/><circle cx="297.50" cy="360.80" r="1.64"/><circle cx="297.58" cy="361.22" r="1.64"/><circle cx="297.67" cy="361.63" r="1.64"/><circle cx="297.75" cy="362.05" r="1.64"/><circle cx="297.83" cy="362.47" r="1.64"/><circle cx="297.92" cy="362.88" r="1.64"/><circle cx="298.00" cy="363.30" r="1.64"/><circle cx="298.05" cy="363.72" r="1.59"/><circle cx="298.10" cy="364.13" r="1.55"/><circle cx="298.15" cy="364.55" r="1.50"/><circle cx="298.20" cy="364.97" r="1.46"/><circle cx="298.25" cy="365.38" r="1.41"/><circle cx="298.30" cy="365.80" r="1.37"/><circle cx="298.33" cy="366.22" r="1.28"/><circle cx="298.37" cy="366.63" r="1.19"/><circle cx="298.40" cy="367.05" r="1.10"/><circle cx="298.43" cy="367.47" r="1.01"/><circle cx="298.47" cy="367.88" r="0.91"/><circle cx="298.50" cy="368.30" r="0.82"/></g>
<g fill="#30e030"><circle cx="296.80" cy="358.80" r="0.84"/><circle cx="296.92" cy="359.13" r="0.93"/><circle cx="297.03" cy="359.47" r="1.02"/><circle cx="297.15" cy="359.80" r="1.11"/><circle cx="297.27" cy="360.13" r="1.20"/><circle cx="297.38" cy="360.47" r="1.29"/><circle cx="297.50" cy="360.80" r="1.38"/><circle cx="297.58" cy="361.22" r="1.38"/><circle cx="297.67" cy="361.63" r="1.38"/><circle cx="297.75" cy="362.05" r="1.38"/><circle cx="297.83" cy="362.47" r="1.38"/><circle cx="297.92" cy="362.88" r="1.38"/><circle cx="298.00" cy="363.30" r="1.38"/><circle cx="298.05" cy="363.72" r="1.33"/><circle cx="298.10" cy="364.13" r="1.29"/><circle cx="298.15" cy="364.55" r="1.24"/><circle cx="298.20" cy="364.97" r="1.20"/><circle cx="298.25" cy="365.38" r="1.15"/><circle cx="298.30" cy="365.80" r="1.11"/><circle cx="298.33" cy="366.22" r="1.02"/><circle cx="298.37" cy="366.63" r="0.93"/><circle cx="298.40" cy="367.05" r="0.84"/><circle cx="298.43" cy="367.47" r="0.75"/><circle cx="298.47" cy="367.88" r="0.65"/><circle cx="298.50" cy="368.30" r="0.56"/></g>
<g fill="#f0f010"><circle cx="296.80" cy="358.80" r="0.50"/><circle cx="296.92" cy="359.13" r="0.59"/><circle cx="297.03" cy="359.47" r="0.68"/><circle cx="297.15" cy="359.80" r="0.77"/><circle cx="297.27" cy="360.13" r="0.86"/><circle cx="297.38" cy="360.47" r="0.95"/><circle cx="297.50" cy="360.80" r="1.04"/><circle cx="297.58" cy="361.22" r="1.04"/><circle cx="297.67" cy="361.63" r="1.04"/><circle cx="297.75" cy="362.05" r="1.04"/><circle cx="297.83" cy="362.47" r="1.04"/><circle cx="297.92" cy="362.88" r="1.04"/><circle cx="298.00" cy="363.30" r="1.04"/><circle cx="298.05" cy="363.72" r="0.99"/><circle cx="298.10" cy="364.13" r="0.95"/><circle cx="298.15" cy="364.55" r="0.90"/><circle cx="298.20" cy="364.97" r="0.86"/><circle cx="298.25" cy="365.38" r="0.81"/><circle cx="298.30" cy="365.80" r="0.77"/><circle cx="298.33" cy="366.22" r="0.68"/><circle cx="298.37" cy="366.63" r="0.59"/><circle cx="298.40" cy="367.05" r="0.50"/><circle cx="298.43" cy="367.47" r="0.41"/><circle cx="298.47" cy="367.88" r="0.31"/><circle cx="298.50" cy="368.30" r="0.22"/></g>
<g fill="#f02010"><circle cx="296.92" cy="359.13" r="0.23"/><circle cx="297.03" cy="359.47" r="0.32"/><circle cx="297.15" cy="359.80" r="0.41"/><circle cx="297.27" cy="360.13" r="0.50"/><circle cx="297.38" cy="360.47" r="0.59"/><circle cx="297.50" cy="360.80" r="0.68"/><circle cx="297.58" cy="361.22" r="0.68"/><circle cx="297.67" cy="361.63" r="0.68"/><circle cx="297.75" cy="362.05" r="0.68"/><circle cx="297.83" cy="362.47" r="0.68"/><circle cx="297.92" cy="362.88" r="0.68"/><circle cx="298.00" cy="363.30" r="0.68"/><circle cx="298.05" cy="363.72" r="0.63"/><circle cx="298.10" cy="364.13" r="0.59"/><circle cx="298.15" cy="364.55" r="0.54"/><circle cx="298.20" cy="364.97" r="0.50"/><circle cx="298.25" cy="365.38" r="0.45"/><circle cx="298.30" cy="365.80" r="0.41"/><circle cx="298.33" cy="366.22" r="0.32"/><circle cx="298.37" cy="366.63" r="0.23"/></g>
</g>
<rect x="280.55" y="350.85" width="25.30" height="25.10" fill="none" stroke="#111" stroke-width="1.1" />
<rect x="307.20" y="350.30" width="26.40" height="26.20" fill="#fff" />
<rect x="309.10" y="352.20" width="22.60" height="22.40" fill="none" stroke="#dcdcdc" stroke-width="0.5"/>
<g fill="#7080e8" opacity="0.75"><circle cx="309.57" cy="360.58" r="0.45"/><circle cx="311.91" cy="369.65" r="0.45"/><circle cx="311.45" cy="371.75" r="0.45"/><circle cx="312.01" cy="359.39" r="0.45"/><circle cx="309.92" cy="370.61" r="0.45"/><circle cx="311.49" cy="353.89" r="0.45"/><circle cx="311.26" cy="360.30" r="0.45"/><circle cx="310.45" cy="359.44" r="0.45"/><circle cx="309.87" cy="353.35" r="0.45"/><circle cx="310.18" cy="359.80" r="0.45"/><circle cx="312.08" cy="355.59" r="0.45"/><circle cx="312.10" cy="357.14" r="0.45"/><circle cx="310.40" cy="368.50" r="0.45"/><circle cx="311.70" cy="361.30" r="0.45"/><circle cx="314.54" cy="373.56" r="0.45"/><circle cx="320.04" cy="374.19" r="0.45"/><circle cx="316.98" cy="373.41" r="0.45"/><circle cx="328.95" cy="372.94" r="0.45"/><circle cx="320.68" cy="374.04" r="0.45"/><circle cx="326.73" cy="372.96" r="0.45"/><circle cx="314.29" cy="372.99" r="0.45"/><circle cx="329.34" cy="373.26" r="0.45"/><circle cx="326.40" cy="374.16" r="0.45"/><circle cx="319.46" cy="373.28" r="0.45"/><circle cx="329.98" cy="373.76" r="0.45"/><circle cx="318.16" cy="373.90" r="0.45"/></g>
<path d="M312.80,353.30 V372.30 H331.50" fill="none" stroke="#22309a" stroke-width="0.95" stroke-dasharray="2.2,0.5"/>
<g fill="none" stroke="#a86262" stroke-width="0.72"><rect x="314.10" y="354.90" width="6.8" height="6.0"/><rect x="320.90" y="354.90" width="6.7" height="6.0"/><rect x="323.40" y="362.50" width="5.1" height="6.1"/></g>
<g filter="url(#blb)">
<g fill="#1840ff"><circle cx="323.50" cy="360.80" r="1.25"/><circle cx="323.57" cy="361.13" r="1.34"/><circle cx="323.63" cy="361.47" r="1.43"/><circle cx="323.70" cy="361.80" r="1.52"/><circle cx="323.77" cy="362.13" r="1.61"/><circle cx="323.83" cy="362.47" r="1.70"/><circle cx="323.90" cy="362.80" r="1.79"/><circle cx="323.95" cy="363.22" r="1.80"/><circle cx="324.00" cy="363.63" r="1.81"/><circle cx="324.05" cy="364.05" r="1.83"/><circle cx="324.10" cy="364.47" r="1.84"/><circle cx="324.15" cy="364.88" r="1.85"/><circle cx="324.20" cy="365.30" r="1.86"/><circle cx="324.22" cy="365.63" r="1.81"/><circle cx="324.23" cy="365.97" r="1.77"/><circle cx="324.25" cy="366.30" r="1.72"/><circle cx="324.27" cy="366.63" r="1.68"/><circle cx="324.28" cy="366.97" r="1.63"/><circle cx="324.30" cy="367.30" r="1.59"/><circle cx="324.32" cy="367.63" r="1.51"/><circle cx="324.33" cy="367.97" r="1.43"/><circle cx="324.35" cy="368.30" r="1.35"/><circle cx="324.37" cy="368.63" r="1.27"/><circle cx="324.38" cy="368.97" r="1.19"/><circle cx="324.40" cy="369.30" r="1.11"/></g>
<g fill="#10c8f0"><circle cx="323.50" cy="360.80" r="1.03"/><circle cx="323.57" cy="361.13" r="1.12"/><circle cx="323.63" cy="361.47" r="1.21"/><circle cx="323.70" cy="361.80" r="1.30"/><circle cx="323.77" cy="362.13" r="1.39"/><circle cx="323.83" cy="362.47" r="1.48"/><circle cx="323.90" cy="362.80" r="1.57"/><circle cx="323.95" cy="363.22" r="1.58"/><circle cx="324.00" cy="363.63" r="1.59"/><circle cx="324.05" cy="364.05" r="1.61"/><circle cx="324.10" cy="364.47" r="1.62"/><circle cx="324.15" cy="364.88" r="1.63"/><circle cx="324.20" cy="365.30" r="1.64"/><circle cx="324.22" cy="365.63" r="1.59"/><circle cx="324.23" cy="365.97" r="1.55"/><circle cx="324.25" cy="366.30" r="1.50"/><circle cx="324.27" cy="366.63" r="1.46"/><circle cx="324.28" cy="366.97" r="1.41"/><circle cx="324.30" cy="367.30" r="1.37"/><circle cx="324.32" cy="367.63" r="1.29"/><circle cx="324.33" cy="367.97" r="1.21"/><circle cx="324.35" cy="368.30" r="1.13"/><circle cx="324.37" cy="368.63" r="1.05"/><circle cx="324.38" cy="368.97" r="0.97"/><circle cx="324.40" cy="369.30" r="0.89"/></g>
<g fill="#30e030"><circle cx="323.50" cy="360.80" r="0.77"/><circle cx="323.57" cy="361.13" r="0.86"/><circle cx="323.63" cy="361.47" r="0.95"/><circle cx="323.70" cy="361.80" r="1.04"/><circle cx="323.77" cy="362.13" r="1.13"/><circle cx="323.83" cy="362.47" r="1.22"/><circle cx="323.90" cy="362.80" r="1.31"/><circle cx="323.95" cy="363.22" r="1.32"/><circle cx="324.00" cy="363.63" r="1.33"/><circle cx="324.05" cy="364.05" r="1.35"/><circle cx="324.10" cy="364.47" r="1.36"/><circle cx="324.15" cy="364.88" r="1.37"/><circle cx="324.20" cy="365.30" r="1.38"/><circle cx="324.22" cy="365.63" r="1.33"/><circle cx="324.23" cy="365.97" r="1.29"/><circle cx="324.25" cy="366.30" r="1.24"/><circle cx="324.27" cy="366.63" r="1.20"/><circle cx="324.28" cy="366.97" r="1.15"/><circle cx="324.30" cy="367.30" r="1.11"/><circle cx="324.32" cy="367.63" r="1.03"/><circle cx="324.33" cy="367.97" r="0.95"/><circle cx="324.35" cy="368.30" r="0.87"/><circle cx="324.37" cy="368.63" r="0.79"/><circle cx="324.38" cy="368.97" r="0.71"/><circle cx="324.40" cy="369.30" r="0.63"/></g>
<g fill="#f0f010"><circle cx="323.50" cy="360.80" r="0.43"/><circle cx="323.57" cy="361.13" r="0.52"/><circle cx="323.63" cy="361.47" r="0.61"/><circle cx="323.70" cy="361.80" r="0.70"/><circle cx="323.77" cy="362.13" r="0.79"/><circle cx="323.83" cy="362.47" r="0.88"/><circle cx="323.90" cy="362.80" r="0.97"/><circle cx="323.95" cy="363.22" r="0.98"/><circle cx="324.00" cy="363.63" r="0.99"/><circle cx="324.05" cy="364.05" r="1.01"/><circle cx="324.10" cy="364.47" r="1.02"/><circle cx="324.15" cy="364.88" r="1.03"/><circle cx="324.20" cy="365.30" r="1.04"/><circle cx="324.22" cy="365.63" r="0.99"/><circle cx="324.23" cy="365.97" r="0.95"/><circle cx="324.25" cy="366.30" r="0.90"/><circle cx="324.27" cy="366.63" r="0.86"/><circle cx="324.28" cy="366.97" r="0.81"/><circle cx="324.30" cy="367.30" r="0.77"/><circle cx="324.32" cy="367.63" r="0.69"/><circle cx="324.33" cy="367.97" r="0.61"/><circle cx="324.35" cy="368.30" r="0.53"/><circle cx="324.37" cy="368.63" r="0.45"/><circle cx="324.38" cy="368.97" r="0.37"/><circle cx="324.40" cy="369.30" r="0.29"/></g>
<g fill="#f02010"><circle cx="323.57" cy="361.13" r="0.16"/><circle cx="323.63" cy="361.47" r="0.25"/><circle cx="323.70" cy="361.80" r="0.34"/><circle cx="323.77" cy="362.13" r="0.43"/><circle cx="323.83" cy="362.47" r="0.52"/><circle cx="323.90" cy="362.80" r="0.61"/><circle cx="323.95" cy="363.22" r="0.62"/><circle cx="324.00" cy="363.63" r="0.63"/><circle cx="324.05" cy="364.05" r="0.65"/><circle cx="324.10" cy="364.47" r="0.66"/><circle cx="324.15" cy="364.88" r="0.67"/><circle cx="324.20" cy="365.30" r="0.68"/><circle cx="324.22" cy="365.63" r="0.63"/><circle cx="324.23" cy="365.97" r="0.59"/><circle cx="324.25" cy="366.30" r="0.54"/><circle cx="324.27" cy="366.63" r="0.50"/><circle cx="324.28" cy="366.97" r="0.45"/><circle cx="324.30" cy="367.30" r="0.41"/><circle cx="324.32" cy="367.63" r="0.33"/><circle cx="324.33" cy="367.97" r="0.25"/><circle cx="324.35" cy="368.30" r="0.17"/></g>
</g>
<rect x="307.75" y="350.85" width="25.30" height="25.10" fill="none" stroke="#111" stroke-width="1.1" />
<line x1="196.40" y1="293.00" x2="196.40" y2="381.10" stroke="#000" stroke-width="1.4" />
<line x1="195.70" y1="380.40" x2="331.40" y2="380.40" stroke="#000" stroke-width="1.4" />
<text transform="translate(214.40,290.88) scale(0.8650,1)" font-size="10.40" text-anchor="middle" fill="#111" stroke="#111" stroke-width="0.139" >D9</text>
<text transform="translate(238.90,290.88) scale(0.8596,1)" font-size="10.40" text-anchor="middle" fill="#111" stroke="#111" stroke-width="0.140" >D11</text>
<text transform="translate(266.70,290.88) scale(0.9225,1)" font-size="10.40" text-anchor="middle" fill="#111" stroke="#111" stroke-width="0.130" >D13</text>
<text transform="translate(293.20,290.88) scale(0.9120,1)" font-size="10.40" text-anchor="middle" fill="#111" stroke="#111" stroke-width="0.132" >D15</text>
<text transform="translate(319.50,290.88) scale(0.8596,1)" font-size="10.40" text-anchor="middle" fill="#111" stroke="#111" stroke-width="0.140" >D17</text>
<text transform="translate(150.80,318.00) scale(0.7131,1)" font-size="9.80" fill="#222" >shLuci</text>
<text transform="translate(150.80,340.10) scale(0.6886,1)" font-size="9.80" fill="#222" >shHDAC5-1</text>
<text transform="translate(150.80,365.90) scale(0.7058,1)" font-size="9.80" fill="#222" >shHDAC5-2</text>
<text transform="translate(194.90,352.30) rotate(-90) scale(0.8082,1)" font-size="9.80" fill="#222" >α4-integrin</text>
<text transform="translate(260.30,390.90) scale(0.7038,1)" font-size="10.40" text-anchor="middle" fill="#222" stroke="#222" stroke-width="0.142" >Band 3</text>
<rect x="16.20" y="409.10" width="2.30" height="9.00" fill="#000" />
<rect x="34.20" y="427.60" width="10.10" height="3.90" fill="#C80014" />
<text transform="translate(44.50,432.30) scale(1.0085,1)" font-size="7.20" fill="#222" stroke="#222" stroke-width="0.099" >Pro</text>
<rect x="58.80" y="427.60" width="10.00" height="3.90" fill="#0A2FA8" />
<text transform="translate(69.00,432.30) scale(0.9993,1)" font-size="7.20" fill="#222" stroke="#222" stroke-width="0.100" >Baso</text>
<rect x="87.70" y="427.60" width="10.40" height="3.90" fill="#3CFF00" />
<text transform="translate(98.50,432.30) scale(0.9567,1)" font-size="7.20" fill="#222" stroke="#222" stroke-width="0.105" >Poly</text>
<rect x="115.40" y="427.60" width="10.40" height="3.90" fill="#1F0099" />
<text transform="translate(126.00,432.30) scale(1.0774,1)" font-size="7.20" fill="#222" stroke="#222" stroke-width="0.093" >Ortho</text>
<line x1="63.30" y1="447.60" x2="63.30" y2="514.00" stroke="#000" stroke-width="1.5" />
<line x1="62.60" y1="507.30" x2="114.30" y2="507.30" stroke="#000" stroke-width="1.5" />
<line x1="61.40" y1="456.40" x2="63.30" y2="456.40" stroke="#000" stroke-width="1.0" />
<text transform="translate(61.30,459.84) scale(0.9700,1)" font-size="10.00" text-anchor="end" fill="#111" stroke="#111" stroke-width="0.206" >100</text>
<line x1="61.40" y1="482.20" x2="63.30" y2="482.20" stroke="#000" stroke-width="1.0" />
<text transform="translate(61.30,485.64) scale(0.9700,1)" font-size="10.00" text-anchor="end" fill="#111" stroke="#111" stroke-width="0.206" >50</text>
<line x1="61.40" y1="507.00" x2="63.30" y2="507.00" stroke="#000" stroke-width="1.0" />
<text transform="translate(61.30,510.44) scale(0.9700,1)" font-size="10.00" text-anchor="end" fill="#111" stroke="#111" stroke-width="0.206" >0</text>
<rect x="67.20" y="455.10" width="11.90" height="1.11" fill="#1F0099" />
<rect x="67.20" y="456.20" width="11.90" height="8.61" fill="#3CFF00" />
<rect x="67.20" y="464.80" width="11.90" height="39.11" fill="#0A2FA8" />
<rect x="67.20" y="503.90" width="11.90" height="2.71" fill="#C80014" />
<line x1="73.15" y1="507.30" x2="73.15" y2="509.10" stroke="#000" stroke-width="1.0" />
<rect x="82.40" y="455.60" width="11.90" height="0.41" fill="#1F0099" />
<rect x="82.40" y="456.00" width="11.90" height="1.01" fill="#3CFF00" />
<rect x="82.40" y="457.00" width="11.90" height="40.31" fill="#0A2FA8" />
<rect x="82.40" y="497.30" width="11.90" height="9.31" fill="#C80014" />
<line x1="88.35" y1="507.30" x2="88.35" y2="509.10" stroke="#000" stroke-width="1.0" />
<rect x="97.60" y="455.60" width="11.90" height="0.41" fill="#1F0099" />
<rect x="97.60" y="456.00" width="11.90" height="1.01" fill="#3CFF00" />
<rect x="97.60" y="457.00" width="11.90" height="42.91" fill="#0A2FA8" />
<rect x="97.60" y="499.90" width="11.90" height="6.71" fill="#C80014" />
<line x1="103.55" y1="507.30" x2="103.55" y2="509.10" stroke="#000" stroke-width="1.0" />
<text transform="translate(74.11,511.00) rotate(-90) scale(0.8583,1)" font-size="10.60" text-anchor="end" fill="#111" stroke="#111" stroke-width="0.350" >shLuci</text>
<text transform="translate(90.61,511.00) rotate(-90) scale(0.8629,1)" font-size="10.60" text-anchor="end" fill="#111" stroke="#111" stroke-width="0.348" >shHDAC5-1</text>
<text transform="translate(105.91,511.00) rotate(-90) scale(0.8629,1)" font-size="10.60" text-anchor="end" fill="#111" stroke="#111" stroke-width="0.348" >shHDAC5-2</text>
<text transform="translate(29.85,508.60) rotate(-90) scale(0.8067,1)" font-size="9.00" fill="#1e1e1e" >Percentage in</text>
<text transform="translate(42.25,508.60) rotate(-90) scale(0.8317,1)" font-size="9.00" fill="#1e1e1e" >total erythroblasts (%)</text>
<text transform="translate(88.20,572.50) scale(0.6264,1)" font-size="11.00" text-anchor="middle" fill="#1e1e1e" stroke="#1e1e1e" stroke-width="0.399" >Day 9</text>
<line x1="162.50" y1="447.60" x2="162.50" y2="514.00" stroke="#000" stroke-width="1.5" />
<line x1="161.80" y1="507.30" x2="213.50" y2="507.30" stroke="#000" stroke-width="1.5" />
<line x1="160.60" y1="456.40" x2="162.50" y2="456.40" stroke="#000" stroke-width="1.0" />
<text transform="translate(160.50,459.84) scale(0.9700,1)" font-size="10.00" text-anchor="end" fill="#111" stroke="#111" stroke-width="0.206" >100</text>
<line x1="160.60" y1="482.20" x2="162.50" y2="482.20" stroke="#000" stroke-width="1.0" />
<text transform="translate(160.50,485.64) scale(0.9700,1)" font-size="10.00" text-anchor="end" fill="#111" stroke="#111" stroke-width="0.206" >50</text>
<line x1="160.60" y1="507.00" x2="162.50" y2="507.00" stroke="#000" stroke-width="1.0" />
<text transform="translate(160.50,510.44) scale(0.9700,1)" font-size="10.00" text-anchor="end" fill="#111" stroke="#111" stroke-width="0.206" >0</text>
<rect x="166.40" y="455.60" width="11.90" height="2.11" fill="#1F0099" />
<rect x="166.40" y="457.70" width="11.90" height="12.41" fill="#3CFF00" />
<rect x="166.40" y="470.10" width="11.90" height="35.11" fill="#0A2FA8" />
<rect x="166.40" y="505.20" width="11.90" height="1.41" fill="#C80014" />
<line x1="172.35" y1="507.30" x2="172.35" y2="509.10" stroke="#000" stroke-width="1.0" />
<rect x="181.60" y="455.60" width="11.90" height="0.01" fill="#1F0099" />
<rect x="181.60" y="455.60" width="11.90" height="4.21" fill="#3CFF00" />
<rect x="181.60" y="459.80" width="11.90" height="40.11" fill="#0A2FA8" />
<rect x="181.60" y="499.90" width="11.90" height="6.71" fill="#C80014" />
<line x1="187.55" y1="507.30" x2="187.55" y2="509.10" stroke="#000" stroke-width="1.0" />
<rect x="196.80" y="455.60" width="11.90" height="0.01" fill="#1F0099" />
<rect x="196.80" y="455.60" width="11.90" height="6.11" fill="#3CFF00" />
<rect x="196.80" y="461.70" width="11.90" height="40.11" fill="#0A2FA8" />
<rect x="196.80" y="501.80" width="11.90" height="4.81" fill="#C80014" />
<line x1="202.75" y1="507.30" x2="202.75" y2="509.10" stroke="#000" stroke-width="1.0" />
<text transform="translate(173.31,511.00) rotate(-90) scale(0.8583,1)" font-size="10.60" text-anchor="end" fill="#111" stroke="#111" stroke-width="0.350" >shLuci</text>
<text transform="translate(189.81,511.00) rotate(-90) scale(0.8629,1)" font-size="10.60" text-anchor="end" fill="#111" stroke="#111" stroke-width="0.348" >shHDAC5-1</text>
<text transform="translate(205.11,511.00) rotate(-90) scale(0.8629,1)" font-size="10.60" text-anchor="end" fill="#111" stroke="#111" stroke-width="0.348" >shHDAC5-2</text>
<text transform="translate(129.05,508.60) rotate(-90) scale(0.8067,1)" font-size="9.00" fill="#1e1e1e" >Percentage in</text>
<text transform="translate(141.45,508.60) rotate(-90) scale(0.8317,1)" font-size="9.00" fill="#1e1e1e" >total erythroblasts (%)</text>
<text transform="translate(189.50,572.50) scale(0.6054,1)" font-size="11.00" text-anchor="middle" fill="#1e1e1e" stroke="#1e1e1e" stroke-width="0.413" >Day 11</text>
<line x1="262.00" y1="447.60" x2="262.00" y2="514.00" stroke="#000" stroke-width="1.5" />
<line x1="261.30" y1="507.30" x2="313.00" y2="507.30" stroke="#000" stroke-width="1.5" />
<line x1="260.10" y1="456.40" x2="262.00" y2="456.40" stroke="#000" stroke-width="1.0" />
<text transform="translate(260.00,459.84) scale(0.9700,1)" font-size="10.00" text-anchor="end" fill="#111" stroke="#111" stroke-width="0.206" >100</text>
<line x1="260.10" y1="482.20" x2="262.00" y2="482.20" stroke="#000" stroke-width="1.0" />
<text transform="translate(260.00,485.64) scale(0.9700,1)" font-size="10.00" text-anchor="end" fill="#111" stroke="#111" stroke-width="0.206" >50</text>
<line x1="260.10" y1="507.00" x2="262.00" y2="507.00" stroke="#000" stroke-width="1.0" />
<text transform="translate(260.00,510.44) scale(0.9700,1)" font-size="10.00" text-anchor="end" fill="#111" stroke="#111" stroke-width="0.206" >0</text>
<rect x="265.90" y="455.90" width="11.90" height="3.91" fill="#1F0099" />
<rect x="265.90" y="459.80" width="11.90" height="25.61" fill="#3CFF00" />
<rect x="265.90" y="485.40" width="11.90" height="21.31" fill="#0A2FA8" />
<rect x="265.90" y="506.70" width="11.90" height="-0.09" fill="#C80014" />
<line x1="271.85" y1="507.30" x2="271.85" y2="509.10" stroke="#000" stroke-width="1.0" />
<rect x="281.10" y="455.90" width="11.90" height="2.61" fill="#1F0099" />
<rect x="281.10" y="458.50" width="11.90" height="23.01" fill="#3CFF00" />
<rect x="281.10" y="481.50" width="11.90" height="24.21" fill="#0A2FA8" />
<rect x="281.10" y="505.70" width="11.90" height="0.91" fill="#C80014" />
<line x1="287.05" y1="507.30" x2="287.05" y2="509.10" stroke="#000" stroke-width="1.0" />
<rect x="296.30" y="455.60" width="11.90" height="3.41" fill="#1F0099" />
<rect x="296.30" y="459.00" width="11.90" height="23.21" fill="#3CFF00" />
<rect x="296.30" y="482.20" width="11.90" height="23.51" fill="#0A2FA8" />
<rect x="296.30" y="505.70" width="11.90" height="0.91" fill="#C80014" />
<line x1="302.25" y1="507.30" x2="302.25" y2="509.10" stroke="#000" stroke-width="1.0" />
<text transform="translate(272.81,511.00) rotate(-90) scale(0.8583,1)" font-size="10.60" text-anchor="end" fill="#111" stroke="#111" stroke-width="0.350" >shLuci</text>
<text transform="translate(289.31,511.00) rotate(-90) scale(0.8629,1)" font-size="10.60" text-anchor="end" fill="#111" stroke="#111" stroke-width="0.348" >shHDAC5-1</text>
<text transform="translate(304.61,511.00) rotate(-90) scale(0.8629,1)" font-size="10.60" text-anchor="end" fill="#111" stroke="#111" stroke-width="0.348" >shHDAC5-2</text>
<text transform="translate(228.55,508.60) rotate(-90) scale(0.8067,1)" font-size="9.00" fill="#1e1e1e" >Percentage in</text>
<text transform="translate(240.95,508.60) rotate(-90) scale(0.8317,1)" font-size="9.00" fill="#1e1e1e" >total erythroblasts (%)</text>
<text transform="translate(289.20,572.50) scale(0.6197,1)" font-size="11.00" text-anchor="middle" fill="#1e1e1e" stroke="#1e1e1e" stroke-width="0.403" >Day 13</text>
<line x1="361.70" y1="447.60" x2="361.70" y2="514.00" stroke="#000" stroke-width="1.5" />
<line x1="361.00" y1="507.30" x2="412.70" y2="507.30" stroke="#000" stroke-width="1.5" />
<line x1="359.80" y1="456.40" x2="361.70" y2="456.40" stroke="#000" stroke-width="1.0" />
<text transform="translate(359.70,459.84) scale(0.9700,1)" font-size="10.00" text-anchor="end" fill="#111" stroke="#111" stroke-width="0.206" >100</text>
<line x1="359.80" y1="482.20" x2="361.70" y2="482.20" stroke="#000" stroke-width="1.0" />
<text transform="translate(359.70,485.64) scale(0.9700,1)" font-size="10.00" text-anchor="end" fill="#111" stroke="#111" stroke-width="0.206" >50</text>
<line x1="359.80" y1="507.00" x2="361.70" y2="507.00" stroke="#000" stroke-width="1.0" />
<text transform="translate(359.70,510.44) scale(0.9700,1)" font-size="10.00" text-anchor="end" fill="#111" stroke="#111" stroke-width="0.206" >0</text>
<rect x="365.60" y="455.30" width="11.90" height="21.71" fill="#1F0099" />
<rect x="365.60" y="477.00" width="11.90" height="26.41" fill="#3CFF00" />
<rect x="365.60" y="503.40" width="11.90" height="3.11" fill="#0A2FA8" />
<rect x="365.60" y="506.50" width="11.90" height="0.11" fill="#C80014" />
<line x1="371.55" y1="507.30" x2="371.55" y2="509.10" stroke="#000" stroke-width="1.0" />
<rect x="380.80" y="455.30" width="11.90" height="5.81" fill="#1F0099" />
<rect x="380.80" y="461.10" width="11.90" height="29.11" fill="#3CFF00" />
<rect x="380.80" y="490.20" width="11.90" height="16.31" fill="#0A2FA8" />
<rect x="380.80" y="506.50" width="11.90" height="0.11" fill="#C80014" />
<line x1="386.75" y1="507.30" x2="386.75" y2="509.10" stroke="#000" stroke-width="1.0" />
<rect x="396.00" y="455.30" width="11.90" height="7.71" fill="#1F0099" />
<rect x="396.00" y="463.00" width="11.90" height="31.91" fill="#3CFF00" />
<rect x="396.00" y="494.90" width="11.90" height="11.61" fill="#0A2FA8" />
<rect x="396.00" y="506.50" width="11.90" height="0.11" fill="#C80014" />
<line x1="401.95" y1="507.30" x2="401.95" y2="509.10" stroke="#000" stroke-width="1.0" />
<text transform="translate(372.51,511.00) rotate(-90) scale(0.8583,1)" font-size="10.60" text-anchor="end" fill="#111" stroke="#111" stroke-width="0.350" >shLuci</text>
<text transform="translate(389.01,511.00) rotate(-90) scale(0.8629,1)" font-size="10.60" text-anchor="end" fill="#111" stroke="#111" stroke-width="0.348" >shHDAC5-1</text>
<text transform="translate(404.31,511.00) rotate(-90) scale(0.8629,1)" font-size="10.60" text-anchor="end" fill="#111" stroke="#111" stroke-width="0.348" >shHDAC5-2</text>
<text transform="translate(328.25,508.60) rotate(-90) scale(0.8067,1)" font-size="9.00" fill="#1e1e1e" >Percentage in</text>
<text transform="translate(340.65,508.60) rotate(-90) scale(0.8317,1)" font-size="9.00" fill="#1e1e1e" >total erythroblasts (%)</text>
<text transform="translate(388.40,572.50) scale(0.6341,1)" font-size="11.00" text-anchor="middle" fill="#1e1e1e" stroke="#1e1e1e" stroke-width="0.394" >Day 15</text>
<line x1="460.70" y1="447.60" x2="460.70" y2="514.00" stroke="#000" stroke-width="1.5" />
<line x1="460.00" y1="507.30" x2="511.70" y2="507.30" stroke="#000" stroke-width="1.5" />
<line x1="458.80" y1="456.40" x2="460.70" y2="456.40" stroke="#000" stroke-width="1.0" />
<text transform="translate(458.70,459.84) scale(0.9700,1)" font-size="10.00" text-anchor="end" fill="#111" stroke="#111" stroke-width="0.206" >100</text>
<line x1="458.80" y1="482.20" x2="460.70" y2="482.20" stroke="#000" stroke-width="1.0" />
<text transform="translate(458.70,485.64) scale(0.9700,1)" font-size="10.00" text-anchor="end" fill="#111" stroke="#111" stroke-width="0.206" >50</text>
<line x1="458.80" y1="507.00" x2="460.70" y2="507.00" stroke="#000" stroke-width="1.0" />
<text transform="translate(458.70,510.44) scale(0.9700,1)" font-size="10.00" text-anchor="end" fill="#111" stroke="#111" stroke-width="0.206" >0</text>
<rect x="464.60" y="455.10" width="11.90" height="44.81" fill="#1F0099" />
<rect x="464.60" y="499.90" width="11.90" height="6.11" fill="#3CFF00" />
<rect x="464.60" y="506.00" width="11.90" height="0.01" fill="#0A2FA8" />
<rect x="464.60" y="506.00" width="11.90" height="0.61" fill="#C80014" />
<line x1="470.55" y1="507.30" x2="470.55" y2="509.10" stroke="#000" stroke-width="1.0" />
<rect x="479.80" y="455.10" width="11.90" height="37.41" fill="#1F0099" />
<rect x="479.80" y="492.50" width="11.90" height="13.51" fill="#3CFF00" />
<rect x="479.80" y="506.00" width="11.90" height="0.01" fill="#0A2FA8" />
<rect x="479.80" y="506.00" width="11.90" height="0.61" fill="#C80014" />
<line x1="485.75" y1="507.30" x2="485.75" y2="509.10" stroke="#000" stroke-width="1.0" />
<rect x="495.00" y="455.10" width="11.90" height="40.11" fill="#1F0099" />
<rect x="495.00" y="495.20" width="11.90" height="10.81" fill="#3CFF00" />
<rect x="495.00" y="506.00" width="11.90" height="0.01" fill="#0A2FA8" />
<rect x="495.00" y="506.00" width="11.90" height="0.61" fill="#C80014" />
<line x1="500.95" y1="507.30" x2="500.95" y2="509.10" stroke="#000" stroke-width="1.0" />
<text transform="translate(471.51,511.00) rotate(-90) scale(0.8583,1)" font-size="10.60" text-anchor="end" fill="#111" stroke="#111" stroke-width="0.350" >shLuci</text>
<text transform="translate(488.01,511.00) rotate(-90) scale(0.8629,1)" font-size="10.60" text-anchor="end" fill="#111" stroke="#111" stroke-width="0.348" >shHDAC5-1</text>
<text transform="translate(503.31,511.00) rotate(-90) scale(0.8629,1)" font-size="10.60" text-anchor="end" fill="#111" stroke="#111" stroke-width="0.348" >shHDAC5-2</text>
<text transform="translate(427.25,508.60) rotate(-90) scale(0.8067,1)" font-size="9.00" fill="#1e1e1e" >Percentage in</text>
<text transform="translate(439.65,508.60) rotate(-90) scale(0.8317,1)" font-size="9.00" fill="#1e1e1e" >total erythroblasts (%)</text>
<text transform="translate(488.10,572.50) scale(0.6657,1)" font-size="11.00" text-anchor="middle" fill="#1e1e1e" stroke="#1e1e1e" stroke-width="0.376" >Day 17</text>
<rect x="0.00" y="0.00" width="520.00" height="1.50" fill="#000" />
<rect x="0.00" y="0.00" width="1.60" height="584.00" fill="#000" />
<rect x="518.30" y="0.00" width="1.70" height="584.00" fill="#000" />
<rect x="0.00" y="582.30" width="520.00" height="1.70" fill="#000" />
</svg></body></html>
